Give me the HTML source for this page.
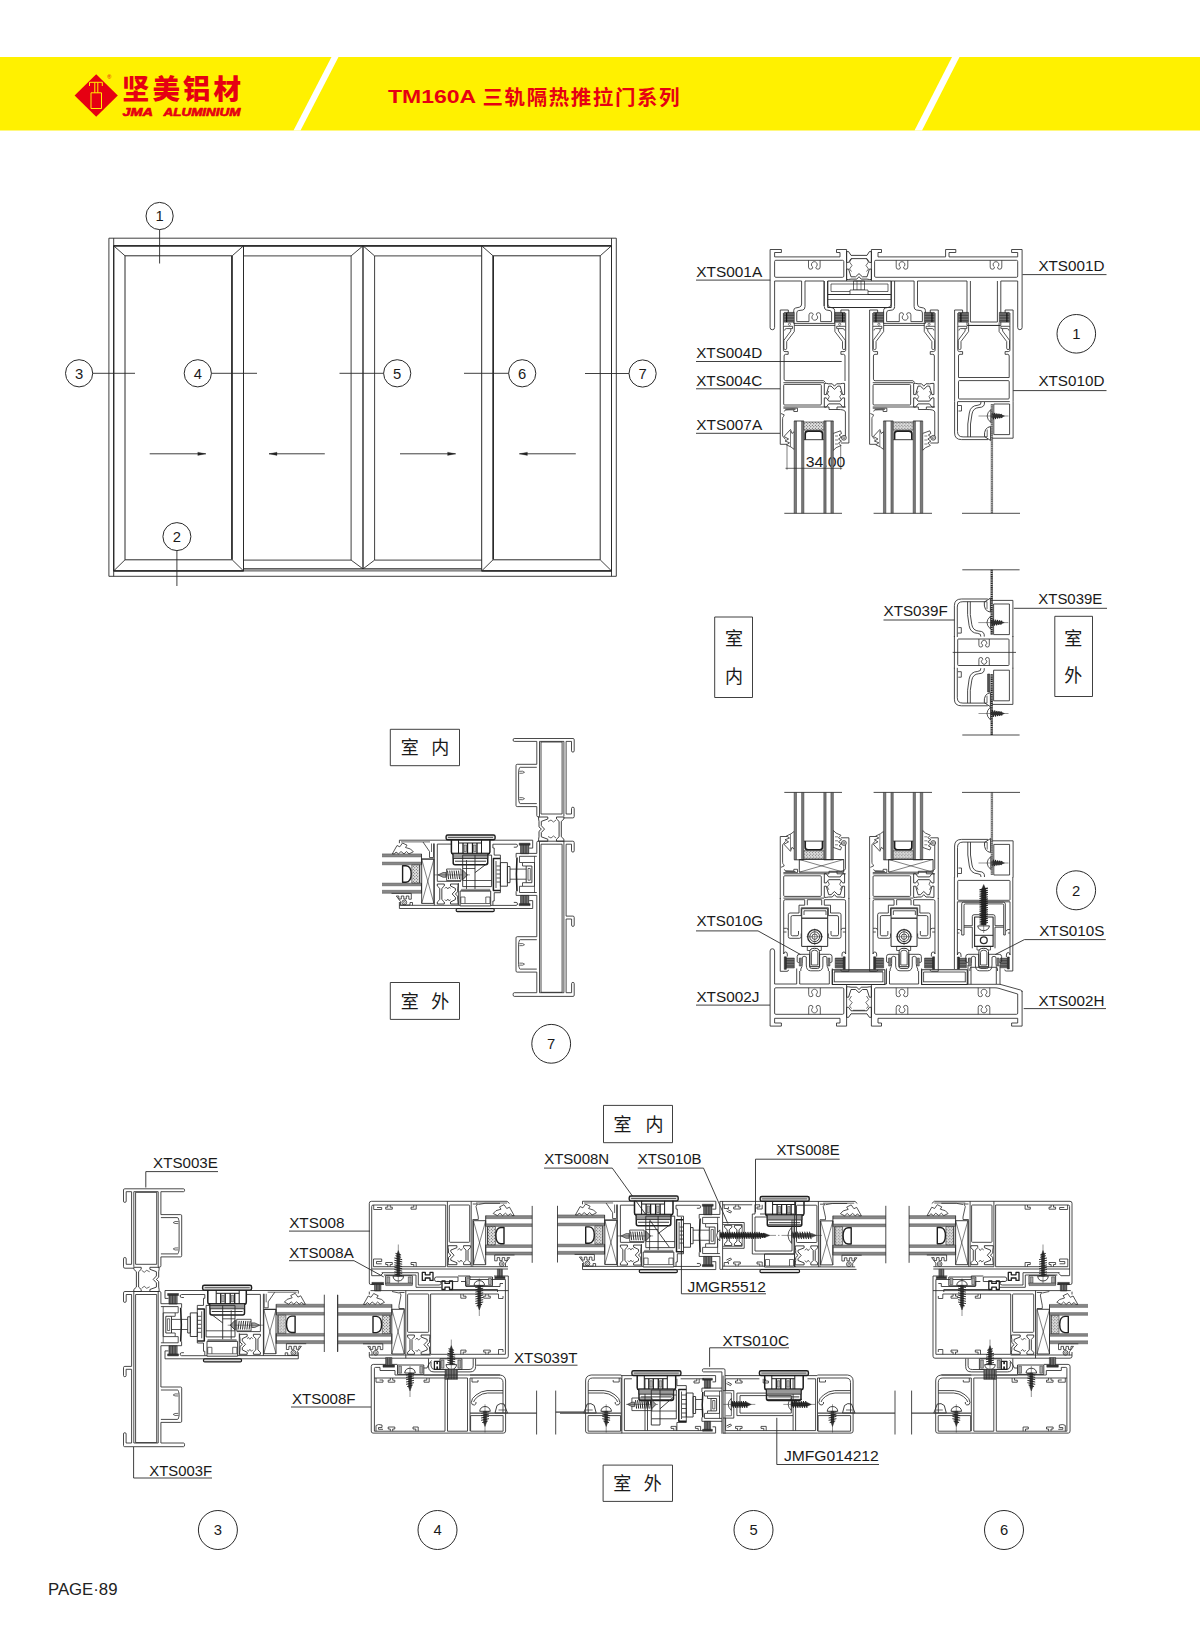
<!DOCTYPE html>
<html lang="zh"><head><meta charset="utf-8"><title>TM160A 三轨隔热推拉门系列</title>
<style>
html,body{margin:0;padding:0;background:#fff}
svg{display:block}
.lb{font-family:"Liberation Sans","Noto Sans CJK SC",sans-serif;fill:#1a1a1a;stroke:none}
.cj{font-family:"Liberation Sans","Noto Sans CJK SC",sans-serif;font-weight:400;fill:#1a1a1a;stroke:none}
</style></head><body>
<svg width="1200" height="1629" viewBox="0 0 1200 1629" fill="none" stroke="#2a2a2a" stroke-width="0.9" stroke-linecap="butt" stroke-linejoin="round">
<defs><pattern id="dots" width="3" height="3" patternUnits="userSpaceOnUse"><rect width="3" height="3" fill="#e4e4e4" stroke="none"/><circle cx="0.8" cy="0.8" r="0.55" fill="#333" stroke="none"/><circle cx="2.3" cy="2.2" r="0.5" fill="#333" stroke="none"/></pattern><pattern id="pile" width="2" height="1.6" patternUnits="userSpaceOnUse"><rect width="2" height="1.6" fill="#444" stroke="none"/><rect y="0.9" width="2" height="0.5" fill="#999" stroke="none"/></pattern><pattern id="pilev" width="1.6" height="2" patternUnits="userSpaceOnUse"><rect width="1.6" height="2" fill="#444" stroke="none"/><rect x="0.9" width="0.5" height="2" fill="#999" stroke="none"/></pattern></defs>
<g stroke="none">
<rect x="0" y="57" width="1200" height="73.5" fill="#fff100"/>
<path d="M331.5 57L338.5 57L300.5 130.5L293.5 130.5Z" fill="#fff"/>
<path d="M952 57L959.5 57L922 130.5L914.5 130.5Z" fill="#fff"/>
<path d="M96.2 74.3L117.8 95.5L96.2 116.7L74.6 95.5Z" fill="#e60012"/>
<g fill="none" stroke="#fff100" stroke-width="1">
<path d="M89.5 86V82.3H102.3V86M94.8 82.3V92.8M97.8 82.3V92.8"/>
<rect x="91" y="92.8" width="10.5" height="15.7"/>
</g>
<text x="109.3" y="78.6" font-size="5.5" fill="#e60012" text-anchor="middle" font-family="Liberation Sans,sans-serif">®</text>
<text x="122" y="99" font-size="27.5" fill="#e60012" font-weight="900" textLength="119" lengthAdjust="spacing" font-family="'Liberation Sans','Noto Sans CJK SC',sans-serif">坚美铝材</text>
<text x="122.5" y="115.6" font-size="10" fill="#e60012" font-weight="bold" font-style="italic" textLength="30.5" lengthAdjust="spacingAndGlyphs" font-family="'Liberation Sans',sans-serif" stroke="#e60012" stroke-width="0.6">JMA</text>
<text x="163.5" y="115.6" font-size="10" fill="#e60012" font-weight="bold" font-style="italic" textLength="77" lengthAdjust="spacingAndGlyphs" font-family="'Liberation Sans',sans-serif" stroke="#e60012" stroke-width="0.6">ALUMINIUM</text>
<text x="388" y="103" font-size="19.2" fill="#e60012" font-weight="bold" textLength="88" lengthAdjust="spacingAndGlyphs" font-family="'Liberation Sans',sans-serif">TM160A</text>
<text x="482.5" y="104.6" font-size="20.5" fill="#e60012" font-weight="bold" textLength="197" lengthAdjust="spacing" font-family="'Liberation Sans','Noto Sans CJK SC',sans-serif">三轨隔热推拉门系列</text>
<text x="48" y="1595" font-size="16" fill="#222" textLength="69.5" lengthAdjust="spacingAndGlyphs" font-family="'Liberation Sans',sans-serif">PAGE·89</text>
</g>
<rect x="108.9" y="238.2" width="507.4" height="338.1" stroke-width="0.9"/>
<rect x="113.7" y="245.8" width="497.8" height="325.1" stroke-width="0.9"/>
<path d="M113.7 245.8L611.5 245.8" stroke-width="1.3"/>
<path d="M113.7 238.2L113.7 576.3" stroke-width="0.9"/>
<path d="M611.5 238.2L611.5 576.3" stroke-width="0.9"/>
<rect x="113.7" y="245.8" width="129.8" height="325.1" stroke-width="1"/>
<rect x="125" y="255.8" width="107.2" height="304" stroke-width="1"/>
<path d="M113.7 245.8L125 255.8" stroke-width="0.9"/>
<path d="M243.5 245.8L232.2 255.8" stroke-width="0.9"/>
<path d="M113.7 570.9L125 559.8" stroke-width="0.9"/>
<path d="M243.5 570.9L232.2 559.8" stroke-width="0.9"/>
<rect x="481.7" y="245.8" width="129.8" height="325.1" stroke-width="1"/>
<rect x="493" y="255.8" width="107.2" height="304" stroke-width="1"/>
<path d="M481.7 245.8L493 255.8" stroke-width="0.9"/>
<path d="M611.5 245.8L600.2 255.8" stroke-width="0.9"/>
<path d="M481.7 570.9L493 559.8" stroke-width="0.9"/>
<path d="M611.5 570.9L600.2 559.8" stroke-width="0.9"/>
<path d="M243.5 245.8L481.7 245.8" stroke-width="1.3"/>
<path d="M243.5 568.9L481.7 568.9" stroke-width="1.3"/>
<path d="M243.5 255.9L351.1 255.9" stroke-width="0.9"/>
<path d="M243.5 560.1L351.1 560.1" stroke-width="0.9"/>
<path d="M351.1 255.9L351.1 560.1" stroke-width="0.9"/>
<path d="M363 245.8L363 568.9" stroke-width="1.4"/>
<path d="M363 245.8L351.1 255.9" stroke-width="0.9"/>
<path d="M363 568.9L351.1 560.1" stroke-width="0.9"/>
<path d="M374.6 255.9L374.6 560.1" stroke-width="0.9"/>
<path d="M374.6 255.9L481.7 255.9" stroke-width="0.9"/>
<path d="M374.6 560.1L481.7 560.1" stroke-width="0.9"/>
<path d="M363 245.8L374.6 255.9" stroke-width="0.9"/>
<path d="M363 568.9L374.6 560.1" stroke-width="0.9"/>
<path d="M231.8 255.9L231.8 559.3" stroke-width="1.4"/>
<path d="M243.5 245.8L243.5 570.9" stroke-width="1"/>
<path d="M493.3 255.9L493.3 559.3" stroke-width="1.4"/>
<path d="M113.7 570.9L243.5 570.9" stroke-width="1.3"/>
<path d="M481.7 570.9L611.5 570.9" stroke-width="1.3"/>
<path d="M149.7 453.8L205.8 453.8" stroke-width="0.9"/>
<path d="M205.8 453.8L197.8 452.2L197.8 455.4Z" stroke-width="0.3" fill="#222"/>
<path d="M324.8 453.8L269 453.8" stroke-width="0.9"/>
<path d="M269 453.8L277 452.2L277 455.4Z" stroke-width="0.3" fill="#222"/>
<path d="M400 453.8L455.6 453.8" stroke-width="0.9"/>
<path d="M455.6 453.8L447.6 452.2L447.6 455.4Z" stroke-width="0.3" fill="#222"/>
<path d="M575.8 453.8L519.4 453.8" stroke-width="0.9"/>
<path d="M519.4 453.8L527.4 452.2L527.4 455.4Z" stroke-width="0.3" fill="#222"/>
<circle cx="159.6" cy="216" r="13.6" stroke-width="1"/>
<text x="159.6" y="221.33" font-size="14.8" text-anchor="middle" class="lb">1</text>
<path d="M159.6 229.6L159.6 263.5" stroke-width="0.9"/>
<circle cx="176.9" cy="536.6" r="14" stroke-width="1"/>
<text x="176.9" y="541.93" font-size="14.8" text-anchor="middle" class="lb">2</text>
<path d="M176.9 550.6L176.9 586" stroke-width="0.9"/>
<circle cx="79.1" cy="373.3" r="13.6" stroke-width="1"/>
<text x="79.1" y="378.63" font-size="14.8" text-anchor="middle" class="lb">3</text>
<path d="M92.7 373.3L135 373.3" stroke-width="0.9"/>
<circle cx="197.8" cy="373.3" r="13.6" stroke-width="1"/>
<text x="197.8" y="378.63" font-size="14.8" text-anchor="middle" class="lb">4</text>
<path d="M211.4 373.3L257 373.3" stroke-width="0.9"/>
<circle cx="397.2" cy="373.3" r="13.6" stroke-width="1"/>
<text x="397.2" y="378.63" font-size="14.8" text-anchor="middle" class="lb">5</text>
<path d="M339.5 373.3L383.6 373.3" stroke-width="0.9"/>
<circle cx="522.2" cy="373.3" r="13.6" stroke-width="1"/>
<text x="522.2" y="378.63" font-size="14.8" text-anchor="middle" class="lb">6</text>
<path d="M464 373.3L508.6 373.3" stroke-width="0.9"/>
<circle cx="642.6" cy="373.5" r="13.6" stroke-width="1"/>
<text x="642.6" y="378.83" font-size="14.8" text-anchor="middle" class="lb">7</text>
<path d="M585 373.5L629 373.5" stroke-width="0.9"/>
<text x="696.2" y="277.3" font-size="14.3" textLength="66" lengthAdjust="spacingAndGlyphs" class="lb">XTS001A</text>
<path d="M696 280.1L770.3 280.1"/>
<text x="696.2" y="357.9" font-size="14.3" textLength="66" lengthAdjust="spacingAndGlyphs" class="lb">XTS004D</text>
<path d="M696 361.5L841.7 361.5"/>
<text x="696.2" y="385.5" font-size="14.3" textLength="66" lengthAdjust="spacingAndGlyphs" class="lb">XTS004C</text>
<path d="M696 388.8L780.2 388.8"/>
<text x="696.2" y="430" font-size="14.3" textLength="66" lengthAdjust="spacingAndGlyphs" class="lb">XTS007A</text>
<path d="M696 433.3L780.2 433.3"/>
<text x="1038.4" y="271" font-size="14.3" textLength="66" lengthAdjust="spacingAndGlyphs" class="lb">XTS001D</text>
<path d="M1022.5 274.6L1106.5 274.6"/>
<text x="1038.4" y="385.8" font-size="14.3" textLength="66" lengthAdjust="spacingAndGlyphs" class="lb">XTS010D</text>
<path d="M1013.2 390.6L1106.5 390.6"/>
<circle cx="1076.3" cy="333.8" r="19.3" stroke-width="1"/>
<text x="1076.3" y="339.13" font-size="14.8" text-anchor="middle" class="lb">1</text>
<text x="805.7" y="467.3" font-size="14.3" textLength="39.5" lengthAdjust="spacingAndGlyphs" class="lb">34.00</text>
<text x="883.5" y="615.8" font-size="14.3" textLength="64.2" lengthAdjust="spacingAndGlyphs" class="lb">XTS039F</text>
<path d="M883.5 620L954.4 620"/>
<text x="1038.3" y="603.8" font-size="14.3" textLength="64" lengthAdjust="spacingAndGlyphs" class="lb">XTS039E</text>
<path d="M1013.8 608.3L1107 608.3"/>
<rect x="1054.8" y="616.3" width="37.7" height="80.2" stroke-width="0.9"/>
<text font-size="18" text-anchor="middle" class="cj"><tspan x="1073.3" y="645.19">室</tspan><tspan x="1073.3" y="681.99">外</tspan></text>
<rect x="714.7" y="617" width="37.8" height="80.5" stroke-width="0.9"/>
<text font-size="18" text-anchor="middle" class="cj"><tspan x="734" y="645.19">室</tspan><tspan x="734" y="683.39">内</tspan></text>
<text x="696.4" y="926.2" font-size="14.3" textLength="66.6" lengthAdjust="spacingAndGlyphs" class="lb">XTS010G</text>
<path d="M696 930.9L758 930.9"/>
<path d="M758 930.9L800.5 954.5"/>
<text x="696.4" y="1001.7" font-size="14.3" textLength="63" lengthAdjust="spacingAndGlyphs" class="lb">XTS002J</text>
<path d="M696 1005.1L770 1005.1"/>
<text x="1039.2" y="935.6" font-size="14.3" textLength="65.2" lengthAdjust="spacingAndGlyphs" class="lb">XTS010S</text>
<path d="M1024.4 939.6L1105.8 939.6"/>
<path d="M1024.4 939.6L995.3 954.5"/>
<text x="1038.5" y="1005.7" font-size="14.3" textLength="66" lengthAdjust="spacingAndGlyphs" class="lb">XTS002H</text>
<path d="M1023.7 1008.6L1106 1008.6"/>
<circle cx="1076.1" cy="890.3" r="19.5" stroke-width="1"/>
<text x="1076.1" y="895.63" font-size="14.8" text-anchor="middle" class="lb">2</text>
<rect x="390.3" y="729.3" width="69.2" height="36.4" stroke-width="0.9"/>
<text font-size="18" text-anchor="middle" class="cj"><tspan x="409.8" y="754.39">室</tspan><tspan x="440.3" y="754.39">内</tspan></text>
<rect x="390.3" y="982.5" width="69.2" height="36.9" stroke-width="0.9"/>
<text font-size="18" text-anchor="middle" class="cj"><tspan x="409.8" y="1008.19">室</tspan><tspan x="440.3" y="1008.19">外</tspan></text>
<circle cx="551.2" cy="1043.8" r="19.4" stroke-width="1"/>
<text x="551.2" y="1049.13" font-size="14.8" text-anchor="middle" class="lb">7</text>
<text x="153.1" y="1168.3" font-size="14.3" textLength="64.7" lengthAdjust="spacingAndGlyphs" class="lb">XTS003E</text>
<path d="M145.8 1171.6L218 1171.6"/>
<path d="M145.8 1171.6L145.8 1187.5"/>
<text x="149.3" y="1475.8" font-size="14.3" textLength="62.7" lengthAdjust="spacingAndGlyphs" class="lb">XTS003F</text>
<path d="M133.6 1478L212 1478"/>
<path d="M133.6 1447L133.6 1478"/>
<text x="289.2" y="1228.1" font-size="14.3" textLength="55.2" lengthAdjust="spacingAndGlyphs" class="lb">XTS008</text>
<path d="M289 1231.1L370 1231.1"/>
<text x="289.2" y="1258.1" font-size="14.3" textLength="64.5" lengthAdjust="spacingAndGlyphs" class="lb">XTS008A</text>
<path d="M289 1260.7L354 1260.7"/>
<path d="M354 1260.7L383.7 1276.9"/>
<text x="291.9" y="1403.6" font-size="14.3" textLength="63.7" lengthAdjust="spacingAndGlyphs" class="lb">XTS008F</text>
<path d="M291 1407L371 1407"/>
<text x="514" y="1362.5" font-size="14.3" textLength="63.5" lengthAdjust="spacingAndGlyphs" class="lb">XTS039T</text>
<path d="M476.3 1365.2L577.5 1365.2"/>
<text x="544.2" y="1164.3" font-size="14.3" textLength="65" lengthAdjust="spacingAndGlyphs" class="lb">XTS008N</text>
<path d="M544 1168.1L612.3 1168.1"/>
<path d="M612.3 1168.1L669.3 1247.2"/>
<text x="637.7" y="1164.3" font-size="14.3" textLength="63.9" lengthAdjust="spacingAndGlyphs" class="lb">XTS010B</text>
<path d="M637.7 1168.1L703.5 1168.1"/>
<path d="M703.5 1168.1L727.9 1223.5"/>
<text x="776.4" y="1155.4" font-size="14.3" textLength="63.3" lengthAdjust="spacingAndGlyphs" class="lb">XTS008E</text>
<path d="M755.5 1159.2L839.7 1159.2"/>
<path d="M755.5 1159.2L755.5 1212.4"/>
<text x="687.4" y="1291.6" font-size="14.3" textLength="78.5" lengthAdjust="spacingAndGlyphs" class="lb">JMGR5512</text>
<path d="M681.4 1293.8L766 1293.8"/>
<path d="M681.4 1217L681.4 1293.8"/>
<text x="722.4" y="1345.5" font-size="14.3" textLength="66.6" lengthAdjust="spacingAndGlyphs" class="lb">XTS010C</text>
<path d="M709.6 1347.8L789 1347.8"/>
<path d="M709.6 1347.8L709.6 1366.8"/>
<text x="783.9" y="1461.1" font-size="14.3" textLength="94.9" lengthAdjust="spacingAndGlyphs" class="lb">JMFG014212</text>
<path d="M776.8 1464.5L879 1464.5"/>
<path d="M776.8 1417.8L776.8 1464.5"/>
<rect x="603.5" y="1105.4" width="69" height="37.3" stroke-width="0.9"/>
<text font-size="18" text-anchor="middle" class="cj"><tspan x="622.5" y="1131.09">室</tspan><tspan x="654.4" y="1131.09">内</tspan></text>
<rect x="603.1" y="1465.1" width="69.4" height="36.3" stroke-width="0.9"/>
<text font-size="18" text-anchor="middle" class="cj"><tspan x="622.3" y="1490.19">室</tspan><tspan x="652.7" y="1490.19">外</tspan></text>
<circle cx="217.9" cy="1530" r="19.5" stroke-width="1"/>
<text x="217.9" y="1535.33" font-size="14.8" text-anchor="middle" class="lb">3</text>
<circle cx="437.5" cy="1530" r="19.5" stroke-width="1"/>
<text x="437.5" y="1535.33" font-size="14.8" text-anchor="middle" class="lb">4</text>
<circle cx="753.5" cy="1530" r="19.5" stroke-width="1"/>
<text x="753.5" y="1535.33" font-size="14.8" text-anchor="middle" class="lb">5</text>
<circle cx="1004" cy="1530" r="19.5" stroke-width="1"/>
<text x="1004" y="1535.33" font-size="14.8" text-anchor="middle" class="lb">6</text>
<path d="M770.1 249.5L770.1 327.5" stroke-width="0.85"/>
<path d="M774.6 281L774.6 327.5" stroke-width="0.85"/>
<path d="M774.6 252.5L774.6 256.9" stroke-width="0.85"/>
<path d="M770.1 327.5A2.25 2.25 0 0 0 774.6 327.5" stroke-width="0.85"/>
<path d="M770.1 249.5L781.4 249.5" stroke-width="0.85"/>
<path d="M781.4 249.5L781.4 252.5" stroke-width="0.85"/>
<path d="M774.6 252.5L781.4 252.5" stroke-width="0.85"/>
<path d="M774.6 256.9L840 256.9" stroke-width="0.85"/>
<path d="M840 252.5L840 256.9" stroke-width="0.85"/>
<path d="M836.5 252.5L840 252.5" stroke-width="0.85"/>
<path d="M836.5 249.5L836.5 252.5" stroke-width="0.85"/>
<path d="M836.5 249.5L846.6 249.5" stroke-width="0.85"/>
<rect x="774.6" y="260.3" width="69.2" height="17" stroke-width="0.85" rx="1.2"/>
<path d="M846.6 249.5L846.6 281" stroke-width="0.85"/>
<path d="M808.5 260.3V267.08A2.15 2.15 0 0 0 812.8 267.08A2.9 2.9 0 1 1 815.8 267.08A2.15 2.15 0 0 0 820.1 267.08V260.3" stroke-width="0.75"/>
<path d="M774.6 281L801.6 281" stroke-width="0.85"/>
<path d="M805 281L824 281" stroke-width="0.85"/>
<path d="M846.6 251.6L848.6 251.6L851 255.38L867 255.38L869.4 251.6L871.4 251.6L871.4 262.4L869.4 262.4L867 258.62L851 258.62L848.6 262.4L846.6 262.4Z" stroke-width="0.9"/>
<path d="M846.6 279.5L848.6 279.5L851 279.1L856.8 279.1L859 276.7L861.2 279.1L867 279.1L869.4 279.5L871.4 279.5L871.4 269.1L869.4 269.1L867 276.8L862.4 276.8L859 273.6L855.6 276.8L851 276.8L848.6 269.1L846.6 269.1Z" stroke-width="0.9"/>
<path d="M851.5 259L849.5 262L852 265.5L849.5 269L851.5 271.5M866.5 259L868.5 262L866 265.5L868.5 269L866.5 271.5" stroke-width="0.7"/>
<path d="M871.4 249.5L871.4 281" stroke-width="0.85"/>
<path d="M871.4 249.5L881.5 249.5" stroke-width="0.85"/>
<path d="M881.5 249.5L881.5 252.5" stroke-width="0.85"/>
<path d="M878 252.5L881.5 252.5" stroke-width="0.85"/>
<path d="M878 252.5L878 256.9" stroke-width="0.85"/>
<path d="M878 256.9L945.6 256.9" stroke-width="0.85"/>
<path d="M945.6 249.5L945.6 256.9" stroke-width="0.85"/>
<path d="M945.6 249.5L955.8 249.5" stroke-width="0.85"/>
<path d="M955.8 249.5L955.8 252.5" stroke-width="0.85"/>
<path d="M949 252.5L955.8 252.5" stroke-width="0.85"/>
<path d="M949 252.5L949 256.9" stroke-width="0.85"/>
<path d="M949 256.9L1017.7 256.9" stroke-width="0.85"/>
<path d="M1017.7 252.5L1017.7 256.9" stroke-width="0.85"/>
<path d="M1011.6 252.5L1017.7 252.5" stroke-width="0.85"/>
<path d="M1011.6 249.5L1011.6 252.5" stroke-width="0.85"/>
<path d="M1011.6 249.5L1022.1 249.5" stroke-width="0.85"/>
<path d="M1022.1 249.5L1022.1 327.5" stroke-width="0.85"/>
<path d="M1017.7 281L1017.7 327.5" stroke-width="0.85"/>
<path d="M1017.7 327.5A2.2 2.2 0 0 0 1022.1 327.5" stroke-width="0.85"/>
<rect x="874.6" y="260.3" width="143.1" height="17" stroke-width="0.85" rx="1.2"/>
<path d="M896.2 260.3V267.08A2.15 2.15 0 0 0 900.5 267.08A2.9 2.9 0 1 1 903.5 267.08A2.15 2.15 0 0 0 907.8 267.08V260.3" stroke-width="0.75"/>
<path d="M990.2 260.3V267.08A2.15 2.15 0 0 0 994.5 267.08A2.9 2.9 0 1 1 997.5 267.08A2.15 2.15 0 0 0 1001.8 267.08V260.3" stroke-width="0.75"/>
<path d="M891.2 281L914.1 281" stroke-width="0.85"/>
<path d="M917.5 281L967 281" stroke-width="0.85"/>
<path d="M1000.8 281L1017.7 281" stroke-width="0.85"/>
<rect x="827.7" y="281" width="63.5" height="26.5" stroke-width="1"/>
<path d="M831 284L888 284" stroke-width="0.7"/>
<path d="M831 291.5L888 291.5" stroke-width="0.7"/>
<path d="M828 294.5L891 294.5" stroke-width="1.1"/>
<path d="M828 299.5L891 299.5" stroke-width="0.7"/>
<path d="M831 284L831 291.5" stroke-width="0.7"/>
<path d="M888 284L888 291.5" stroke-width="0.7"/>
<rect x="853.5" y="281" width="11" height="9" stroke-width="0.7"/>
<rect x="850" y="290" width="18" height="4.5" stroke-width="0.7" fill="#fff"/>
<path d="M857 281L857 290" stroke-width="0.6"/>
<path d="M861 281L861 290" stroke-width="0.6"/>
<path d="M801.6 281V304Q801.6 306.6 799.4 307.2L795.55 308Q793.75 308.4 793.75 310.5V323.4" stroke-width="0.85"/>
<path d="M805 281V306.5Q805 309.6 802.8 310L798.35 310.6Q796.75 311 796.75 313V321.6" stroke-width="0.85"/>
<path d="M827.7 281V304Q827.7 306.6 829.9 307.2L832.8 308Q834.6 308.4 834.6 310.5V323.4" stroke-width="0.85"/>
<path d="M824.3 281V306.5Q824.3 309.6 826.5 310L830 310.6Q831.6 311 831.6 313V321.6" stroke-width="0.85"/>
<path d="M793.75 323.4L834.6 323.4" stroke-width="0.85"/>
<path d="M796.75 321.6L808.98 321.6" stroke-width="0.85"/>
<path d="M820.57 321.6L831.6 321.6" stroke-width="0.85"/>
<path d="M808.98 321.6V314.82A2.15 2.15 0 0 1 813.27 314.82A2.9 2.9 0 1 0 816.27 314.82A2.15 2.15 0 0 1 820.57 314.82V321.6" stroke-width="0.75"/>
<path d="M824 281L824 306" stroke-width="0.85"/>
<path d="M891.2 281V304Q891.2 306.6 889 307.2L885.4 308Q883.6 308.4 883.6 310.5V323.4" stroke-width="0.85"/>
<path d="M894.6 281V306.5Q894.6 309.6 892.4 310L888.2 310.6Q886.6 311 886.6 313V321.6" stroke-width="0.85"/>
<path d="M917.5 281V304Q917.5 306.6 919.7 307.2L923.6 308Q925.4 308.4 925.4 310.5V323.4" stroke-width="0.85"/>
<path d="M914.1 281V306.5Q914.1 309.6 916.3 310L920.8 310.6Q922.4 311 922.4 313V321.6" stroke-width="0.85"/>
<path d="M883.6 323.4L925.4 323.4" stroke-width="0.85"/>
<path d="M886.6 321.6L899.3 321.6" stroke-width="0.85"/>
<path d="M910.9 321.6L922.4 321.6" stroke-width="0.85"/>
<path d="M899.3 321.6V314.82A2.15 2.15 0 0 1 903.6 314.82A2.9 2.9 0 1 0 906.6 314.82A2.15 2.15 0 0 1 910.9 314.82V321.6" stroke-width="0.75"/>
<path d="M894.6 307.5L894.6 308" stroke-width="0.85"/>
<path d="M967 281L967 325.5" stroke-width="0.85"/>
<path d="M970.4 281L970.4 322" stroke-width="0.85"/>
<path d="M997.4 281L997.4 322" stroke-width="0.85"/>
<path d="M1000.8 281L1000.8 325.5" stroke-width="0.85"/>
<path d="M970.4 322L997.4 322" stroke-width="0.85"/>
<path d="M967 325.5L1000.8 325.5" stroke-width="0.85"/>
<g transform="translate(0 0)">
<path d="M780.25 310L780.25 382" stroke-width="0.85"/>
<path d="M848.9 310L848.9 382" stroke-width="0.85"/>
<path d="M780.25 310L788.3 310" stroke-width="0.85"/>
<path d="M788.3 310L788.3 313" stroke-width="0.85"/>
<path d="M786.5 313L788.3 313" stroke-width="0.85"/>
<path d="M840.9 310L848.9 310" stroke-width="0.85"/>
<path d="M840.9 310L840.9 313" stroke-width="0.85"/>
<path d="M840.9 313L842.7 313" stroke-width="0.85"/>
<path d="M783.4 313L783.4 325.5" stroke-width="0.85"/>
<path d="M845.7 313L845.7 325.5" stroke-width="0.85"/>
<rect x="784.2" y="312.4" width="10" height="9.8" stroke-width="0.5" fill="url(#pile)" stroke="#222"/>
<rect x="835" y="312.4" width="10" height="9.8" stroke-width="0.5" fill="url(#pile)" stroke="#222"/>
<path d="M786.6 313L786.6 322" stroke-width="1.2" stroke="#111"/>
<path d="M842.6 313L842.6 322" stroke-width="1.2" stroke="#111"/>
<path d="M794.3 325.4L835 325.4" stroke-width="0.85"/>
<path d="M783.6 326.3H792.5V328.6H786.2Q784.6 328.8 784.6 330.5" stroke-width="0.8"/>
<path d="M794.3 322.5V331.5L786.7 341.5V348.2Q786.7 349.6 785.3 349.6Q783.9 349.6 783.9 348.2V340.3L790.8 331V329" stroke-width="0.8"/>
<circle cx="789.5" cy="324.3" r="1.1" stroke-width="0.6"/>
<path d="M845.6 326.3H836.7V328.6H843Q844.6 328.8 844.6 330.5" stroke-width="0.8"/>
<path d="M834.9 322.5V331.5L842.5 341.5V348.2Q842.5 349.6 843.9 349.6Q845.3 349.6 845.3 348.2V340.3L838.4 331V329" stroke-width="0.8"/>
<circle cx="839.7" cy="324.3" r="1.1" stroke-width="0.6"/>
<path d="M783.4 325.5V350.3Q783.6 351.6 785 351.6H788.2V354.3H785.5Q784.1 354.5 784.1 356V379.2Q784.2 380.7 785.8 380.7H823.5L825.5 382.5" stroke-width="0.85"/>
<path d="M845.7 325.5V350.3Q845.5 351.6 844.1 351.6H840.9V354.3H843.6Q845 354.5 845 356V381" stroke-width="0.85"/>
<path d="M780.25 382L780.25 444.3" stroke-width="0.85"/>
<path d="M848.9 382L848.9 443" stroke-width="0.85"/>
<path d="M783.4 382.7L824 382.7" stroke-width="0.85"/>
<rect x="783.7" y="384.4" width="37.6" height="20.6" stroke-width="0.85" rx="1"/>
<path d="M783.4 407L829 407" stroke-width="0.85"/>
<path d="M824.3 383.4L826.3 383.4L828.7 383.8L832.25 383.8L834.45 386.2L836.65 383.8L840.2 383.8L842.6 383.4L844.6 383.4L844.6 394.6L842.6 394.6L840.2 386.1L837.85 386.1L834.45 389.3L831.05 386.1L828.7 386.1L826.3 394.6L824.3 394.6Z" stroke-width="0.9"/>
<path d="M824.3 397.9L826.3 397.9L828.7 401.12L840.2 401.12L842.6 397.9L844.6 397.9L844.6 407.1L842.6 407.1L840.2 403.88L828.7 403.88L826.3 407.1L824.3 407.1Z" stroke-width="0.9"/>
<path d="M828.8 391L827.3 394L829.3 396.5L828 399.5M840.2 391L841.7 394L839.7 396.5L841 399.5" stroke-width="0.7"/>
<path d="M829 407V409.5H837V407" stroke-width="0.85"/>
<path d="M837 407L845.7 407" stroke-width="0.85"/>
<path d="M837 409.5Q845 409.3 845.4 412V436" stroke-width="0.85"/>
<path d="M783.4 408.2H797.5V411.5H793.8V409.8H786Q784.6 410 784.3 411.5" stroke-width="0.8"/>
<path d="M781 413.5L784.2 414.8L783.5 416.5Q782.6 417 782.6 418.5V436L785.5 439.5" stroke-width="0.8"/>
<path d="M785.5 409.5Q792 408.8 795.5 409.2" stroke-width="1.4" stroke="#555"/>
<path d="M780.25 444.3L787 444.3" stroke-width="0.85"/>
<path d="M841 443L848.9 443" stroke-width="0.85"/>
<path d="M784 436.5L790.5 429.5L792 433.5L794.3 431.5V449.5L791 447L786.5 444.8L789.5 442.8L785 441L788.6 439L784 436.5Z" stroke-width="0.8"/>
<path d="M790.5 431V446.5" stroke-width="0.6"/>
<path d="M833 433.5L840.5 430.8L841.5 433.5L839 435L841.5 437L838.5 439L841.5 441.2L838.5 443L841 445.5Q835 447.5 833.2 450.5Z" stroke-width="0.8"/>
<path d="M835 436H838M835 440H838M835 444H838" stroke-width="0.6"/>
<circle cx="843.9" cy="437.8" r="2.4" stroke-width="0.8"/>
<circle cx="843.9" cy="437.8" r="1.1" stroke-width="0.6"/>
<rect x="794.1" y="421" width="2.4" height="92.3" stroke-width="0.01" fill="#7a7a7a" stroke="none"/>
<path d="M794.1 421L794.1 513.3" stroke-width="0.5" stroke="#333"/>
<path d="M796.5 421L796.5 513.3" stroke-width="0.5" stroke="#333"/>
<rect x="801.6" y="421" width="2.3" height="92.3" stroke-width="0.01" fill="#7a7a7a" stroke="none"/>
<path d="M801.6 421L801.6 513.3" stroke-width="0.5" stroke="#333"/>
<path d="M803.9 421L803.9 513.3" stroke-width="0.5" stroke="#333"/>
<rect x="823.8" y="421" width="2.3" height="92.3" stroke-width="0.01" fill="#7a7a7a" stroke="none"/>
<path d="M823.8 421L823.8 513.3" stroke-width="0.5" stroke="#333"/>
<path d="M826.1 421L826.1 513.3" stroke-width="0.5" stroke="#333"/>
<rect x="830.9" y="421" width="2.5" height="92.3" stroke-width="0.01" fill="#7a7a7a" stroke="none"/>
<path d="M830.9 421L830.9 513.3" stroke-width="0.5" stroke="#333"/>
<path d="M833.4 421L833.4 513.3" stroke-width="0.5" stroke="#333"/>
<path d="M794.1 421L803.9 421" stroke-width="0.9"/>
<path d="M823.8 421L833.4 421" stroke-width="0.9"/>
<rect x="803.9" y="422" width="19.9" height="8.14" stroke-width="0.6" fill="url(#dots)"/>
<path d="M805.2 439.7V433.64Q805.2 431.04 808.1 431.04H819.6Q822.5 431.04 822.5 433.64V439.7" stroke-width="1.7" stroke="#1e1e1e"/>
<path d="M803.9 439.7L823.8 439.7" stroke-width="0.9"/>
</g>
<g transform="translate(89.35 0)">
<path d="M780.25 310L780.25 382" stroke-width="0.85"/>
<path d="M848.9 310L848.9 382" stroke-width="0.85"/>
<path d="M780.25 310L788.3 310" stroke-width="0.85"/>
<path d="M788.3 310L788.3 313" stroke-width="0.85"/>
<path d="M786.5 313L788.3 313" stroke-width="0.85"/>
<path d="M840.9 310L848.9 310" stroke-width="0.85"/>
<path d="M840.9 310L840.9 313" stroke-width="0.85"/>
<path d="M840.9 313L842.7 313" stroke-width="0.85"/>
<path d="M783.4 313L783.4 325.5" stroke-width="0.85"/>
<path d="M845.7 313L845.7 325.5" stroke-width="0.85"/>
<rect x="784.2" y="312.4" width="10" height="9.8" stroke-width="0.5" fill="url(#pile)" stroke="#222"/>
<rect x="835" y="312.4" width="10" height="9.8" stroke-width="0.5" fill="url(#pile)" stroke="#222"/>
<path d="M786.6 313L786.6 322" stroke-width="1.2" stroke="#111"/>
<path d="M842.6 313L842.6 322" stroke-width="1.2" stroke="#111"/>
<path d="M794.3 325.4L835 325.4" stroke-width="0.85"/>
<path d="M783.6 326.3H792.5V328.6H786.2Q784.6 328.8 784.6 330.5" stroke-width="0.8"/>
<path d="M794.3 322.5V331.5L786.7 341.5V348.2Q786.7 349.6 785.3 349.6Q783.9 349.6 783.9 348.2V340.3L790.8 331V329" stroke-width="0.8"/>
<circle cx="789.5" cy="324.3" r="1.1" stroke-width="0.6"/>
<path d="M845.6 326.3H836.7V328.6H843Q844.6 328.8 844.6 330.5" stroke-width="0.8"/>
<path d="M834.9 322.5V331.5L842.5 341.5V348.2Q842.5 349.6 843.9 349.6Q845.3 349.6 845.3 348.2V340.3L838.4 331V329" stroke-width="0.8"/>
<circle cx="839.7" cy="324.3" r="1.1" stroke-width="0.6"/>
<path d="M783.4 325.5V350.3Q783.6 351.6 785 351.6H788.2V354.3H785.5Q784.1 354.5 784.1 356V379.2Q784.2 380.7 785.8 380.7H823.5L825.5 382.5" stroke-width="0.85"/>
<path d="M845.7 325.5V350.3Q845.5 351.6 844.1 351.6H840.9V354.3H843.6Q845 354.5 845 356V381" stroke-width="0.85"/>
<path d="M780.25 382L780.25 444.3" stroke-width="0.85"/>
<path d="M848.9 382L848.9 443" stroke-width="0.85"/>
<path d="M783.4 382.7L824 382.7" stroke-width="0.85"/>
<rect x="783.7" y="384.4" width="37.6" height="20.6" stroke-width="0.85" rx="1"/>
<path d="M783.4 407L829 407" stroke-width="0.85"/>
<path d="M824.3 383.4L826.3 383.4L828.7 383.8L832.25 383.8L834.45 386.2L836.65 383.8L840.2 383.8L842.6 383.4L844.6 383.4L844.6 394.6L842.6 394.6L840.2 386.1L837.85 386.1L834.45 389.3L831.05 386.1L828.7 386.1L826.3 394.6L824.3 394.6Z" stroke-width="0.9"/>
<path d="M824.3 397.9L826.3 397.9L828.7 401.12L840.2 401.12L842.6 397.9L844.6 397.9L844.6 407.1L842.6 407.1L840.2 403.88L828.7 403.88L826.3 407.1L824.3 407.1Z" stroke-width="0.9"/>
<path d="M828.8 391L827.3 394L829.3 396.5L828 399.5M840.2 391L841.7 394L839.7 396.5L841 399.5" stroke-width="0.7"/>
<path d="M829 407V409.5H837V407" stroke-width="0.85"/>
<path d="M837 407L845.7 407" stroke-width="0.85"/>
<path d="M837 409.5Q845 409.3 845.4 412V436" stroke-width="0.85"/>
<path d="M783.4 408.2H797.5V411.5H793.8V409.8H786Q784.6 410 784.3 411.5" stroke-width="0.8"/>
<path d="M781 413.5L784.2 414.8L783.5 416.5Q782.6 417 782.6 418.5V436L785.5 439.5" stroke-width="0.8"/>
<path d="M785.5 409.5Q792 408.8 795.5 409.2" stroke-width="1.4" stroke="#555"/>
<path d="M780.25 444.3L787 444.3" stroke-width="0.85"/>
<path d="M841 443L848.9 443" stroke-width="0.85"/>
<path d="M784 436.5L790.5 429.5L792 433.5L794.3 431.5V449.5L791 447L786.5 444.8L789.5 442.8L785 441L788.6 439L784 436.5Z" stroke-width="0.8"/>
<path d="M790.5 431V446.5" stroke-width="0.6"/>
<path d="M833 433.5L840.5 430.8L841.5 433.5L839 435L841.5 437L838.5 439L841.5 441.2L838.5 443L841 445.5Q835 447.5 833.2 450.5Z" stroke-width="0.8"/>
<path d="M835 436H838M835 440H838M835 444H838" stroke-width="0.6"/>
<circle cx="843.9" cy="437.8" r="2.4" stroke-width="0.8"/>
<circle cx="843.9" cy="437.8" r="1.1" stroke-width="0.6"/>
<rect x="794.1" y="421" width="2.4" height="92.3" stroke-width="0.01" fill="#7a7a7a" stroke="none"/>
<path d="M794.1 421L794.1 513.3" stroke-width="0.5" stroke="#333"/>
<path d="M796.5 421L796.5 513.3" stroke-width="0.5" stroke="#333"/>
<rect x="801.6" y="421" width="2.3" height="92.3" stroke-width="0.01" fill="#7a7a7a" stroke="none"/>
<path d="M801.6 421L801.6 513.3" stroke-width="0.5" stroke="#333"/>
<path d="M803.9 421L803.9 513.3" stroke-width="0.5" stroke="#333"/>
<rect x="823.8" y="421" width="2.3" height="92.3" stroke-width="0.01" fill="#7a7a7a" stroke="none"/>
<path d="M823.8 421L823.8 513.3" stroke-width="0.5" stroke="#333"/>
<path d="M826.1 421L826.1 513.3" stroke-width="0.5" stroke="#333"/>
<rect x="830.9" y="421" width="2.5" height="92.3" stroke-width="0.01" fill="#7a7a7a" stroke="none"/>
<path d="M830.9 421L830.9 513.3" stroke-width="0.5" stroke="#333"/>
<path d="M833.4 421L833.4 513.3" stroke-width="0.5" stroke="#333"/>
<path d="M794.1 421L803.9 421" stroke-width="0.9"/>
<path d="M823.8 421L833.4 421" stroke-width="0.9"/>
<rect x="803.9" y="422" width="19.9" height="8.14" stroke-width="0.6" fill="url(#dots)"/>
<path d="M805.2 439.7V433.64Q805.2 431.04 808.1 431.04H819.6Q822.5 431.04 822.5 433.64V439.7" stroke-width="1.7" stroke="#1e1e1e"/>
<path d="M803.9 439.7L823.8 439.7" stroke-width="0.9"/>
</g>
<path d="M954.6 310L954.6 401.6" stroke-width="0.85"/>
<path d="M1013.1 310L1013.1 401.6" stroke-width="0.85"/>
<path d="M954.6 310L962.6 310" stroke-width="0.85"/>
<path d="M962.6 310L962.6 313" stroke-width="0.85"/>
<path d="M1005.1 310L1013.1 310" stroke-width="0.85"/>
<path d="M1005.1 310L1005.1 313" stroke-width="0.85"/>
<path d="M957.8 313L957.8 325.5" stroke-width="0.85"/>
<path d="M1009.9 313L1009.9 325.5" stroke-width="0.85"/>
<rect x="958.5" y="312.4" width="10" height="9.8" stroke-width="0.5" fill="url(#pile)" stroke="#222"/>
<rect x="999.3" y="312.4" width="10" height="9.8" stroke-width="0.5" fill="url(#pile)" stroke="#222"/>
<path d="M960.9 313L960.9 322" stroke-width="1.2" stroke="#111"/>
<path d="M1006.9 313L1006.9 322" stroke-width="1.2" stroke="#111"/>
<path d="M968.6 325.4L999.2 325.4" stroke-width="0.85"/>
<path d="M957.9 326.3H966.8V328.6H960.5Q958.9 328.8 958.9 330.5" stroke-width="0.8"/>
<path d="M968.6 322.5V331.5L961 341.5V348.2Q961 349.6 959.6 349.6Q958.2 349.6 958.2 348.2V340.3L965.1 331V329" stroke-width="0.8"/>
<path d="M1009.8 326.3H1000.9V328.6H1007.2Q1008.8 328.8 1008.8 330.5" stroke-width="0.8"/>
<path d="M999.1 322.5V331.5L1006.7 341.5V348.2Q1006.7 349.6 1008.1 349.6Q1009.5 349.6 1009.5 348.2V340.3L1002.6 331V329" stroke-width="0.8"/>
<path d="M957.8 325.5V350.3Q958 351.6 959.4 351.6H962.6V354.3H959.9Q958.5 354.5 958.5 356V377.5H1009.2V356Q1009.2 354.5 1007.8 354.3H1005.1V351.6H1008.3Q1009.7 351.6 1009.9 350.3V325.5" stroke-width="0.85"/>
<rect x="958.5" y="380.6" width="50.7" height="18.4" stroke-width="0.85" rx="1"/>
<path d="M957.8 401.6L1009.8 401.6" stroke-width="0.85"/>
<path d="M954.6 401.6L954.6 433" stroke-width="0.85"/>
<path d="M1013.1 401.6L1013.1 438.2" stroke-width="0.85"/>
<path d="M957.5 401.6V431.5Q957.5 436.9 963.1 436.9H987" stroke-width="0.85"/>
<path d="M954.6 433Q954.6 439.6 961.6 439.6H988" stroke-width="0.85"/>
<rect x="993.8" y="404" width="15.8" height="30.6" stroke-width="0.85"/>
<path d="M992 438.2L1013.1 438.2" stroke-width="0.85"/>
<path d="M958 405.5H961.5V411H958.5" stroke-width="0.8"/>
<path d="M984.5 402Q985 407.5 979 407.5Q973 408 972 414L970.5 424V436.9" stroke-width="0.85"/>
<path d="M981 402Q981.5 405 978 405.2Q970.5 405.5 969.3 413L967.8 424V436.9" stroke-width="0.85"/>
<path d="M990.8 409.5Q983.5 416 990.8 422.5Z" stroke-width="0.8"/>
<path d="M992.5 412.6L993.5 419.4" stroke-width="1.2" stroke="#1e1e1e"/>
<path d="M994.6 412.95L995.6 419.05" stroke-width="1.2" stroke="#1e1e1e"/>
<path d="M996.7 413.3L997.7 418.7" stroke-width="1.2" stroke="#1e1e1e"/>
<path d="M998.8 413.65L999.8 418.35" stroke-width="1.2" stroke="#1e1e1e"/>
<path d="M1000.9 414L1001.9 418" stroke-width="1.2" stroke="#1e1e1e"/>
<path d="M991.5 414.3L1001 414.6L1004.5 416L1001 417.4L991.5 417.7Z" stroke-width="0.4" fill="#333" stroke="#1e1e1e"/>
<path d="M978.5 416L1008.5 416" stroke-width="0.5"/>
<path d="M990.6 426.5Q983.8 427.5 984.5 436.5L990.6 440.5Z" stroke-width="0.9"/>
<path d="M987.2 429.5V437" stroke-width="0.7"/>
<path d="M991.2 404L991.2 513.3" stroke-width="0.6" stroke="#444"/>
<path d="M992.6 404L992.6 513.3" stroke-width="0.6" stroke="#444"/>
<path d="M991.9 404 V513.3" stroke="#555" stroke-width="1.3" stroke-dasharray="1.3 0.9"/>
<path d="M784.3 513.3L842 513.3" stroke-width="0.85"/>
<path d="M873.6 513.3L932 513.3" stroke-width="0.85"/>
<path d="M962 513.3L1020 513.3" stroke-width="0.85"/>
<path d="M787 445L787 469.7" stroke-width="0.6"/>
<path d="M840.7 445L840.7 469.7" stroke-width="0.6"/>
<path d="M785.5 468.3L842.2 468.3" stroke-width="0.7"/>
<path d="M770.1 951L770.1 1026.1" stroke-width="0.85"/>
<path d="M774.6 951L774.6 984" stroke-width="0.85"/>
<path d="M770.1 951A2.25 2.25 0 0 1 774.6 951" stroke-width="0.85"/>
<path d="M774.6 984L796.7 984" stroke-width="0.85"/>
<path d="M799.7 984L829.3 984" stroke-width="0.85"/>
<rect x="774.6" y="987.8" width="69.2" height="26.5" stroke-width="0.85" rx="1.2"/>
<path d="M774.6 1018.3L840 1018.3" stroke-width="0.85"/>
<path d="M770.1 1026.1L781.4 1026.1" stroke-width="0.85"/>
<path d="M781.4 1023L781.4 1026.1" stroke-width="0.85"/>
<path d="M774.6 1023L781.4 1023" stroke-width="0.85"/>
<path d="M774.6 1018.3L774.6 1023" stroke-width="0.85"/>
<path d="M840 1018.3L840 1023" stroke-width="0.85"/>
<path d="M836.5 1023L840 1023" stroke-width="0.85"/>
<path d="M836.5 1023L836.5 1026.1" stroke-width="0.85"/>
<path d="M836.5 1026.1L846.6 1026.1" stroke-width="0.85"/>
<path d="M846.6 984L846.6 1026.1" stroke-width="0.85"/>
<path d="M808.7 987.8V994.58A2.15 2.15 0 0 0 813 994.58A2.9 2.9 0 1 1 816 994.58A2.15 2.15 0 0 0 820.3 994.58V987.8" stroke-width="0.75"/>
<path d="M808.7 1014.3V1007.52A2.15 2.15 0 0 1 813 1007.52A2.9 2.9 0 1 0 816 1007.52A2.15 2.15 0 0 1 820.3 1007.52V1014.3" stroke-width="0.75"/>
<path d="M846.6 986.8L848.6 986.8L851 987.2L856.8 987.2L859 989.6L861.2 987.2L867 987.2L869.4 986.8L871.4 986.8L871.4 997.2L869.4 997.2L867 989.5L862.4 989.5L859 992.7L855.6 989.5L851 989.5L848.6 997.2L846.6 997.2Z" stroke-width="0.9"/>
<path d="M846.6 1007.3L848.6 1007.3L851 1010.8L867 1010.8L869.4 1007.3L871.4 1007.3L871.4 1017.3L869.4 1017.3L867 1013.8L851 1013.8L848.6 1017.3L846.6 1017.3Z" stroke-width="0.9"/>
<path d="M851.5 996L849.3 999.5L852.2 1002.5L849.5 1006L851.5 1008.5M866.5 996L868.7 999.5L865.8 1002.5L868.5 1006L866.5 1008.5" stroke-width="0.7"/>
<path d="M853 1010.3L865 1010.3" stroke-width="0.7"/>
<path d="M871.4 984L871.4 1026.1" stroke-width="0.85"/>
<path d="M871.4 1026.1L881.5 1026.1" stroke-width="0.85"/>
<path d="M881.5 1023L881.5 1026.1" stroke-width="0.85"/>
<path d="M878 1023L881.5 1023" stroke-width="0.85"/>
<path d="M878 1018.3L878 1023" stroke-width="0.85"/>
<path d="M878 1018.3L1017.7 1018.3" stroke-width="0.85"/>
<path d="M1017.7 1018.3L1017.7 1023" stroke-width="0.85"/>
<path d="M1011.6 1023L1017.7 1023" stroke-width="0.85"/>
<path d="M1011.6 1023L1011.6 1026.1" stroke-width="0.85"/>
<path d="M1011.6 1026.1L1022.1 1026.1" stroke-width="0.85"/>
<path d="M1022.1 990.8L1022.1 1026.1" stroke-width="0.85"/>
<path d="M874.6 989V1013.1Q874.6 1014.3 875.8 1014.3H1016.5Q1017.7 1014.3 1017.7 1013.1V994L999 988.4Q997 987.8 995 987.8H875.8Q874.6 987.8 874.6 989Z" stroke-width="0.85"/>
<path d="M1000 984.3L1020.5 990Q1022.1 990.4 1022.1 992" stroke-width="0.85"/>
<path d="M896.2 987.8V994.58A2.15 2.15 0 0 0 900.5 994.58A2.9 2.9 0 1 1 903.5 994.58A2.15 2.15 0 0 0 907.8 994.58V987.8" stroke-width="0.75"/>
<path d="M896.2 1014.3V1007.52A2.15 2.15 0 0 1 900.5 1007.52A2.9 2.9 0 1 0 903.5 1007.52A2.15 2.15 0 0 1 907.8 1007.52V1014.3" stroke-width="0.75"/>
<path d="M978.2 987.8V994.58A2.15 2.15 0 0 0 982.5 994.58A2.9 2.9 0 1 1 985.5 994.58A2.15 2.15 0 0 0 989.8 994.58V987.8" stroke-width="0.75"/>
<path d="M978.2 1014.3V1007.52A2.15 2.15 0 0 1 982.5 1007.52A2.9 2.9 0 1 0 985.5 1007.52A2.15 2.15 0 0 1 989.8 1007.52V1014.3" stroke-width="0.75"/>
<path d="M884.9 984L886.5 984" stroke-width="0.85"/>
<path d="M889.5 984L918.6 984" stroke-width="0.85"/>
<path d="M796.7 968.5L796.7 984" stroke-width="0.85"/>
<path d="M799.7 971L799.7 984" stroke-width="0.85"/>
<path d="M829.3 971L829.3 984" stroke-width="0.85"/>
<path d="M832.3 968.5L832.3 984" stroke-width="0.85"/>
<path d="M886.5 968.5L886.5 984" stroke-width="0.85"/>
<path d="M889.5 971L889.5 984" stroke-width="0.85"/>
<path d="M918.6 971L918.6 984" stroke-width="0.85"/>
<path d="M921.6 968.5L921.6 984" stroke-width="0.85"/>
<rect x="971" y="967.3" width="25.3" height="17" stroke-width="0.85"/>
<path d="M968 965L968 984.3" stroke-width="0.85"/>
<path d="M1000 965L1000 984.3" stroke-width="0.85"/>
<path d="M967.3 984.3L971 984.3" stroke-width="0.85"/>
<path d="M996.3 984.3L1000.3 984.3" stroke-width="0.85"/>
<rect x="832.3" y="969.8" width="52.6" height="14.7" stroke-width="1.1"/>
<path d="M834.3 972L882.9 972" stroke-width="0.8"/>
<path d="M833.8 981.8L883.4 981.8" stroke-width="0.8"/>
<path d="M834.3 972L834.3 981.8" stroke-width="0.8"/>
<path d="M882.9 972L882.9 981.8" stroke-width="0.8"/>
<rect x="921.6" y="969.8" width="45.7" height="14.7" stroke-width="1.1"/>
<path d="M923.6 972L965.3 972" stroke-width="0.8"/>
<path d="M923.1 981.8L965.8 981.8" stroke-width="0.8"/>
<path d="M923.6 972L923.6 981.8" stroke-width="0.8"/>
<path d="M965.3 972L965.3 981.8" stroke-width="0.8"/>
<path d="M834 971L883 971" stroke-width="1.6" stroke="#555"/>
<g transform="translate(0 0)">
<g transform="translate(0 1280.8) scale(1 -1)">
<path d="M780.25 382L780.25 444.3" stroke-width="0.85"/>
<path d="M848.9 382L848.9 443" stroke-width="0.85"/>
<path d="M783.4 382.7L824 382.7" stroke-width="0.85"/>
<rect x="783.7" y="384.4" width="37.6" height="20.6" stroke-width="0.85" rx="1"/>
<path d="M783.4 407L829 407" stroke-width="0.85"/>
<path d="M824.3 383.4L826.3 383.4L828.7 383.8L832.25 383.8L834.45 386.2L836.65 383.8L840.2 383.8L842.6 383.4L844.6 383.4L844.6 394.6L842.6 394.6L840.2 386.1L837.85 386.1L834.45 389.3L831.05 386.1L828.7 386.1L826.3 394.6L824.3 394.6Z" stroke-width="0.9"/>
<path d="M824.3 397.9L826.3 397.9L828.7 401.12L840.2 401.12L842.6 397.9L844.6 397.9L844.6 407.1L842.6 407.1L840.2 403.88L828.7 403.88L826.3 407.1L824.3 407.1Z" stroke-width="0.9"/>
<path d="M828.8 391L827.3 394L829.3 396.5L828 399.5M840.2 391L841.7 394L839.7 396.5L841 399.5" stroke-width="0.7"/>
<path d="M829 407V409.5H837V407" stroke-width="0.85"/>
<path d="M837 407L845.7 407" stroke-width="0.85"/>
<path d="M837 409.5Q845 409.3 845.4 412V436" stroke-width="0.85"/>
<path d="M783.4 408.2H797.5V411.5H793.8V409.8H786Q784.6 410 784.3 411.5" stroke-width="0.8"/>
<path d="M781 413.5L784.2 414.8L783.5 416.5Q782.6 417 782.6 418.5V436L785.5 439.5" stroke-width="0.8"/>
<path d="M785.5 409.5Q792 408.8 795.5 409.2" stroke-width="1.4" stroke="#555"/>
<path d="M780.25 444.3L787 444.3" stroke-width="0.85"/>
<path d="M841 443L848.9 443" stroke-width="0.85"/>
<path d="M784 436.5L790.5 429.5L792 433.5L794.3 431.5V449.5L791 447L786.5 444.8L789.5 442.8L785 441L788.6 439L784 436.5Z" stroke-width="0.8"/>
<path d="M790.5 431V446.5" stroke-width="0.6"/>
<path d="M833 433.5L840.5 430.8L841.5 433.5L839 435L841.5 437L838.5 439L841.5 441.2L838.5 443L841 445.5Q835 447.5 833.2 450.5Z" stroke-width="0.8"/>
<path d="M835 436H838M835 440H838M835 444H838" stroke-width="0.6"/>
<circle cx="843.9" cy="437.8" r="2.4" stroke-width="0.8"/>
<circle cx="843.9" cy="437.8" r="1.1" stroke-width="0.6"/>
<rect x="794.1" y="421" width="2.4" height="67.4" stroke-width="0.01" fill="#7a7a7a" stroke="none"/>
<path d="M794.1 421L794.1 488.4" stroke-width="0.5" stroke="#333"/>
<path d="M796.5 421L796.5 488.4" stroke-width="0.5" stroke="#333"/>
<rect x="801.6" y="421" width="2.3" height="67.4" stroke-width="0.01" fill="#7a7a7a" stroke="none"/>
<path d="M801.6 421L801.6 488.4" stroke-width="0.5" stroke="#333"/>
<path d="M803.9 421L803.9 488.4" stroke-width="0.5" stroke="#333"/>
<rect x="823.8" y="421" width="2.3" height="67.4" stroke-width="0.01" fill="#7a7a7a" stroke="none"/>
<path d="M823.8 421L823.8 488.4" stroke-width="0.5" stroke="#333"/>
<path d="M826.1 421L826.1 488.4" stroke-width="0.5" stroke="#333"/>
<rect x="830.9" y="421" width="2.5" height="67.4" stroke-width="0.01" fill="#7a7a7a" stroke="none"/>
<path d="M830.9 421L830.9 488.4" stroke-width="0.5" stroke="#333"/>
<path d="M833.4 421L833.4 488.4" stroke-width="0.5" stroke="#333"/>
<path d="M794.1 421L803.9 421" stroke-width="0.9"/>
<path d="M823.8 421L833.4 421" stroke-width="0.9"/>
<rect x="803.9" y="422" width="19.9" height="8.14" stroke-width="0.6" fill="url(#dots)"/>
<path d="M805.2 439.7V433.64Q805.2 431.04 808.1 431.04H819.6Q822.5 431.04 822.5 433.64V439.7" stroke-width="1.7" stroke="#1e1e1e"/>
<path d="M803.9 439.7L823.8 439.7" stroke-width="0.9"/>
</g>
<rect x="799.3" y="859.5" width="44.4" height="12.7" stroke-width="0.9"/>
<path d="M799.3 859.5L843.7 872.2" stroke-width="0.6"/>
<path d="M799.3 872.2L843.7 859.5" stroke-width="0.6"/>
<path d="M780.25 898L780.25 971.3" stroke-width="0.85"/>
<path d="M848.9 898L848.9 971.3" stroke-width="0.85"/>
<path d="M783.7 954V901.2Q783.7 899.7 785.2 899.7H804.7V905.2H799V913H790Q788.3 913 788.3 914.7V936.5Q788.3 938.3 790 938.3H799.5Q801.2 938.3 801.2 936.6V933.5" stroke-width="0.85"/>
<path d="M845.6 954V901.2Q845.6 899.7 844.1 899.7H824.3V905.2H830.5V913H839.3Q841 913 841 914.7V936.5Q841 938.3 839.3 938.3H830Q828.3 938.3 828.3 936.6V933.5" stroke-width="0.85"/>
<path d="M807.3 899.7L821.7 899.7" stroke-width="0.85"/>
<path d="M807.3 899.7L807.3 905.2" stroke-width="0.85"/>
<path d="M821.7 899.7L821.7 905.2" stroke-width="0.85"/>
<path d="M801.2 907.8L828.3 907.8" stroke-width="0.85"/>
<path d="M801.2 907.8V915.6H792.5Q791 915.6 791 917.1V934.3Q791 935.8 792.5 935.8H797Q798.5 935.8 798.5 934.3V931" stroke-width="0.85"/>
<path d="M828.3 907.8V915.6H837Q838.5 915.6 838.5 917.1V934.3Q838.5 935.8 837 935.8H832.5Q831 935.8 831 934.3V931" stroke-width="0.85"/>
<path d="M783.7 928.3H786.5Q788 928.3 788 929.8M783.7 932H786.5" stroke-width="0.8"/>
<path d="M845.6 928.3H842.8Q841.3 928.3 841.3 929.8M845.6 932H842.8" stroke-width="0.8"/>
<rect x="801.7" y="908.7" width="26" height="37.7" stroke-width="1" fill="#fff"/>
<path d="M804 915V910.8H826V915" stroke-width="0.8"/>
<path d="M801.7 918.2L827.7 918.2" stroke-width="1.3"/>
<circle cx="814.7" cy="936.7" r="7" stroke-width="1.3"/>
<circle cx="814.7" cy="936.7" r="4.9" stroke-width="0.9"/>
<circle cx="814.7" cy="936.7" r="2.7" stroke-width="0.8"/>
<path d="M806.5 936.7L823 936.7" stroke-width="0.5"/>
<path d="M814.7 928.5L814.7 945" stroke-width="0.5"/>
<rect x="807.3" y="946.4" width="14" height="4.1" stroke-width="0.8"/>
<path d="M780.25 971.3H787Q788.5 971.3 788.5 969.8" stroke-width="0.85"/>
<path d="M783.7 954Q783.7 952 785.5 952Q787.3 952 787.3 954V956.5" stroke-width="0.85"/>
<path d="M848.9 971.3H842.2Q840.7 971.3 840.7 969.8" stroke-width="0.85"/>
<path d="M845.6 954Q845.6 952 843.8 952Q842 952 842 954V956.5" stroke-width="0.85"/>
<rect x="786" y="958" width="8.3" height="10" stroke-width="0.5" fill="url(#pile)" stroke="#222"/>
<rect x="835.2" y="958" width="8.3" height="10" stroke-width="0.5" fill="url(#pile)" stroke="#222"/>
<rect x="784.3" y="956.8" width="2" height="12.5" stroke-width="0.6" fill="#333"/>
<rect x="843.2" y="956.8" width="2" height="12.5" stroke-width="0.6" fill="#333"/>
<path d="M809.8 966.7V951.5Q809.8 948.3 814.6 948.3Q819.4 948.3 819.4 951.5V966.7Z" stroke-width="1" fill="#fff"/>
<path d="M811.4 965V952.5Q811.4 950.2 814.6 950.2Q817.8 950.2 817.8 952.5V965Z" stroke-width="0.8"/>
<path d="M799.6 954.3L809.6 954.3" stroke-width="0.85"/>
<path d="M819.6 954.3L829.6 954.3" stroke-width="0.85"/>
<path d="M809.6 954.3V966.5Q809.6 968.5 811.6 968.5H817.6Q819.6 968.5 819.6 966.5V954.3" stroke-width="0.85"/>
<path d="M806.3 957V965Q806.3 970.8 810.6 970.8H818.6Q822.9 970.8 822.9 965V957" stroke-width="0.85"/>
<path d="M806.3 957Q804.1 955.5 802.3 957.2V963.5" stroke-width="0.85"/>
<path d="M799.6 954.3Q797.2 954.3 797.2 956.5V961.8Q798.6 963.3 799.9 961.8V958.5" stroke-width="0.85"/>
<path d="M802.3 963.5Q802.3 967 800.8 969V971" stroke-width="0.85"/>
<rect x="799.3" y="958" width="2" height="8" stroke-width="0.5" fill="#888"/>
<path d="M822.9 957Q825.1 955.5 826.9 957.2V963.5" stroke-width="0.85"/>
<path d="M829.6 954.3Q832 954.3 832 956.5V961.8Q830.6 963.3 829.3 961.8V958.5" stroke-width="0.85"/>
<path d="M826.9 963.5Q826.9 967 828.4 969V971" stroke-width="0.85"/>
<rect x="827.9" y="958" width="2" height="8" stroke-width="0.5" fill="#888"/>
</g>
<g transform="translate(89.35 0)">
<g transform="translate(0 1280.8) scale(1 -1)">
<path d="M780.25 382L780.25 444.3" stroke-width="0.85"/>
<path d="M848.9 382L848.9 443" stroke-width="0.85"/>
<path d="M783.4 382.7L824 382.7" stroke-width="0.85"/>
<rect x="783.7" y="384.4" width="37.6" height="20.6" stroke-width="0.85" rx="1"/>
<path d="M783.4 407L829 407" stroke-width="0.85"/>
<path d="M824.3 383.4L826.3 383.4L828.7 383.8L832.25 383.8L834.45 386.2L836.65 383.8L840.2 383.8L842.6 383.4L844.6 383.4L844.6 394.6L842.6 394.6L840.2 386.1L837.85 386.1L834.45 389.3L831.05 386.1L828.7 386.1L826.3 394.6L824.3 394.6Z" stroke-width="0.9"/>
<path d="M824.3 397.9L826.3 397.9L828.7 401.12L840.2 401.12L842.6 397.9L844.6 397.9L844.6 407.1L842.6 407.1L840.2 403.88L828.7 403.88L826.3 407.1L824.3 407.1Z" stroke-width="0.9"/>
<path d="M828.8 391L827.3 394L829.3 396.5L828 399.5M840.2 391L841.7 394L839.7 396.5L841 399.5" stroke-width="0.7"/>
<path d="M829 407V409.5H837V407" stroke-width="0.85"/>
<path d="M837 407L845.7 407" stroke-width="0.85"/>
<path d="M837 409.5Q845 409.3 845.4 412V436" stroke-width="0.85"/>
<path d="M783.4 408.2H797.5V411.5H793.8V409.8H786Q784.6 410 784.3 411.5" stroke-width="0.8"/>
<path d="M781 413.5L784.2 414.8L783.5 416.5Q782.6 417 782.6 418.5V436L785.5 439.5" stroke-width="0.8"/>
<path d="M785.5 409.5Q792 408.8 795.5 409.2" stroke-width="1.4" stroke="#555"/>
<path d="M780.25 444.3L787 444.3" stroke-width="0.85"/>
<path d="M841 443L848.9 443" stroke-width="0.85"/>
<path d="M784 436.5L790.5 429.5L792 433.5L794.3 431.5V449.5L791 447L786.5 444.8L789.5 442.8L785 441L788.6 439L784 436.5Z" stroke-width="0.8"/>
<path d="M790.5 431V446.5" stroke-width="0.6"/>
<path d="M833 433.5L840.5 430.8L841.5 433.5L839 435L841.5 437L838.5 439L841.5 441.2L838.5 443L841 445.5Q835 447.5 833.2 450.5Z" stroke-width="0.8"/>
<path d="M835 436H838M835 440H838M835 444H838" stroke-width="0.6"/>
<circle cx="843.9" cy="437.8" r="2.4" stroke-width="0.8"/>
<circle cx="843.9" cy="437.8" r="1.1" stroke-width="0.6"/>
<rect x="794.1" y="421" width="2.4" height="67.4" stroke-width="0.01" fill="#7a7a7a" stroke="none"/>
<path d="M794.1 421L794.1 488.4" stroke-width="0.5" stroke="#333"/>
<path d="M796.5 421L796.5 488.4" stroke-width="0.5" stroke="#333"/>
<rect x="801.6" y="421" width="2.3" height="67.4" stroke-width="0.01" fill="#7a7a7a" stroke="none"/>
<path d="M801.6 421L801.6 488.4" stroke-width="0.5" stroke="#333"/>
<path d="M803.9 421L803.9 488.4" stroke-width="0.5" stroke="#333"/>
<rect x="823.8" y="421" width="2.3" height="67.4" stroke-width="0.01" fill="#7a7a7a" stroke="none"/>
<path d="M823.8 421L823.8 488.4" stroke-width="0.5" stroke="#333"/>
<path d="M826.1 421L826.1 488.4" stroke-width="0.5" stroke="#333"/>
<rect x="830.9" y="421" width="2.5" height="67.4" stroke-width="0.01" fill="#7a7a7a" stroke="none"/>
<path d="M830.9 421L830.9 488.4" stroke-width="0.5" stroke="#333"/>
<path d="M833.4 421L833.4 488.4" stroke-width="0.5" stroke="#333"/>
<path d="M794.1 421L803.9 421" stroke-width="0.9"/>
<path d="M823.8 421L833.4 421" stroke-width="0.9"/>
<rect x="803.9" y="422" width="19.9" height="8.14" stroke-width="0.6" fill="url(#dots)"/>
<path d="M805.2 439.7V433.64Q805.2 431.04 808.1 431.04H819.6Q822.5 431.04 822.5 433.64V439.7" stroke-width="1.7" stroke="#1e1e1e"/>
<path d="M803.9 439.7L823.8 439.7" stroke-width="0.9"/>
</g>
<rect x="799.3" y="859.5" width="44.4" height="12.7" stroke-width="0.9"/>
<path d="M799.3 859.5L843.7 872.2" stroke-width="0.6"/>
<path d="M799.3 872.2L843.7 859.5" stroke-width="0.6"/>
<path d="M780.25 898L780.25 971.3" stroke-width="0.85"/>
<path d="M848.9 898L848.9 971.3" stroke-width="0.85"/>
<path d="M783.7 954V901.2Q783.7 899.7 785.2 899.7H804.7V905.2H799V913H790Q788.3 913 788.3 914.7V936.5Q788.3 938.3 790 938.3H799.5Q801.2 938.3 801.2 936.6V933.5" stroke-width="0.85"/>
<path d="M845.6 954V901.2Q845.6 899.7 844.1 899.7H824.3V905.2H830.5V913H839.3Q841 913 841 914.7V936.5Q841 938.3 839.3 938.3H830Q828.3 938.3 828.3 936.6V933.5" stroke-width="0.85"/>
<path d="M807.3 899.7L821.7 899.7" stroke-width="0.85"/>
<path d="M807.3 899.7L807.3 905.2" stroke-width="0.85"/>
<path d="M821.7 899.7L821.7 905.2" stroke-width="0.85"/>
<path d="M801.2 907.8L828.3 907.8" stroke-width="0.85"/>
<path d="M801.2 907.8V915.6H792.5Q791 915.6 791 917.1V934.3Q791 935.8 792.5 935.8H797Q798.5 935.8 798.5 934.3V931" stroke-width="0.85"/>
<path d="M828.3 907.8V915.6H837Q838.5 915.6 838.5 917.1V934.3Q838.5 935.8 837 935.8H832.5Q831 935.8 831 934.3V931" stroke-width="0.85"/>
<path d="M783.7 928.3H786.5Q788 928.3 788 929.8M783.7 932H786.5" stroke-width="0.8"/>
<path d="M845.6 928.3H842.8Q841.3 928.3 841.3 929.8M845.6 932H842.8" stroke-width="0.8"/>
<rect x="801.7" y="908.7" width="26" height="37.7" stroke-width="1" fill="#fff"/>
<path d="M804 915V910.8H826V915" stroke-width="0.8"/>
<path d="M801.7 918.2L827.7 918.2" stroke-width="1.3"/>
<circle cx="814.7" cy="936.7" r="7" stroke-width="1.3"/>
<circle cx="814.7" cy="936.7" r="4.9" stroke-width="0.9"/>
<circle cx="814.7" cy="936.7" r="2.7" stroke-width="0.8"/>
<path d="M806.5 936.7L823 936.7" stroke-width="0.5"/>
<path d="M814.7 928.5L814.7 945" stroke-width="0.5"/>
<rect x="807.3" y="946.4" width="14" height="4.1" stroke-width="0.8"/>
<path d="M780.25 971.3H787Q788.5 971.3 788.5 969.8" stroke-width="0.85"/>
<path d="M783.7 954Q783.7 952 785.5 952Q787.3 952 787.3 954V956.5" stroke-width="0.85"/>
<path d="M848.9 971.3H842.2Q840.7 971.3 840.7 969.8" stroke-width="0.85"/>
<path d="M845.6 954Q845.6 952 843.8 952Q842 952 842 954V956.5" stroke-width="0.85"/>
<rect x="786" y="958" width="8.3" height="10" stroke-width="0.5" fill="url(#pile)" stroke="#222"/>
<rect x="835.2" y="958" width="8.3" height="10" stroke-width="0.5" fill="url(#pile)" stroke="#222"/>
<rect x="784.3" y="956.8" width="2" height="12.5" stroke-width="0.6" fill="#333"/>
<rect x="843.2" y="956.8" width="2" height="12.5" stroke-width="0.6" fill="#333"/>
<path d="M809.8 966.7V951.5Q809.8 948.3 814.6 948.3Q819.4 948.3 819.4 951.5V966.7Z" stroke-width="1" fill="#fff"/>
<path d="M811.4 965V952.5Q811.4 950.2 814.6 950.2Q817.8 950.2 817.8 952.5V965Z" stroke-width="0.8"/>
<path d="M799.6 954.3L809.6 954.3" stroke-width="0.85"/>
<path d="M819.6 954.3L829.6 954.3" stroke-width="0.85"/>
<path d="M809.6 954.3V966.5Q809.6 968.5 811.6 968.5H817.6Q819.6 968.5 819.6 966.5V954.3" stroke-width="0.85"/>
<path d="M806.3 957V965Q806.3 970.8 810.6 970.8H818.6Q822.9 970.8 822.9 965V957" stroke-width="0.85"/>
<path d="M806.3 957Q804.1 955.5 802.3 957.2V963.5" stroke-width="0.85"/>
<path d="M799.6 954.3Q797.2 954.3 797.2 956.5V961.8Q798.6 963.3 799.9 961.8V958.5" stroke-width="0.85"/>
<path d="M802.3 963.5Q802.3 967 800.8 969V971" stroke-width="0.85"/>
<rect x="799.3" y="958" width="2" height="8" stroke-width="0.5" fill="#888"/>
<path d="M822.9 957Q825.1 955.5 826.9 957.2V963.5" stroke-width="0.85"/>
<path d="M829.6 954.3Q832 954.3 832 956.5V961.8Q830.6 963.3 829.3 961.8V958.5" stroke-width="0.85"/>
<path d="M826.9 963.5Q826.9 967 828.4 969V971" stroke-width="0.85"/>
<rect x="827.9" y="958" width="2" height="8" stroke-width="0.5" fill="#888"/>
</g>
<g transform="translate(0 1279) scale(1 -1)">
<path d="M954.6 401.6L954.6 433" stroke-width="0.85"/>
<path d="M1013.1 401.6L1013.1 438.2" stroke-width="0.85"/>
<path d="M957.5 401.6V431.5Q957.5 436.9 963.1 436.9H987" stroke-width="0.85"/>
<path d="M954.6 433Q954.6 439.6 961.6 439.6H988" stroke-width="0.85"/>
<rect x="993.8" y="404" width="15.8" height="30.6" stroke-width="0.85"/>
<path d="M992 438.2L1013.1 438.2" stroke-width="0.85"/>
<path d="M958 405.5H961.5V411H958.5" stroke-width="0.8"/>
<path d="M984.5 402Q985 407.5 979 407.5Q973 408 972 414L970.5 424V436.9" stroke-width="0.85"/>
<path d="M981 402Q981.5 405 978 405.2Q970.5 405.5 969.3 413L967.8 424V436.9" stroke-width="0.85"/>
<path d="M990.8 409.5Q983.5 416 990.8 422.5Z" stroke-width="0.8"/>
<path d="M992.5 412.6L993.5 419.4" stroke-width="1.2" stroke="#1e1e1e"/>
<path d="M994.6 412.95L995.6 419.05" stroke-width="1.2" stroke="#1e1e1e"/>
<path d="M996.7 413.3L997.7 418.7" stroke-width="1.2" stroke="#1e1e1e"/>
<path d="M998.8 413.65L999.8 418.35" stroke-width="1.2" stroke="#1e1e1e"/>
<path d="M1000.9 414L1001.9 418" stroke-width="1.2" stroke="#1e1e1e"/>
<path d="M991.5 414.3L1001 414.6L1004.5 416L1001 417.4L991.5 417.7Z" stroke-width="0.4" fill="#333" stroke="#1e1e1e"/>
<path d="M978.5 416L1008.5 416" stroke-width="0.5"/>
<path d="M990.6 426.5Q983.8 427.5 984.5 436.5L990.6 440.5Z" stroke-width="0.9"/>
<path d="M987.2 429.5V437" stroke-width="0.7"/>
<path d="M991.2 404L991.2 486.6" stroke-width="0.6" stroke="#444"/>
<path d="M992.6 404L992.6 486.6" stroke-width="0.6" stroke="#444"/>
<path d="M991.9 404 V486.6" stroke="#555" stroke-width="1.3" stroke-dasharray="1.3 0.9"/>
</g>
<path d="M954.4 877L954.4 969" stroke-width="0.85"/>
<path d="M1012.8 877L1012.8 971" stroke-width="0.85"/>
<rect x="957.7" y="880.4" width="52.3" height="19.9" stroke-width="0.85" rx="0.8"/>
<path d="M957.4 901.8L1010 901.8" stroke-width="0.85"/>
<path d="M957.4 901.8L957.4 955" stroke-width="0.85"/>
<path d="M1010 901.8L1010 955" stroke-width="0.85"/>
<path d="M961.7 935V904Q961.7 902.2 963.5 902.2H1003.5Q1005.3 902.2 1005.3 904V935" stroke-width="0.85"/>
<path d="M964 935V905.2Q964 903.9 965.3 903.9H1002.4Q1003.7 903.9 1003.7 905.2V935" stroke-width="0.85"/>
<path d="M961.7 935L964 935" stroke-width="0.85"/>
<path d="M1003.7 935L1005.3 935" stroke-width="0.85"/>
<path d="M957.4 929.5H959.5Q961 929.7 961 931.2M957.4 933H959.5" stroke-width="0.8"/>
<path d="M1010 929.5H1007.9Q1006.4 929.7 1006.4 931.2M1010 933H1007.9" stroke-width="0.8"/>
<path d="M964 925.7L972.3 925.7" stroke-width="0.85"/>
<path d="M964 927.2L972.3 927.2" stroke-width="0.85"/>
<path d="M995 925.7L1003.7 925.7" stroke-width="0.85"/>
<path d="M995 927.2L1003.7 927.2" stroke-width="0.85"/>
<path d="M972.3 925.7V916.5Q972.3 914.7 974.1 914.7H993.2Q995 914.7 995 916.5V925.7" stroke-width="0.85"/>
<path d="M972.3 927.2V948.3M995 927.2V948.3" stroke-width="0.85"/>
<rect x="974.6" y="917" width="18.5" height="29.4" stroke-width="1.1" fill="#fff"/>
<path d="M974.6 935.3L993.1 935.3" stroke-width="1"/>
<circle cx="983.8" cy="940.2" r="3.4" stroke-width="1.3"/>
<path d="M977.7 925.9H989.5Q988.5 930.6 983.6 930.6Q978.7 930.6 977.7 925.9Z" stroke-width="0.9"/>
<path d="M983.7 924L983.7 933" stroke-width="0.5"/>
<rect x="977" y="946.4" width="13.5" height="3.6" stroke-width="0.7"/>
<path d="M983.7 884.5L981.3 890L981.3 925L986.1 925L986.1 890Z" stroke-width="0.4" fill="#2a2a2a" stroke="#1e1e1e"/>
<path d="M979.5 889.9L987.9 888.1" stroke-width="1.15" stroke="#1e1e1e"/>
<path d="M979.5 892.05L987.9 890.25" stroke-width="1.15" stroke="#1e1e1e"/>
<path d="M979.5 894.2L987.9 892.4" stroke-width="1.15" stroke="#1e1e1e"/>
<path d="M979.5 896.35L987.9 894.55" stroke-width="1.15" stroke="#1e1e1e"/>
<path d="M979.5 898.5L987.9 896.7" stroke-width="1.15" stroke="#1e1e1e"/>
<path d="M979.5 900.65L987.9 898.85" stroke-width="1.15" stroke="#1e1e1e"/>
<path d="M979.5 902.8L987.9 901" stroke-width="1.15" stroke="#1e1e1e"/>
<path d="M979.5 904.95L987.9 903.15" stroke-width="1.15" stroke="#1e1e1e"/>
<path d="M979.5 907.1L987.9 905.3" stroke-width="1.15" stroke="#1e1e1e"/>
<path d="M979.5 909.25L987.9 907.45" stroke-width="1.15" stroke="#1e1e1e"/>
<path d="M979.5 911.4L987.9 909.6" stroke-width="1.15" stroke="#1e1e1e"/>
<path d="M979.5 913.55L987.9 911.75" stroke-width="1.15" stroke="#1e1e1e"/>
<path d="M979.5 915.7L987.9 913.9" stroke-width="1.15" stroke="#1e1e1e"/>
<path d="M979.5 917.85L987.9 916.05" stroke-width="1.15" stroke="#1e1e1e"/>
<path d="M979.5 920L987.9 918.2" stroke-width="1.15" stroke="#1e1e1e"/>
<path d="M979.5 922.15L987.9 920.35" stroke-width="1.15" stroke="#1e1e1e"/>
<path d="M979.5 924.3L987.9 922.5" stroke-width="1.15" stroke="#1e1e1e"/>
<path d="M1012.8 971H1006.2Q1004.7 971 1004.7 969.5" stroke-width="0.85"/>
<path d="M1010 955Q1010 952.5 1008.2 952.5Q1006.4 952.5 1006.4 955V957" stroke-width="0.85"/>
<path d="M957.4 955Q957.4 952.5 959.2 952.5Q961 952.5 961 955V957" stroke-width="0.85"/>
<rect x="959" y="958.2" width="7.4" height="9.6" stroke-width="0.5" fill="url(#pile)" stroke="#222"/>
<rect x="1000.2" y="958.2" width="7.4" height="9.6" stroke-width="0.5" fill="url(#pile)" stroke="#222"/>
<rect x="957.4" y="957" width="2" height="12" stroke-width="0.6" fill="#333"/>
<rect x="1007.3" y="957" width="2" height="12" stroke-width="0.6" fill="#333"/>
<path d="M978.9 966.7V951.5Q978.9 948.3 983.7 948.3Q988.5 948.3 988.5 951.5V966.7Z" stroke-width="1" fill="#fff"/>
<path d="M980.5 965V952.5Q980.5 950.2 983.7 950.2Q986.9 950.2 986.9 952.5V965Z" stroke-width="0.8"/>
<path d="M968.2 954.3L978.7 954.3" stroke-width="0.85"/>
<path d="M988.7 954.3L999.2 954.3" stroke-width="0.85"/>
<path d="M978.7 954.3V966.5Q978.7 968.5 980.7 968.5H986.7Q988.7 968.5 988.7 966.5V954.3" stroke-width="0.85"/>
<path d="M975.4 957V965Q975.4 970.8 979.7 970.8H987.7Q992 970.8 992 965V957" stroke-width="0.85"/>
<path d="M975.4 957Q973.2 955.5 971.4 957.2V963.5" stroke-width="0.85"/>
<path d="M968.2 954.3Q965.8 954.3 965.8 956.5V961.8Q967.2 963.3 968.5 961.8V958.5" stroke-width="0.85"/>
<path d="M971.4 963.5Q971.4 967 969.9 969V971" stroke-width="0.85"/>
<rect x="968.4" y="958" width="2" height="8" stroke-width="0.5" fill="#888"/>
<path d="M992 957Q994.2 955.5 996 957.2V963.5" stroke-width="0.85"/>
<path d="M999.2 954.3Q1001.6 954.3 1001.6 956.5V961.8Q1000.2 963.3 998.9 961.8V958.5" stroke-width="0.85"/>
<path d="M996 963.5Q996 967 997.5 969V971" stroke-width="0.85"/>
<rect x="997" y="958" width="2" height="8" stroke-width="0.5" fill="#888"/>
<path d="M784.3 792.4L842 792.4" stroke-width="0.85"/>
<path d="M873.6 792.4L932 792.4" stroke-width="0.85"/>
<path d="M962 792.4L1020 792.4" stroke-width="0.85"/>
<g transform="translate(-0.2 1038.6) scale(1 -1)">
<path d="M954.6 401.6L954.6 433" stroke-width="0.85"/>
<path d="M1013.1 401.6L1013.1 438.2" stroke-width="0.85"/>
<path d="M957.5 401.6V431.5Q957.5 436.9 963.1 436.9H987" stroke-width="0.85"/>
<path d="M954.6 433Q954.6 439.6 961.6 439.6H988" stroke-width="0.85"/>
<rect x="993.8" y="404" width="15.8" height="30.6" stroke-width="0.85"/>
<path d="M992 438.2L1013.1 438.2" stroke-width="0.85"/>
<path d="M958 405.5H961.5V411H958.5" stroke-width="0.8"/>
<path d="M984.5 402Q985 407.5 979 407.5Q973 408 972 414L970.5 424V436.9" stroke-width="0.85"/>
<path d="M981 402Q981.5 405 978 405.2Q970.5 405.5 969.3 413L967.8 424V436.9" stroke-width="0.85"/>
<path d="M990.8 409.5Q983.5 416 990.8 422.5Z" stroke-width="0.8"/>
<path d="M992.5 412.6L993.5 419.4" stroke-width="1.2" stroke="#1e1e1e"/>
<path d="M994.6 412.95L995.6 419.05" stroke-width="1.2" stroke="#1e1e1e"/>
<path d="M996.7 413.3L997.7 418.7" stroke-width="1.2" stroke="#1e1e1e"/>
<path d="M998.8 413.65L999.8 418.35" stroke-width="1.2" stroke="#1e1e1e"/>
<path d="M1000.9 414L1001.9 418" stroke-width="1.2" stroke="#1e1e1e"/>
<path d="M991.5 414.3L1001 414.6L1004.5 416L1001 417.4L991.5 417.7Z" stroke-width="0.4" fill="#333" stroke="#1e1e1e"/>
<path d="M978.5 416L1008.5 416" stroke-width="0.5"/>
<path d="M990.6 426.5Q983.8 427.5 984.5 436.5L990.6 440.5Z" stroke-width="0.9"/>
<path d="M987.2 429.5V437" stroke-width="0.7"/>
<path d="M991.2 404L991.2 468.8" stroke-width="0.6" stroke="#444"/>
<path d="M992.6 404L992.6 468.8" stroke-width="0.6" stroke="#444"/>
<path d="M991.9 404 V468.8" stroke="#222" stroke-width="1.9" stroke-dasharray="1.3 0.9"/>
</g>
<g transform="translate(-0.2 266.2)">
<path d="M954.6 401.6L954.6 433" stroke-width="0.85"/>
<path d="M1013.1 401.6L1013.1 438.2" stroke-width="0.85"/>
<path d="M957.5 401.6V431.5Q957.5 436.9 963.1 436.9H987" stroke-width="0.85"/>
<path d="M954.6 433Q954.6 439.6 961.6 439.6H988" stroke-width="0.85"/>
<rect x="993.8" y="404" width="15.8" height="30.6" stroke-width="0.85"/>
<path d="M992 438.2L1013.1 438.2" stroke-width="0.85"/>
<path d="M958 405.5H961.5V411H958.5" stroke-width="0.8"/>
<path d="M984.5 402Q985 407.5 979 407.5Q973 408 972 414L970.5 424V436.9" stroke-width="0.85"/>
<path d="M981 402Q981.5 405 978 405.2Q970.5 405.5 969.3 413L967.8 424V436.9" stroke-width="0.85"/>
<path d="M990.6 426.5Q983.8 427.5 984.5 436.5L990.6 440.5Z" stroke-width="0.9"/>
<path d="M987.2 429.5V437" stroke-width="0.7"/>
<path d="M991.2 408L991.2 468.8" stroke-width="0.6" stroke="#444"/>
<path d="M992.6 408L992.6 468.8" stroke-width="0.6" stroke="#444"/>
<path d="M991.9 408 V468.8" stroke="#222" stroke-width="1.9" stroke-dasharray="1.3 0.9"/>
</g>
<rect x="987.6" y="674" width="2.2" height="18" stroke-width="0.6" fill="#555"/>
<path d="M990.6 707Q983.3 713.5 990.6 720Z" stroke-width="0.8"/>
<path d="M992.5 710.1L993.5 716.9" stroke-width="1.2" stroke="#1e1e1e"/>
<path d="M994.6 710.45L995.6 716.55" stroke-width="1.2" stroke="#1e1e1e"/>
<path d="M996.7 710.8L997.7 716.2" stroke-width="1.2" stroke="#1e1e1e"/>
<path d="M998.8 711.15L999.8 715.85" stroke-width="1.2" stroke="#1e1e1e"/>
<path d="M1000.9 711.5L1001.9 715.5" stroke-width="1.2" stroke="#1e1e1e"/>
<path d="M991.5 711.8L1001 712.1L1004.5 713.5L1001 714.9L991.5 715.2Z" stroke-width="0.4" fill="#333" stroke="#1e1e1e"/>
<path d="M978.5 713.5L1008.5 713.5" stroke-width="0.5"/>
<path d="M954.4 636L954.4 668.5" stroke-width="0.85"/>
<path d="M1012.9 636L1012.9 668.5" stroke-width="0.85"/>
<rect x="957.7" y="639" width="51.3" height="26.5" stroke-width="0.85" rx="0.8"/>
<path d="M978.88 639V645.1A1.93 1.93 0 0 0 982.75 645.1A2.61 2.61 0 1 1 985.45 645.1A1.93 1.93 0 0 0 989.32 645.1V639" stroke-width="0.75"/>
<path d="M978.88 665.5V659.4A1.93 1.93 0 0 1 982.75 659.4A2.61 2.61 0 1 0 985.45 659.4A1.93 1.93 0 0 1 989.32 659.4V665.5" stroke-width="0.75"/>
<path d="M952.7 652.4L1016 652.4" stroke-width="0.8"/>
<path d="M962.3 569.8L1019.6 569.8" stroke-width="0.85"/>
<path d="M962.3 735L1019.6 735" stroke-width="0.85"/>
<path d="M536.8 741.4H514.2Q513.1 741.4 513.1 740Q513.1 738.5 514.2 738.5H573Q574.2 738.5 574.2 739.7V750.8Q574.2 752.1 572.9 752.1Q571.5 752.1 571.5 750.8V741.4H566.1" stroke-width="0.85"/>
<path d="M539.5 741.4L563.9 741.4" stroke-width="0.85"/>
<path d="M536.8 741.4L536.8 764.3" stroke-width="0.85"/>
<path d="M536.8 806.6L536.8 815.5" stroke-width="0.85"/>
<path d="M539.5 741.4L539.5 816.5" stroke-width="0.85"/>
<path d="M563.9 741.4L563.9 816.5" stroke-width="0.85"/>
<rect x="541" y="742" width="21.1" height="72" stroke-width="0.85"/>
<path d="M566.1 741.4L566.1 814" stroke-width="0.85"/>
<path d="M566.1 814H571.5V808.5Q571.5 807.2 572.9 807.2Q574.2 807.2 574.2 808.5V816.5Q574.2 817.9 572.8 817.9H564" stroke-width="0.85"/>
<path d="M536.8 815.5Q536.8 816.8 538 816.8H539.5" stroke-width="0.85"/>
<path d="M536.8 764.3H517.2Q516 764.3 516 765.5V805.4Q516 806.6 517.2 806.6H536.8" stroke-width="0.85"/>
<path d="M536.8 767.3H520.2Q519.4 767.3 519.2 768.8Q518.6 770.3 518.6 771.8V799.1Q518.6 800.6 519.2 802.1Q519.4 803.6 520.2 803.6H536.8" stroke-width="0.85"/>
<path d="M519.2 771.3Q523.5 770.6 524.5 772.3Q523.5 773.6 519.4 773.3" stroke-width="0.7"/>
<path d="M519.2 799.6Q523.5 800.3 524.5 798.6Q523.5 797.3 519.4 797.6" stroke-width="0.7"/>
<path d="M538.6 817L538.6 819L539 821.4L539 826.9L541.4 829.1L539 831.3L539 836.8L538.6 839.2L538.6 841.2L547.8 841.2L547.8 839.2L541.3 836.8L541.3 832.5L544.5 829.1L541.3 825.7L541.3 821.4L547.8 819L547.8 817Z" stroke-width="0.9"/>
<path d="M556.5 817L556.5 819L559.09 821.4L559.09 836.8L556.5 839.2L556.5 841.2L563.9 841.2L563.9 839.2L561.31 836.8L561.31 821.4L563.9 819L563.9 817Z" stroke-width="0.9"/>
<path d="M548 821.5L551 820L553.5 822L556 820M548 836.5L551 838L553.5 836L556 838" stroke-width="0.7"/>
<path d="M539.5 841.2H564M564 841.2H572.8Q574.2 841.2 574.2 842.6V850.8Q574.2 852.1 572.9 852.1Q571.5 852.1 571.5 850.8V844.2H566.1" stroke-width="0.85"/>
<path d="M536.8 842.5Q536.8 841.2 538 841.2H539.5" stroke-width="0.85"/>
<path d="M536.8 842.5L536.8 853.4" stroke-width="0.85"/>
<path d="M536.8 895.4L536.8 936.7" stroke-width="0.85"/>
<path d="M536.8 972.1L536.8 992.7" stroke-width="0.85"/>
<path d="M539.5 841.2L539.5 992.7" stroke-width="0.85"/>
<path d="M563.9 841.2L563.9 992.7" stroke-width="0.85"/>
<rect x="541" y="844.2" width="21.1" height="148.1" stroke-width="0.85"/>
<path d="M566.1 844.2L566.1 916.1" stroke-width="0.85"/>
<path d="M566.1 919L566.1 992.7" stroke-width="0.85"/>
<path d="M566.1 916.1H572.9Q574.2 916.1 574.2 917.4V925.2Q574.2 926.4 572.9 926.4Q571.6 926.4 571.6 925.2V919H566.1" stroke-width="0.85"/>
<path d="M536.8 936.7H517.2Q516 936.7 516 937.9V970.9Q516 972.1 517.2 972.1H536.8" stroke-width="0.85"/>
<path d="M536.8 939.7H520.2Q519.4 939.7 519.2 941.2Q518.6 942.7 518.6 944.2V964.6Q518.6 966.1 519.2 967.6Q519.4 969.1 520.2 969.1H536.8" stroke-width="0.85"/>
<path d="M519.2 943.7Q523.5 943 524.5 944.7Q523.5 946 519.4 945.7" stroke-width="0.7"/>
<path d="M519.2 965.1Q523.5 965.8 524.5 964.1Q523.5 962.8 519.4 963.1" stroke-width="0.7"/>
<path d="M536.8 992.7H514.2Q513.1 992.7 513.1 994.5Q513.1 996.4 514.2 996.4H573Q574.2 996.4 574.2 995.2V983.6Q574.2 982.4 572.9 982.4Q571.6 982.4 571.6 983.6V992.7H566.1" stroke-width="0.85"/>
<path d="M539.5 992.7L563.9 992.7" stroke-width="0.85"/>
<path d="M399.4 840.2L532.7 840.2" stroke-width="0.85"/>
<path d="M399.4 908.5L532.7 908.5" stroke-width="0.85"/>
<path d="M399.4 840.2L399.4 843.2" stroke-width="0.85"/>
<path d="M399.4 902L399.4 908.5" stroke-width="0.85"/>
<rect x="382" y="853.9" width="39.5" height="3" stroke-width="0.01" fill="#878787" stroke="none"/>
<path d="M382 853.9L421.5 853.9" stroke-width="0.45" stroke="#444"/>
<path d="M382 856.9L421.5 856.9" stroke-width="0.45" stroke="#444"/>
<rect x="382" y="862.1" width="39.5" height="2.7" stroke-width="0.01" fill="#878787" stroke="none"/>
<path d="M382 862.1L421.5 862.1" stroke-width="0.45" stroke="#444"/>
<path d="M382 864.8L421.5 864.8" stroke-width="0.45" stroke="#444"/>
<rect x="382" y="883.1" width="39.5" height="2.7" stroke-width="0.01" fill="#878787" stroke="none"/>
<path d="M382 883.1L421.5 883.1" stroke-width="0.45" stroke="#444"/>
<path d="M382 885.8L421.5 885.8" stroke-width="0.45" stroke="#444"/>
<rect x="382" y="890.3" width="39.5" height="3" stroke-width="0.01" fill="#878787" stroke="none"/>
<path d="M382 890.3L421.5 890.3" stroke-width="0.45" stroke="#444"/>
<path d="M382 893.3L421.5 893.3" stroke-width="0.45" stroke="#444"/>
<path d="M421.5 853.9L421.5 864.8" stroke-width="0.9"/>
<path d="M421.5 883.1L421.5 893.3" stroke-width="0.9"/>
<rect x="411.8" y="864.9" width="7.8" height="18.1" stroke-width="0.6" fill="url(#dots)"/>
<path d="M402.6 865.8H406Q411.2 866.2 411.2 874Q411.2 881.8 406 882.2H402.6Z" stroke-width="1.4" stroke="#1e1e1e"/>
<path d="M419.8 864.8L419.8 883.1" stroke-width="0.8"/>
<rect x="421.7" y="859.2" width="12.2" height="44.2" stroke-width="0.9"/>
<path d="M421.7 859.2L433.9 903.4" stroke-width="0.6"/>
<path d="M421.7 903.4L433.9 859.2" stroke-width="0.6"/>
<path d="M401 841.9L430 841.9" stroke-width="0.7"/>
<path d="M423 842L429.5 851.5V857.5H433.5V843.5" stroke-width="0.8"/>
<path d="M431.5 843.5V852" stroke-width="0.7"/>
<path d="M392.3 853.9L397 845.5L399.8 846.8L402.5 843L407 845.2L405.5 847.5L410.5 849L413.3 851.8L409 853.9L406.5 851.5L404 853.9L401 851.5L398.5 853.9L396 852L394.5 853.9Z" stroke-width="0.8"/>
<path d="M421.5 858.9L433.9 858.9" stroke-width="0.8"/>
<path d="M391.5 893.4H411.3V899.2H408.8V896H406.3V899H403.8V896H401.3V899H398.8V896H396.3L400.5 901.5V905" stroke-width="0.8"/>
<circle cx="404.3" cy="902.4" r="2.4" stroke-width="0.8"/>
<circle cx="404.3" cy="902.4" r="1" stroke-width="0.6"/>
<path d="M400.5 905H410V902.5H412.5V905.3" stroke-width="0.8"/>
<path d="M399.4 905.3L460 905.3" stroke-width="0.85"/>
<path d="M434.3 843.5L434.3 905.3" stroke-width="0.85"/>
<path d="M437.3 844.1L437.3 881.3" stroke-width="0.85"/>
<path d="M437.3 844.1L451.5 844.1" stroke-width="0.85"/>
<path d="M437.3 881.3L461 881.3" stroke-width="0.85"/>
<path d="M437.3 884L437.3 886L439.75 888.4L439.75 899.6L437.3 902L437.3 904L444.3 904L444.3 902L441.85 899.6L441.85 888.4L444.3 886L444.3 884Z" stroke-width="0.9"/>
<path d="M458.1 884L458.1 886L457.7 888.4L457.7 891.8L455.3 894L457.7 896.2L457.7 899.6L458.1 902L458.1 904L450.5 904L450.5 902L455.4 899.6L455.4 897.4L452.2 894L455.4 890.6L455.4 888.4L450.5 886L450.5 884Z" stroke-width="0.9"/>
<path d="M444.8 888.5L446.3 887L447.8 889L449.3 887L450.4 888.5M444.8 899.5L446.3 901L447.8 899L449.3 901L450.4 899.5" stroke-width="0.7"/>
<path d="M458.4 883L458.4 905" stroke-width="0.85"/>
<rect x="446.6" y="869" width="14.4" height="11.6" stroke-width="0.8"/>
<path d="M438 874.9L443 872.6L446 872.6L446 877.2L443 877.2Z" stroke-width="0.7" fill="#aaa"/>
<path d="M447.5 870.6L448.6 879.2" stroke-width="0.9" stroke="#1e1e1e"/>
<path d="M449.7 870.6L450.8 879.2" stroke-width="0.9" stroke="#1e1e1e"/>
<path d="M451.9 870.6L453 879.2" stroke-width="0.9" stroke="#1e1e1e"/>
<path d="M454.1 870.6L455.2 879.2" stroke-width="0.9" stroke="#1e1e1e"/>
<path d="M456.3 870.6L457.4 879.2" stroke-width="0.9" stroke="#1e1e1e"/>
<path d="M458.5 870.6L459.6 879.2" stroke-width="0.9" stroke="#1e1e1e"/>
<path d="M434 874.9L470 874.9" stroke-width="0.5"/>
<path d="M462.5 869.9L467.5 874.9L462.5 879.9Z" stroke-width="0.8" fill="#999"/>
<rect x="446.1" y="835" width="49" height="4.8" stroke-width="1.4" fill="#ddd" rx="1.6" stroke="#1e1e1e"/>
<path d="M448 837.4L493 837.4" stroke-width="1" stroke="#555"/>
<path d="M451.4 839.8V852Q451.4 853.6 453.2 854.5V863Q453.2 864.7 455 864.7H485.8Q487.7 864.7 487.7 863V854.5Q489.9 853.6 489.9 852V839.8" stroke-width="1.5" stroke="#1e1e1e"/>
<path d="M451.4 853.4L489.9 853.4" stroke-width="1.2" stroke="#1e1e1e"/>
<rect x="453.2" y="853.4" width="34.5" height="5.1" stroke-width="0.8" fill="#999" stroke="#1e1e1e"/>
<path d="M463 843L463 853.4" stroke-width="1.3" stroke="#1e1e1e"/>
<path d="M467.5 843L467.5 853.4" stroke-width="1.3" stroke="#1e1e1e"/>
<path d="M472.5 843L472.5 853.4" stroke-width="1.3" stroke="#1e1e1e"/>
<path d="M477 843L477 853.4" stroke-width="1.3" stroke="#1e1e1e"/>
<rect x="464" y="845" width="2.5" height="6.5" stroke-width="0.5" fill="#bbb"/>
<rect x="473.5" y="845" width="2.5" height="6.5" stroke-width="0.5" fill="#bbb"/>
<path d="M458.5 843L481.5 843" stroke-width="1" stroke="#1e1e1e"/>
<path d="M458.5 839.8L458.5 853.4" stroke-width="1" stroke="#1e1e1e"/>
<path d="M481.5 839.8L481.5 853.4" stroke-width="1" stroke="#1e1e1e"/>
<path d="M455 861.2L486 861.2" stroke-width="0.9" stroke="#1e1e1e"/>
<rect x="462.7" y="855.1" width="28.9" height="31.5" stroke-width="0.9"/>
<path d="M475 855.1L475 889.2" stroke-width="0.9"/>
<path d="M466.5 860L466.5 889.2" stroke-width="0.8"/>
<path d="M487.7 863L475 872.6" stroke-width="0.9"/>
<path d="M462.7 868.5L475 868.5" stroke-width="0.8"/>
<path d="M462.7 880.5L491.6 880.5" stroke-width="0.8"/>
<rect x="461.4" y="889.2" width="28.5" height="1.8" stroke-width="0.5" fill="#999" stroke="#666"/>
<rect x="460.1" y="891" width="30.6" height="14.9" stroke-width="0.9"/>
<rect x="460.8" y="897" width="4.2" height="6.5" stroke-width="0.7"/>
<rect x="485.8" y="897" width="4.2" height="6.5" stroke-width="0.7"/>
<path d="M465 903.5L485.8 903.5" stroke-width="0.7"/>
<rect x="456.2" y="908.5" width="38" height="3.1" stroke-width="1.2" fill="#ddd" rx="1.2" stroke="#1e1e1e"/>
<path d="M492.9 844.2L516.1 844.2" stroke-width="0.85"/>
<path d="M492.9 844.2V848H494.2V855.1H500.4V892.7H494.2V901H492.9V905.4H516.1" stroke-width="0.85"/>
<path d="M516.1 844.2Q517.5 844.2 517.5 845.7Q517.5 847.2 516.1 847.2H513.8" stroke-width="0.85"/>
<path d="M516.1 905.4Q517.5 905.4 517.5 903.9Q517.5 902.4 516.1 902.4H513.8" stroke-width="0.85"/>
<path d="M490.7 905.4L492.9 905.4" stroke-width="0.85"/>
<path d="M532.7 840.2V848.1H529.2" stroke-width="0.85"/>
<path d="M532.7 908.5V900.6H529.2" stroke-width="0.85"/>
<rect x="520.5" y="844.3" width="8.3" height="9.5" stroke-width="0.5" fill="url(#pilev)" stroke="#222"/>
<rect x="519.2" y="843.2" width="10.9" height="2" stroke-width="0.5" fill="#333"/>
<rect x="520.5" y="895.4" width="8.3" height="9.2" stroke-width="0.5" fill="url(#pilev)" stroke="#222"/>
<rect x="519.2" y="903.6" width="10.9" height="2" stroke-width="0.5" fill="#333"/>
<path d="M500.4 858.6H493.4V890.6H500.4" stroke-width="1.5" stroke="#1e1e1e"/>
<path d="M496 861V888" stroke-width="0.8"/>
<rect x="500.4" y="862.6" width="7" height="23.6" stroke-width="0.9"/>
<rect x="507.4" y="866.5" width="2.6" height="16.2" stroke-width="0.9"/>
<path d="M496.5 866L500.4 866" stroke-width="0.8"/>
<path d="M496.5 870L500.4 870" stroke-width="0.8"/>
<path d="M496.5 874L500.4 874" stroke-width="0.8"/>
<path d="M496.5 878L500.4 878" stroke-width="0.8"/>
<path d="M496.5 882L500.4 882" stroke-width="0.8"/>
<path d="M510 869.1L517 869.1" stroke-width="0.8"/>
<path d="M510 879.2L517 879.2" stroke-width="0.8"/>
<path d="M536.8 853.4H516.1V857.5" stroke-width="0.85"/>
<path d="M536.8 895.4H516.1V891.3" stroke-width="0.85"/>
<path d="M519.5 856.3L536.8 856.3" stroke-width="0.85"/>
<path d="M519.5 892.5L536.8 892.5" stroke-width="0.85"/>
<path d="M517 857.5Q515.8 874.4 517 891.3" stroke-width="1.6" stroke="#1e1e1e"/>
<path d="M519.5 856.3V862.5H522.5V866H526.2M519.5 892.5V886.3H522.5V882.7H526.2" stroke-width="0.8"/>
<rect x="526.2" y="866" width="5.7" height="16.7" stroke-width="0.9"/>
<rect x="528" y="868.5" width="2.3" height="11.7" stroke-width="0.7"/>
<path d="M522.5 862.5H534.5V886.3H522.5" stroke-width="0.8"/>
<path d="M517 869.1L526.2 869.1" stroke-width="0.8"/>
<path d="M517 879.2L526.2 879.2" stroke-width="0.8"/>
<path d="M534.5 856.3L534.5 892.5" stroke-width="0.7"/>
<g transform="translate(697.7 450.3) scale(-1 1)">
<path d="M536.8 741.4H514.2Q513.1 741.4 513.1 740Q513.1 738.5 514.2 738.5H573Q574.2 738.5 574.2 739.7V750.8Q574.2 752.1 572.9 752.1Q571.5 752.1 571.5 750.8V741.4H566.1" stroke-width="0.85"/>
<path d="M539.5 741.4L563.9 741.4" stroke-width="0.85"/>
<path d="M536.8 741.4L536.8 764.3" stroke-width="0.85"/>
<path d="M536.8 806.6L536.8 815.5" stroke-width="0.85"/>
<path d="M539.5 741.4L539.5 816.5" stroke-width="0.85"/>
<path d="M563.9 741.4L563.9 816.5" stroke-width="0.85"/>
<rect x="541" y="742" width="21.1" height="72" stroke-width="0.85"/>
<path d="M566.1 741.4L566.1 814" stroke-width="0.85"/>
<path d="M566.1 814H571.5V808.5Q571.5 807.2 572.9 807.2Q574.2 807.2 574.2 808.5V816.5Q574.2 817.9 572.8 817.9H564" stroke-width="0.85"/>
<path d="M536.8 815.5Q536.8 816.8 538 816.8H539.5" stroke-width="0.85"/>
<path d="M536.8 764.3H517.2Q516 764.3 516 765.5V805.4Q516 806.6 517.2 806.6H536.8" stroke-width="0.85"/>
<path d="M536.8 767.3H520.2Q519.4 767.3 519.2 768.8Q518.6 770.3 518.6 771.8V799.1Q518.6 800.6 519.2 802.1Q519.4 803.6 520.2 803.6H536.8" stroke-width="0.85"/>
<path d="M519.2 771.3Q523.5 770.6 524.5 772.3Q523.5 773.6 519.4 773.3" stroke-width="0.7"/>
<path d="M519.2 799.6Q523.5 800.3 524.5 798.6Q523.5 797.3 519.4 797.6" stroke-width="0.7"/>
<path d="M538.6 817L538.6 819L539 821.4L539 826.9L541.4 829.1L539 831.3L539 836.8L538.6 839.2L538.6 841.2L547.8 841.2L547.8 839.2L541.3 836.8L541.3 832.5L544.5 829.1L541.3 825.7L541.3 821.4L547.8 819L547.8 817Z" stroke-width="0.9"/>
<path d="M556.5 817L556.5 819L559.09 821.4L559.09 836.8L556.5 839.2L556.5 841.2L563.9 841.2L563.9 839.2L561.31 836.8L561.31 821.4L563.9 819L563.9 817Z" stroke-width="0.9"/>
<path d="M548 821.5L551 820L553.5 822L556 820M548 836.5L551 838L553.5 836L556 838" stroke-width="0.7"/>
<path d="M539.5 841.2H564M564 841.2H572.8Q574.2 841.2 574.2 842.6V850.8Q574.2 852.1 572.9 852.1Q571.5 852.1 571.5 850.8V844.2H566.1" stroke-width="0.85"/>
<path d="M536.8 842.5Q536.8 841.2 538 841.2H539.5" stroke-width="0.85"/>
<path d="M536.8 842.5L536.8 853.4" stroke-width="0.85"/>
<path d="M536.8 895.4L536.8 936.7" stroke-width="0.85"/>
<path d="M536.8 972.1L536.8 992.7" stroke-width="0.85"/>
<path d="M539.5 841.2L539.5 992.7" stroke-width="0.85"/>
<path d="M563.9 841.2L563.9 992.7" stroke-width="0.85"/>
<rect x="541" y="844.2" width="21.1" height="148.1" stroke-width="0.85"/>
<path d="M566.1 844.2L566.1 916.1" stroke-width="0.85"/>
<path d="M566.1 919L566.1 992.7" stroke-width="0.85"/>
<path d="M566.1 916.1H572.9Q574.2 916.1 574.2 917.4V925.2Q574.2 926.4 572.9 926.4Q571.6 926.4 571.6 925.2V919H566.1" stroke-width="0.85"/>
<path d="M536.8 936.7H517.2Q516 936.7 516 937.9V970.9Q516 972.1 517.2 972.1H536.8" stroke-width="0.85"/>
<path d="M536.8 939.7H520.2Q519.4 939.7 519.2 941.2Q518.6 942.7 518.6 944.2V964.6Q518.6 966.1 519.2 967.6Q519.4 969.1 520.2 969.1H536.8" stroke-width="0.85"/>
<path d="M519.2 943.7Q523.5 943 524.5 944.7Q523.5 946 519.4 945.7" stroke-width="0.7"/>
<path d="M519.2 965.1Q523.5 965.8 524.5 964.1Q523.5 962.8 519.4 963.1" stroke-width="0.7"/>
<path d="M536.8 992.7H514.2Q513.1 992.7 513.1 994.5Q513.1 996.4 514.2 996.4H573Q574.2 996.4 574.2 995.2V983.6Q574.2 982.4 572.9 982.4Q571.6 982.4 571.6 983.6V992.7H566.1" stroke-width="0.85"/>
<path d="M539.5 992.7L563.9 992.7" stroke-width="0.85"/>
<path d="M399.4 840.2L532.7 840.2" stroke-width="0.85"/>
<path d="M399.4 908.5L532.7 908.5" stroke-width="0.85"/>
<path d="M399.4 840.2L399.4 843.2" stroke-width="0.85"/>
<path d="M399.4 902L399.4 908.5" stroke-width="0.85"/>
<rect x="373.4" y="853.9" width="48.1" height="3" stroke-width="0.01" fill="#878787" stroke="none"/>
<path d="M373.4 853.9L421.5 853.9" stroke-width="0.45" stroke="#444"/>
<path d="M373.4 856.9L421.5 856.9" stroke-width="0.45" stroke="#444"/>
<rect x="373.4" y="862.1" width="48.1" height="2.7" stroke-width="0.01" fill="#878787" stroke="none"/>
<path d="M373.4 862.1L421.5 862.1" stroke-width="0.45" stroke="#444"/>
<path d="M373.4 864.8L421.5 864.8" stroke-width="0.45" stroke="#444"/>
<rect x="373.4" y="883.1" width="48.1" height="2.7" stroke-width="0.01" fill="#878787" stroke="none"/>
<path d="M373.4 883.1L421.5 883.1" stroke-width="0.45" stroke="#444"/>
<path d="M373.4 885.8L421.5 885.8" stroke-width="0.45" stroke="#444"/>
<rect x="373.4" y="890.3" width="48.1" height="3" stroke-width="0.01" fill="#878787" stroke="none"/>
<path d="M373.4 890.3L421.5 890.3" stroke-width="0.45" stroke="#444"/>
<path d="M373.4 893.3L421.5 893.3" stroke-width="0.45" stroke="#444"/>
<path d="M421.5 853.9L421.5 864.8" stroke-width="0.9"/>
<path d="M421.5 883.1L421.5 893.3" stroke-width="0.9"/>
<rect x="411.8" y="864.9" width="7.8" height="18.1" stroke-width="0.6" fill="url(#dots)"/>
<path d="M402.6 865.8H406Q411.2 866.2 411.2 874Q411.2 881.8 406 882.2H402.6Z" stroke-width="1.4" stroke="#1e1e1e"/>
<path d="M419.8 864.8L419.8 883.1" stroke-width="0.8"/>
<rect x="421.7" y="859.2" width="12.2" height="44.2" stroke-width="0.9"/>
<path d="M421.7 859.2L433.9 903.4" stroke-width="0.6"/>
<path d="M421.7 903.4L433.9 859.2" stroke-width="0.6"/>
<path d="M401 841.9L430 841.9" stroke-width="0.7"/>
<path d="M423 842L429.5 851.5V857.5H433.5V843.5" stroke-width="0.8"/>
<path d="M431.5 843.5V852" stroke-width="0.7"/>
<path d="M392.3 853.9L397 845.5L399.8 846.8L402.5 843L407 845.2L405.5 847.5L410.5 849L413.3 851.8L409 853.9L406.5 851.5L404 853.9L401 851.5L398.5 853.9L396 852L394.5 853.9Z" stroke-width="0.8"/>
<path d="M421.5 858.9L433.9 858.9" stroke-width="0.8"/>
<path d="M391.5 893.4H411.3V899.2H408.8V896H406.3V899H403.8V896H401.3V899H398.8V896H396.3L400.5 901.5V905" stroke-width="0.8"/>
<circle cx="404.3" cy="902.4" r="2.4" stroke-width="0.8"/>
<circle cx="404.3" cy="902.4" r="1" stroke-width="0.6"/>
<path d="M400.5 905H410V902.5H412.5V905.3" stroke-width="0.8"/>
<path d="M399.4 905.3L460 905.3" stroke-width="0.85"/>
<path d="M434.3 843.5L434.3 905.3" stroke-width="0.85"/>
<path d="M437.3 844.1L437.3 881.3" stroke-width="0.85"/>
<path d="M437.3 844.1L451.5 844.1" stroke-width="0.85"/>
<path d="M437.3 881.3L461 881.3" stroke-width="0.85"/>
<path d="M437.3 884L437.3 886L439.75 888.4L439.75 899.6L437.3 902L437.3 904L444.3 904L444.3 902L441.85 899.6L441.85 888.4L444.3 886L444.3 884Z" stroke-width="0.9"/>
<path d="M458.1 884L458.1 886L457.7 888.4L457.7 891.8L455.3 894L457.7 896.2L457.7 899.6L458.1 902L458.1 904L450.5 904L450.5 902L455.4 899.6L455.4 897.4L452.2 894L455.4 890.6L455.4 888.4L450.5 886L450.5 884Z" stroke-width="0.9"/>
<path d="M444.8 888.5L446.3 887L447.8 889L449.3 887L450.4 888.5M444.8 899.5L446.3 901L447.8 899L449.3 901L450.4 899.5" stroke-width="0.7"/>
<path d="M458.4 883L458.4 905" stroke-width="0.85"/>
<rect x="446.6" y="869" width="14.4" height="11.6" stroke-width="0.8"/>
<path d="M438 874.9L443 872.6L446 872.6L446 877.2L443 877.2Z" stroke-width="0.7" fill="#aaa"/>
<path d="M447.5 870.6L448.6 879.2" stroke-width="0.9" stroke="#1e1e1e"/>
<path d="M449.7 870.6L450.8 879.2" stroke-width="0.9" stroke="#1e1e1e"/>
<path d="M451.9 870.6L453 879.2" stroke-width="0.9" stroke="#1e1e1e"/>
<path d="M454.1 870.6L455.2 879.2" stroke-width="0.9" stroke="#1e1e1e"/>
<path d="M456.3 870.6L457.4 879.2" stroke-width="0.9" stroke="#1e1e1e"/>
<path d="M458.5 870.6L459.6 879.2" stroke-width="0.9" stroke="#1e1e1e"/>
<path d="M434 874.9L470 874.9" stroke-width="0.5"/>
<path d="M462.5 869.9L467.5 874.9L462.5 879.9Z" stroke-width="0.8" fill="#999"/>
<rect x="446.1" y="835" width="49" height="4.8" stroke-width="1.4" fill="#ddd" rx="1.6" stroke="#1e1e1e"/>
<path d="M448 837.4L493 837.4" stroke-width="1" stroke="#555"/>
<path d="M451.4 839.8V852Q451.4 853.6 453.2 854.5V863Q453.2 864.7 455 864.7H485.8Q487.7 864.7 487.7 863V854.5Q489.9 853.6 489.9 852V839.8" stroke-width="1.5" stroke="#1e1e1e"/>
<path d="M451.4 853.4L489.9 853.4" stroke-width="1.2" stroke="#1e1e1e"/>
<rect x="453.2" y="853.4" width="34.5" height="5.1" stroke-width="0.8" fill="#999" stroke="#1e1e1e"/>
<path d="M463 843L463 853.4" stroke-width="1.3" stroke="#1e1e1e"/>
<path d="M467.5 843L467.5 853.4" stroke-width="1.3" stroke="#1e1e1e"/>
<path d="M472.5 843L472.5 853.4" stroke-width="1.3" stroke="#1e1e1e"/>
<path d="M477 843L477 853.4" stroke-width="1.3" stroke="#1e1e1e"/>
<rect x="464" y="845" width="2.5" height="6.5" stroke-width="0.5" fill="#bbb"/>
<rect x="473.5" y="845" width="2.5" height="6.5" stroke-width="0.5" fill="#bbb"/>
<path d="M458.5 843L481.5 843" stroke-width="1" stroke="#1e1e1e"/>
<path d="M458.5 839.8L458.5 853.4" stroke-width="1" stroke="#1e1e1e"/>
<path d="M481.5 839.8L481.5 853.4" stroke-width="1" stroke="#1e1e1e"/>
<path d="M455 861.2L486 861.2" stroke-width="0.9" stroke="#1e1e1e"/>
<rect x="462.7" y="855.1" width="28.9" height="31.5" stroke-width="0.9"/>
<path d="M475 855.1L475 889.2" stroke-width="0.9"/>
<path d="M466.5 860L466.5 889.2" stroke-width="0.8"/>
<path d="M487.7 863L475 872.6" stroke-width="0.9"/>
<path d="M462.7 868.5L475 868.5" stroke-width="0.8"/>
<path d="M462.7 880.5L491.6 880.5" stroke-width="0.8"/>
<rect x="461.4" y="889.2" width="28.5" height="1.8" stroke-width="0.5" fill="#999" stroke="#666"/>
<rect x="460.1" y="891" width="30.6" height="14.9" stroke-width="0.9"/>
<rect x="460.8" y="897" width="4.2" height="6.5" stroke-width="0.7"/>
<rect x="485.8" y="897" width="4.2" height="6.5" stroke-width="0.7"/>
<path d="M465 903.5L485.8 903.5" stroke-width="0.7"/>
<rect x="456.2" y="908.5" width="38" height="3.1" stroke-width="1.2" fill="#ddd" rx="1.2" stroke="#1e1e1e"/>
<path d="M492.9 844.2L516.1 844.2" stroke-width="0.85"/>
<path d="M492.9 844.2V848H494.2V855.1H500.4V892.7H494.2V901H492.9V905.4H516.1" stroke-width="0.85"/>
<path d="M516.1 844.2Q517.5 844.2 517.5 845.7Q517.5 847.2 516.1 847.2H513.8" stroke-width="0.85"/>
<path d="M516.1 905.4Q517.5 905.4 517.5 903.9Q517.5 902.4 516.1 902.4H513.8" stroke-width="0.85"/>
<path d="M490.7 905.4L492.9 905.4" stroke-width="0.85"/>
<path d="M532.7 840.2V848.1H529.2" stroke-width="0.85"/>
<path d="M532.7 908.5V900.6H529.2" stroke-width="0.85"/>
<rect x="520.5" y="844.3" width="8.3" height="9.5" stroke-width="0.5" fill="url(#pilev)" stroke="#222"/>
<rect x="519.2" y="843.2" width="10.9" height="2" stroke-width="0.5" fill="#333"/>
<rect x="520.5" y="895.4" width="8.3" height="9.2" stroke-width="0.5" fill="url(#pilev)" stroke="#222"/>
<rect x="519.2" y="903.6" width="10.9" height="2" stroke-width="0.5" fill="#333"/>
<path d="M500.4 858.6H493.4V890.6H500.4" stroke-width="1.5" stroke="#1e1e1e"/>
<path d="M496 861V888" stroke-width="0.8"/>
<rect x="500.4" y="862.6" width="7" height="23.6" stroke-width="0.9"/>
<rect x="507.4" y="866.5" width="2.6" height="16.2" stroke-width="0.9"/>
<path d="M496.5 866L500.4 866" stroke-width="0.8"/>
<path d="M496.5 870L500.4 870" stroke-width="0.8"/>
<path d="M496.5 874L500.4 874" stroke-width="0.8"/>
<path d="M496.5 878L500.4 878" stroke-width="0.8"/>
<path d="M496.5 882L500.4 882" stroke-width="0.8"/>
<path d="M510 869.1L517 869.1" stroke-width="0.8"/>
<path d="M510 879.2L517 879.2" stroke-width="0.8"/>
<path d="M536.8 853.4H516.1V857.5" stroke-width="0.85"/>
<path d="M536.8 895.4H516.1V891.3" stroke-width="0.85"/>
<path d="M519.5 856.3L536.8 856.3" stroke-width="0.85"/>
<path d="M519.5 892.5L536.8 892.5" stroke-width="0.85"/>
<path d="M517 857.5Q515.8 874.4 517 891.3" stroke-width="1.6" stroke="#1e1e1e"/>
<path d="M519.5 856.3V862.5H522.5V866H526.2M519.5 892.5V886.3H522.5V882.7H526.2" stroke-width="0.8"/>
<rect x="526.2" y="866" width="5.7" height="16.7" stroke-width="0.9"/>
<rect x="528" y="868.5" width="2.3" height="11.7" stroke-width="0.7"/>
<path d="M522.5 862.5H534.5V886.3H522.5" stroke-width="0.8"/>
<path d="M517 869.1L526.2 869.1" stroke-width="0.8"/>
<path d="M517 879.2L526.2 879.2" stroke-width="0.8"/>
<path d="M534.5 856.3L534.5 892.5" stroke-width="0.7"/>
</g>
<path d="M324.3 1294.7L324.3 1352" stroke-width="0.85"/>
<path d="M337.6 1294.7L337.6 1352" stroke-width="0.85"/>
<path d="M369.3 1283V1203.3Q369.3 1201.3 371.3 1201.3H507L509.5 1203.5" stroke-width="0.85"/>
<path d="M371.7 1275.7V1206.5Q371.7 1205 373.2 1205H445.7V1266.7H373.5" stroke-width="0.85"/>
<path d="M373.7 1205V1209.5H381.7V1207.5H377" stroke-width="0.8"/>
<path d="M387.8 1205V1207.2H385.7V1209.2H392.3V1207.2H390.2V1205" stroke-width="0.8"/>
<path d="M413.8 1205V1207.2H411V1209.2H416.2V1205" stroke-width="0.8"/>
<path d="M373.5 1266.7V1259H381.7V1261.5H376.5V1263.8H381.7" stroke-width="0.8"/>
<path d="M387.8 1266.7V1264.5H385.7V1262.5H392.3V1264.5H390.2V1266.7" stroke-width="0.8"/>
<path d="M413.8 1266.7V1264.5H411V1262.5H416.2V1266.7" stroke-width="0.8"/>
<path d="M371.7 1269L508 1269" stroke-width="0.85"/>
<path d="M447.4 1201.3L447.4 1266.7" stroke-width="0.85"/>
<rect x="449.3" y="1205" width="20.4" height="37.3" stroke-width="0.85" rx="0.8"/>
<path d="M447.4 1266.7L508 1266.7" stroke-width="0.85"/>
<path d="M448.1 1245.7L448.1 1247.7L448.5 1250.1L448.5 1253L450.9 1255.2L448.5 1257.4L448.5 1260.3L448.1 1262.7L448.1 1264.7L456.9 1264.7L456.9 1262.7L450.8 1260.3L450.8 1258.6L454 1255.2L450.8 1251.8L450.8 1250.1L456.9 1247.7L456.9 1245.7Z" stroke-width="0.9"/>
<path d="M463.6 1245.7L463.6 1247.7L465.98 1250.1L465.98 1260.3L463.6 1262.7L463.6 1264.7L470.4 1264.7L470.4 1262.7L468.02 1260.3L468.02 1250.1L470.4 1247.7L470.4 1245.7Z" stroke-width="0.9"/>
<path d="M457.5 1250L459.5 1248.5L461 1250.5L462.5 1248.5M457.5 1260.5L459.5 1262L461 1260L462.5 1262" stroke-width="0.7"/>
<path d="M471.2 1201.3L471.2 1266.7" stroke-width="0.85"/>
<path d="M472.8 1219.5L472.8 1266.7" stroke-width="0.7"/>
<rect x="473.4" y="1220.7" width="12.3" height="44" stroke-width="0.9"/>
<path d="M473.4 1220.7L485.7 1264.7" stroke-width="0.6"/>
<path d="M473.4 1264.7L485.7 1220.7" stroke-width="0.6"/>
<rect x="485.7" y="1215.6" width="46.5" height="3" stroke-width="0.01" fill="#878787" stroke="none"/>
<path d="M532.2 1215.6L485.7 1215.6" stroke-width="0.45" stroke="#444"/>
<path d="M532.2 1218.6L485.7 1218.6" stroke-width="0.45" stroke="#444"/>
<rect x="485.7" y="1223.8" width="46.5" height="2.7" stroke-width="0.01" fill="#878787" stroke="none"/>
<path d="M532.2 1223.8L485.7 1223.8" stroke-width="0.45" stroke="#444"/>
<path d="M532.2 1226.5L485.7 1226.5" stroke-width="0.45" stroke="#444"/>
<rect x="485.7" y="1244.8" width="46.5" height="2.7" stroke-width="0.01" fill="#878787" stroke="none"/>
<path d="M532.2 1244.8L485.7 1244.8" stroke-width="0.45" stroke="#444"/>
<path d="M532.2 1247.5L485.7 1247.5" stroke-width="0.45" stroke="#444"/>
<rect x="485.7" y="1252" width="46.5" height="3" stroke-width="0.01" fill="#878787" stroke="none"/>
<path d="M532.2 1252L485.7 1252" stroke-width="0.45" stroke="#444"/>
<path d="M532.2 1255L485.7 1255" stroke-width="0.45" stroke="#444"/>
<path d="M485.7 1215.6L485.7 1226.5" stroke-width="0.9"/>
<path d="M485.7 1244.8L485.7 1255" stroke-width="0.9"/>
<rect x="487.7" y="1226.5" width="7.7" height="18.3" stroke-width="0.6" fill="url(#dots)"/>
<path d="M504 1227.5H500.8Q495.9 1227.9 495.9 1235.6Q495.9 1243.4 500.8 1243.8H504Z" stroke-width="1.4" stroke="#1e1e1e"/>
<path d="M487.5 1226.5L487.5 1244.8" stroke-width="0.8"/>
<path d="M472.8 1204H477.5L476 1206.5L478.3 1217V1219.5H472.8" stroke-width="0.8"/>
<path d="M478.3 1204.5L485 1203.3H500" stroke-width="0.8"/>
<path d="M476 1203L507 1203" stroke-width="0.7"/>
<path d="M514.2 1215.6L509.5 1207.2L506.7 1208.5L504 1204.7L499.5 1206.9L501 1209.2L496 1210.7L493.2 1213.5L497.5 1215.6L500 1213.2L502.5 1215.6L505.5 1213.2L508 1215.6L510.5 1213.7L512 1215.6Z" stroke-width="0.8"/>
<path d="M514.5 1255L494.7 1255L494.7 1260.8L497.2 1260.8L497.2 1257.6L499.7 1257.6L499.7 1260.6L502.2 1260.6L502.2 1257.6L504.7 1257.6L504.7 1260.6L507.2 1260.6L507.2 1257.6L509.7 1257.6L505.5 1263.1L505.5 1266.6" stroke-width="0.8"/>
<circle cx="501.7" cy="1264" r="2.4" stroke-width="0.8"/>
<circle cx="501.7" cy="1264" r="1" stroke-width="0.6"/>
<path d="M369.3 1283Q369.3 1284.5 370.8 1284.5H384" stroke-width="0.85"/>
<path d="M371.7 1275.7H380.3L383 1273" stroke-width="0.85"/>
<rect x="374.5" y="1283.6" width="6.5" height="7.4" stroke-width="0.5" fill="url(#pilev)" stroke="#222"/>
<rect x="371.9" y="1282.4" width="11.7" height="2.2" stroke-width="0.5" fill="#333"/>
<path d="M381.7 1272.7H418.3V1285H439Q441.2 1285 441.2 1283.2Q441.2 1281.4 439 1281.4H436.7" stroke-width="0.85"/>
<path d="M384 1275H416V1287.3H441.5" stroke-width="0.85"/>
<rect x="385.7" y="1275.7" width="26.6" height="8.7" stroke-width="0.9"/>
<rect x="386.9" y="1276.9" width="2.8" height="6.3" stroke-width="0.5" fill="#aaa"/>
<rect x="408.3" y="1276.9" width="2.8" height="6.3" stroke-width="0.5" fill="#aaa"/>
<rect x="385.7" y="1283" width="26.6" height="2.6" stroke-width="0.4" fill="#888"/>
<path d="M393 1276.2H403.6Q403.07 1280.8 398.3 1281Q393.53 1280.8 393 1276.2Z" stroke-width="0.9" fill="#fff"/>
<path d="M396.8 1276.2L396.8 1254.5L398.3 1250.5L399.8 1254.5L399.8 1276.2Z" stroke-width="0.4" fill="#3a3a3a" stroke="#1e1e1e"/>
<path d="M394.4 1274.1L402.2 1275.7" stroke-width="0.95" stroke="#1e1e1e"/>
<path d="M394.4 1271.8L402.2 1273.4" stroke-width="0.95" stroke="#1e1e1e"/>
<path d="M394.4 1269.5L402.2 1271.1" stroke-width="0.95" stroke="#1e1e1e"/>
<path d="M394.4 1267.2L402.2 1268.8" stroke-width="0.95" stroke="#1e1e1e"/>
<path d="M394.4 1264.9L402.2 1266.5" stroke-width="0.95" stroke="#1e1e1e"/>
<path d="M394.4 1262.6L402.2 1264.2" stroke-width="0.95" stroke="#1e1e1e"/>
<path d="M394.4 1260.3L402.2 1261.9" stroke-width="0.95" stroke="#1e1e1e"/>
<path d="M394.4 1258L402.2 1259.6" stroke-width="0.95" stroke="#1e1e1e"/>
<path d="M395.5 1255.7L401.1 1257.3" stroke-width="0.95" stroke="#1e1e1e"/>
<path d="M395.5 1253.4L401.1 1255" stroke-width="0.95" stroke="#1e1e1e"/>
<path d="M398.3 1283.2L398.3 1244.5" stroke-width="0.5"/>
<path d="M422.3 1272.4L425.3 1272.4L425.3 1274.8L430 1274.8L430 1272.4L433 1272.4L433 1280.4L430 1280.4L430 1278L425.3 1278L425.3 1280.4L422.3 1280.4Z" stroke-width="1.3" stroke="#1e1e1e"/>
<path d="M436.3 1277H458V1281.5H436.3Q434.5 1281.5 434.5 1279.2Q434.5 1277 436.3 1277" stroke-width="0.85"/>
<path d="M442 1281L445 1281L445 1283.4L449.5 1283.4L449.5 1281L452.5 1281L452.5 1289.5L449.5 1289.5L449.5 1287.1L445 1287.1L445 1289.5L442 1289.5Z" stroke-width="1.3" stroke="#1e1e1e"/>
<rect x="497.4" y="1269.2" width="5" height="8.4" stroke-width="0.5" fill="url(#pilev)" stroke="#222"/>
<rect x="494.8" y="1276.6" width="10.2" height="2.2" stroke-width="0.5" fill="#333"/>
<path d="M508.3 1276V1356.2Q508.3 1358.2 506.3 1358.2H371.3Q369.3 1358.2 369.3 1356.2V1352" stroke-width="0.85"/>
<path d="M370.5 1290.6L508.3 1290.6" stroke-width="0.85"/>
<path d="M369.3 1291.6L369.3 1294.5" stroke-width="0.85"/>
<path d="M508.3 1276H494" stroke-width="0.85"/>
<path d="M505.4 1279.5V1354.3H430.6V1294H498.5" stroke-width="0.85"/>
<path d="M458 1276H470V1279.5H505.4" stroke-width="0.85"/>
<path d="M461 1281.5H466V1286.5H500V1283.5H503" stroke-width="0.85"/>
<path d="M452.5 1289.5H497.5V1292" stroke-width="0.85"/>
<rect x="465.5" y="1277" width="27" height="8.8" stroke-width="0.9"/>
<rect x="466.7" y="1278.2" width="2.8" height="6.4" stroke-width="0.5" fill="#aaa"/>
<rect x="488.5" y="1278.2" width="2.8" height="6.4" stroke-width="0.5" fill="#aaa"/>
<path d="M474 1285.4H484.6Q484.07 1280.8 479.3 1280.6Q474.53 1280.8 474 1285.4Z" stroke-width="0.9" fill="#fff"/>
<path d="M477.8 1285.4L477.8 1306L479.3 1310L480.8 1306L480.8 1285.4Z" stroke-width="0.4" fill="#3a3a3a" stroke="#1e1e1e"/>
<path d="M475.4 1287.5L483.2 1285.9" stroke-width="0.95" stroke="#1e1e1e"/>
<path d="M475.4 1289.8L483.2 1288.2" stroke-width="0.95" stroke="#1e1e1e"/>
<path d="M475.4 1292.1L483.2 1290.5" stroke-width="0.95" stroke="#1e1e1e"/>
<path d="M475.4 1294.4L483.2 1292.8" stroke-width="0.95" stroke="#1e1e1e"/>
<path d="M475.4 1296.7L483.2 1295.1" stroke-width="0.95" stroke="#1e1e1e"/>
<path d="M475.4 1299L483.2 1297.4" stroke-width="0.95" stroke="#1e1e1e"/>
<path d="M475.4 1301.3L483.2 1299.7" stroke-width="0.95" stroke="#1e1e1e"/>
<path d="M475.4 1303.6L483.2 1302" stroke-width="0.95" stroke="#1e1e1e"/>
<path d="M476.5 1305.9L482.1 1304.3" stroke-width="0.95" stroke="#1e1e1e"/>
<path d="M479.3 1278.4L479.3 1316" stroke-width="0.5"/>
<path d="M463.2 1294V1296.2H466V1298.2H460.8V1294" stroke-width="0.8"/>
<path d="M485.8 1294V1296.2H483.7V1298.2H490.3V1296.2H488.2V1294" stroke-width="0.8"/>
<path d="M498.5 1294V1298.5H503V1296" stroke-width="0.8"/>
<path d="M463.2 1354.3V1352.1H466V1350.1H460.8V1354.3" stroke-width="0.8"/>
<path d="M485.8 1354.3V1352.1H483.7V1350.1H490.3V1352.1H488.2V1354.3" stroke-width="0.8"/>
<path d="M498.5 1354.3V1349.5H503V1352" stroke-width="0.8"/>
<rect x="407.6" y="1294" width="21.1" height="38.3" stroke-width="0.85" rx="0.8"/>
<path d="M405.8 1290.6L405.8 1358.2" stroke-width="0.85"/>
<path d="M407.6 1335L407.6 1337L409.98 1339.4L409.98 1349.9L407.6 1352.3L407.6 1354.3L414.4 1354.3L414.4 1352.3L412.02 1349.9L412.02 1339.4L414.4 1337L414.4 1335Z" stroke-width="0.9"/>
<path d="M429.9 1335L429.9 1337L429.5 1339.4L429.5 1342.45L427.1 1344.65L429.5 1346.85L429.5 1349.9L429.9 1352.3L429.9 1354.3L421.1 1354.3L421.1 1352.3L427.2 1349.9L427.2 1348.05L424 1344.65L427.2 1341.25L427.2 1339.4L421.1 1337L421.1 1335Z" stroke-width="0.9"/>
<path d="M415.5 1339.5L417 1338L418.5 1340L420.5 1338.5M415.5 1350L417 1351.5L418.5 1349.5L420.5 1351" stroke-width="0.7"/>
<path d="M369.3 1355L430.6 1355" stroke-width="0.85"/>
<rect x="391.8" y="1309.3" width="12.5" height="44.7" stroke-width="0.9"/>
<path d="M391.8 1309.3L404.3 1354" stroke-width="0.6"/>
<path d="M391.8 1354L404.3 1309.3" stroke-width="0.6"/>
<rect x="337.7" y="1304.4" width="54.1" height="3" stroke-width="0.01" fill="#878787" stroke="none"/>
<path d="M337.7 1304.4L391.8 1304.4" stroke-width="0.45" stroke="#444"/>
<path d="M337.7 1307.4L391.8 1307.4" stroke-width="0.45" stroke="#444"/>
<rect x="337.7" y="1312.6" width="54.1" height="2.7" stroke-width="0.01" fill="#878787" stroke="none"/>
<path d="M337.7 1312.6L391.8 1312.6" stroke-width="0.45" stroke="#444"/>
<path d="M337.7 1315.3L391.8 1315.3" stroke-width="0.45" stroke="#444"/>
<rect x="337.7" y="1333.6" width="54.1" height="2.7" stroke-width="0.01" fill="#878787" stroke="none"/>
<path d="M337.7 1333.6L391.8 1333.6" stroke-width="0.45" stroke="#444"/>
<path d="M337.7 1336.3L391.8 1336.3" stroke-width="0.45" stroke="#444"/>
<rect x="337.7" y="1340.8" width="54.1" height="3" stroke-width="0.01" fill="#878787" stroke="none"/>
<path d="M337.7 1340.8L391.8 1340.8" stroke-width="0.45" stroke="#444"/>
<path d="M337.7 1343.8L391.8 1343.8" stroke-width="0.45" stroke="#444"/>
<path d="M391.8 1304.4L391.8 1315.3" stroke-width="0.9"/>
<path d="M391.8 1333.6L391.8 1343.8" stroke-width="0.9"/>
<rect x="382.3" y="1315.4" width="7.8" height="18.2" stroke-width="0.6" fill="url(#dots)"/>
<path d="M373 1316.4H376.4Q381.6 1316.8 381.6 1324.5Q381.6 1332.2 376.4 1332.6H373Z" stroke-width="1.4" stroke="#1e1e1e"/>
<path d="M390.3 1315.3L390.3 1333.7" stroke-width="0.8"/>
<path d="M404.5 1292.5H399.5L401 1295L399 1305.5V1308.5H404.5" stroke-width="0.8"/>
<path d="M399 1293L392 1291.5" stroke-width="0.8"/>
<path d="M363.5 1304.4L368.2 1296L371 1297.3L373.7 1293.5L378.2 1295.7L376.7 1298L381.7 1299.5L384.5 1302.3L380.2 1304.4L377.7 1302L375.2 1304.4L372.2 1302L369.7 1304.4L367.2 1302.5L365.7 1304.4Z" stroke-width="0.8"/>
<path d="M363 1343.8L382.8 1343.8L382.8 1349.6L380.3 1349.6L380.3 1346.4L377.8 1346.4L377.8 1349.4L375.3 1349.4L375.3 1346.4L372.8 1346.4L372.8 1349.4L370.3 1349.4L370.3 1346.4L367.8 1346.4L372 1351.9L372 1355.4" stroke-width="0.8"/>
<circle cx="375.8" cy="1352.8" r="2.4" stroke-width="0.8"/>
<circle cx="375.8" cy="1352.8" r="1" stroke-width="0.6"/>
<path d="M337.7 1295L337.7 1351.5" stroke-width="0.85"/>
<path d="M371.25 1431V1366.4Q371.25 1364.4 373.25 1364.4H397.5" stroke-width="0.85"/>
<path d="M374.4 1431.2V1368.5Q374.4 1367.4 375.5 1367.4H380V1370.5H395V1375H445V1431.2Z" stroke-width="0.85"/>
<path d="M374.4 1378L445 1378" stroke-width="0.85"/>
<path d="M376 1378V1382.2H383V1380H379.5" stroke-width="0.8"/>
<path d="M390.3 1378V1380.2H388.2V1382.2H394.8V1380.2H392.7V1378" stroke-width="0.8"/>
<path d="M426.8 1378V1380.2H424V1382.2H429.2V1378" stroke-width="0.8"/>
<path d="M376 1431.2V1425.5Q378 1423.8 382 1425V1427.5H378.5V1429.3H383" stroke-width="0.8"/>
<path d="M390.3 1431.2V1429H388.2V1427H394.8V1429H392.7V1431.2" stroke-width="0.8"/>
<path d="M415.8 1431.2V1429H413V1427H418.2V1431.2" stroke-width="0.8"/>
<rect x="385.6" y="1357.6" width="6.3" height="8.4" stroke-width="0.5" fill="url(#pilev)" stroke="#222"/>
<rect x="383" y="1365" width="11.5" height="2.2" stroke-width="0.5" fill="#333"/>
<rect x="397.5" y="1365" width="26.3" height="9.4" stroke-width="0.9"/>
<rect x="398.7" y="1366.2" width="2.8" height="7" stroke-width="0.5" fill="#aaa"/>
<rect x="419.8" y="1366.2" width="2.8" height="7" stroke-width="0.5" fill="#aaa"/>
<path d="M404.7 1373H415.3Q414.77 1368.4 410 1368.2Q405.23 1368.4 404.7 1373Z" stroke-width="0.9" fill="#fff"/>
<path d="M408.5 1373L408.5 1387L410 1391L411.5 1387L411.5 1373Z" stroke-width="0.4" fill="#3a3a3a" stroke="#1e1e1e"/>
<path d="M406.1 1375.1L413.9 1373.5" stroke-width="0.95" stroke="#1e1e1e"/>
<path d="M406.1 1377.4L413.9 1375.8" stroke-width="0.95" stroke="#1e1e1e"/>
<path d="M406.1 1379.7L413.9 1378.1" stroke-width="0.95" stroke="#1e1e1e"/>
<path d="M406.1 1382L413.9 1380.4" stroke-width="0.95" stroke="#1e1e1e"/>
<path d="M406.1 1384.3L413.9 1382.7" stroke-width="0.95" stroke="#1e1e1e"/>
<path d="M407.2 1386.6L412.8 1385" stroke-width="0.95" stroke="#1e1e1e"/>
<path d="M410 1366L410 1397" stroke-width="0.5"/>
<path d="M423.8 1368H427Q428.5 1364 431.5 1360.5" stroke-width="0.85"/>
<path d="M423.8 1375H445" stroke-width="0.85"/>
<path d="M428.5 1358.5V1367Q428.8 1371.9 434 1371.9H470Q475.6 1371.9 475.6 1366.5V1358.5" stroke-width="0.85"/>
<path d="M431 1362V1366Q431.5 1369.5 435 1369.5H469Q473.2 1369.5 473.2 1365.5V1358.5" stroke-width="0.85"/>
<path d="M434.4 1361.3L437.4 1361.3L437.4 1363.7L437 1363.7L437 1361.3L440 1361.3L440 1369.4L437 1369.4L437 1367L437.4 1367L437.4 1369.4L434.4 1369.4Z" stroke-width="1.3" stroke="#1e1e1e"/>
<rect x="440" y="1358.8" width="21.9" height="10.6" stroke-width="0.9"/>
<rect x="441.2" y="1360" width="2.8" height="8.2" stroke-width="0.5" fill="#aaa"/>
<rect x="457.9" y="1360" width="2.8" height="8.2" stroke-width="0.5" fill="#aaa"/>
<path d="M446 1364.6H456.6Q456.07 1369.2 451.3 1369.4Q446.53 1369.2 446 1364.6Z" stroke-width="0.9" fill="#fff"/>
<path d="M449.8 1364.6L449.8 1349.6L451.3 1345.6L452.8 1349.6L452.8 1364.6Z" stroke-width="0.4" fill="#3a3a3a" stroke="#1e1e1e"/>
<path d="M447.4 1362.5L455.2 1364.1" stroke-width="0.95" stroke="#1e1e1e"/>
<path d="M447.4 1360.2L455.2 1361.8" stroke-width="0.95" stroke="#1e1e1e"/>
<path d="M447.4 1357.9L455.2 1359.5" stroke-width="0.95" stroke="#1e1e1e"/>
<path d="M447.4 1355.6L455.2 1357.2" stroke-width="0.95" stroke="#1e1e1e"/>
<path d="M447.4 1353.3L455.2 1354.9" stroke-width="0.95" stroke="#1e1e1e"/>
<path d="M448.5 1351L454.1 1352.6" stroke-width="0.95" stroke="#1e1e1e"/>
<path d="M448.5 1348.7L454.1 1350.3" stroke-width="0.95" stroke="#1e1e1e"/>
<path d="M451.3 1371.6L451.3 1339.6" stroke-width="0.5"/>
<rect x="445" y="1369.4" width="12.5" height="10" stroke-width="0.5" fill="url(#pilev)" stroke="#333"/>
<rect x="447.5" y="1378" width="20" height="53.2" stroke-width="0.85"/>
<path d="M445 1375L500 1375" stroke-width="0.85"/>
<path d="M470 1375L500 1375" stroke-width="0.85"/>
<path d="M470 1431.2V1378H498.5Q503 1378 503 1382.5V1413" stroke-width="0.85"/>
<path d="M500 1375Q505.6 1375.6 505.6 1381V1431Q505.6 1433.1 503.5 1433.1H470" stroke-width="0.85"/>
<path d="M472 1378V1382H478V1380" stroke-width="0.8"/>
<rect x="470.6" y="1415.6" width="32.5" height="15.6" stroke-width="0.85"/>
<path d="M503 1390.6H487Q481 1391 476 1395Q471.3 1398.5 471.3 1402.5Q471.8 1405.5 474.5 1405Q476.5 1404.3 476 1402" stroke-width="0.85"/>
<path d="M503 1393H487.5Q482 1393.3 478 1396.5Q474 1399.5 473.6 1402" stroke-width="0.85"/>
<path d="M479.7 1411.3H490.3Q489.77 1406.7 485 1406.5Q480.23 1406.7 479.7 1411.3Z" stroke-width="0.9" fill="#fff"/>
<path d="M483.5 1411.3L483.5 1422.5L485 1426.5L486.5 1422.5L486.5 1411.3Z" stroke-width="0.4" fill="#3a3a3a" stroke="#1e1e1e"/>
<path d="M481.1 1413.4L488.9 1411.8" stroke-width="0.95" stroke="#1e1e1e"/>
<path d="M481.1 1415.7L488.9 1414.1" stroke-width="0.95" stroke="#1e1e1e"/>
<path d="M481.1 1418L488.9 1416.4" stroke-width="0.95" stroke="#1e1e1e"/>
<path d="M481.1 1420.3L488.9 1418.7" stroke-width="0.95" stroke="#1e1e1e"/>
<path d="M482.2 1422.6L487.8 1421" stroke-width="0.95" stroke="#1e1e1e"/>
<path d="M485 1404.3L485 1432.5" stroke-width="0.5"/>
<path d="M495 1413L497 1405.5Q500 1402.5 504 1404L507.5 1413Z" stroke-width="0.9"/>
<path d="M498.5 1410H505" stroke-width="0.7"/>
<path d="M470 1413.1L536.6 1413.1" stroke-width="1.3" stroke="#444"/>
<path d="M470 1433.1H373Q371.25 1433.1 371.25 1431" stroke-width="0.85"/>
<path d="M536.6 1390.6L536.6 1434.5" stroke-width="0.85"/>
<path d="M555.7 1390.6L555.7 1434.5" stroke-width="0.85"/>
<path d="M532.2 1205.9L532.2 1262.8" stroke-width="0.85"/>
<g transform="translate(1441.3 0) scale(-1 1)">
<path d="M369.3 1283V1203.3Q369.3 1201.3 371.3 1201.3H507L509.5 1203.5" stroke-width="0.85"/>
<path d="M371.7 1275.7V1206.5Q371.7 1205 373.2 1205H445.7V1266.7H373.5" stroke-width="0.85"/>
<path d="M373.7 1205V1209.5H381.7V1207.5H377" stroke-width="0.8"/>
<path d="M387.8 1205V1207.2H385.7V1209.2H392.3V1207.2H390.2V1205" stroke-width="0.8"/>
<path d="M413.8 1205V1207.2H411V1209.2H416.2V1205" stroke-width="0.8"/>
<path d="M373.5 1266.7V1259H381.7V1261.5H376.5V1263.8H381.7" stroke-width="0.8"/>
<path d="M387.8 1266.7V1264.5H385.7V1262.5H392.3V1264.5H390.2V1266.7" stroke-width="0.8"/>
<path d="M413.8 1266.7V1264.5H411V1262.5H416.2V1266.7" stroke-width="0.8"/>
<path d="M371.7 1269L508 1269" stroke-width="0.85"/>
<path d="M447.4 1201.3L447.4 1266.7" stroke-width="0.85"/>
<rect x="449.3" y="1205" width="20.4" height="37.3" stroke-width="0.85" rx="0.8"/>
<path d="M447.4 1266.7L508 1266.7" stroke-width="0.85"/>
<path d="M448.1 1245.7L448.1 1247.7L448.5 1250.1L448.5 1253L450.9 1255.2L448.5 1257.4L448.5 1260.3L448.1 1262.7L448.1 1264.7L456.9 1264.7L456.9 1262.7L450.8 1260.3L450.8 1258.6L454 1255.2L450.8 1251.8L450.8 1250.1L456.9 1247.7L456.9 1245.7Z" stroke-width="0.9"/>
<path d="M463.6 1245.7L463.6 1247.7L465.98 1250.1L465.98 1260.3L463.6 1262.7L463.6 1264.7L470.4 1264.7L470.4 1262.7L468.02 1260.3L468.02 1250.1L470.4 1247.7L470.4 1245.7Z" stroke-width="0.9"/>
<path d="M457.5 1250L459.5 1248.5L461 1250.5L462.5 1248.5M457.5 1260.5L459.5 1262L461 1260L462.5 1262" stroke-width="0.7"/>
<path d="M471.2 1201.3L471.2 1266.7" stroke-width="0.85"/>
<path d="M472.8 1219.5L472.8 1266.7" stroke-width="0.7"/>
<rect x="473.4" y="1220.7" width="12.3" height="44" stroke-width="0.9"/>
<path d="M473.4 1220.7L485.7 1264.7" stroke-width="0.6"/>
<path d="M473.4 1264.7L485.7 1220.7" stroke-width="0.6"/>
<rect x="485.7" y="1215.6" width="46.5" height="3" stroke-width="0.01" fill="#878787" stroke="none"/>
<path d="M532.2 1215.6L485.7 1215.6" stroke-width="0.45" stroke="#444"/>
<path d="M532.2 1218.6L485.7 1218.6" stroke-width="0.45" stroke="#444"/>
<rect x="485.7" y="1223.8" width="46.5" height="2.7" stroke-width="0.01" fill="#878787" stroke="none"/>
<path d="M532.2 1223.8L485.7 1223.8" stroke-width="0.45" stroke="#444"/>
<path d="M532.2 1226.5L485.7 1226.5" stroke-width="0.45" stroke="#444"/>
<rect x="485.7" y="1244.8" width="46.5" height="2.7" stroke-width="0.01" fill="#878787" stroke="none"/>
<path d="M532.2 1244.8L485.7 1244.8" stroke-width="0.45" stroke="#444"/>
<path d="M532.2 1247.5L485.7 1247.5" stroke-width="0.45" stroke="#444"/>
<rect x="485.7" y="1252" width="46.5" height="3" stroke-width="0.01" fill="#878787" stroke="none"/>
<path d="M532.2 1252L485.7 1252" stroke-width="0.45" stroke="#444"/>
<path d="M532.2 1255L485.7 1255" stroke-width="0.45" stroke="#444"/>
<path d="M485.7 1215.6L485.7 1226.5" stroke-width="0.9"/>
<path d="M485.7 1244.8L485.7 1255" stroke-width="0.9"/>
<rect x="487.7" y="1226.5" width="7.7" height="18.3" stroke-width="0.6" fill="url(#dots)"/>
<path d="M504 1227.5H500.8Q495.9 1227.9 495.9 1235.6Q495.9 1243.4 500.8 1243.8H504Z" stroke-width="1.4" stroke="#1e1e1e"/>
<path d="M487.5 1226.5L487.5 1244.8" stroke-width="0.8"/>
<path d="M472.8 1204H477.5L476 1206.5L478.3 1217V1219.5H472.8" stroke-width="0.8"/>
<path d="M478.3 1204.5L485 1203.3H500" stroke-width="0.8"/>
<path d="M476 1203L507 1203" stroke-width="0.7"/>
<path d="M514.2 1215.6L509.5 1207.2L506.7 1208.5L504 1204.7L499.5 1206.9L501 1209.2L496 1210.7L493.2 1213.5L497.5 1215.6L500 1213.2L502.5 1215.6L505.5 1213.2L508 1215.6L510.5 1213.7L512 1215.6Z" stroke-width="0.8"/>
<path d="M514.5 1255L494.7 1255L494.7 1260.8L497.2 1260.8L497.2 1257.6L499.7 1257.6L499.7 1260.6L502.2 1260.6L502.2 1257.6L504.7 1257.6L504.7 1260.6L507.2 1260.6L507.2 1257.6L509.7 1257.6L505.5 1263.1L505.5 1266.6" stroke-width="0.8"/>
<circle cx="501.7" cy="1264" r="2.4" stroke-width="0.8"/>
<circle cx="501.7" cy="1264" r="1" stroke-width="0.6"/>
<path d="M369.3 1283Q369.3 1284.5 370.8 1284.5H384" stroke-width="0.85"/>
<path d="M371.7 1275.7H380.3L383 1273" stroke-width="0.85"/>
<rect x="374.5" y="1283.6" width="6.5" height="7.4" stroke-width="0.5" fill="url(#pilev)" stroke="#222"/>
<rect x="371.9" y="1282.4" width="11.7" height="2.2" stroke-width="0.5" fill="#333"/>
<path d="M381.7 1272.7H418.3V1285H439Q441.2 1285 441.2 1283.2Q441.2 1281.4 439 1281.4H436.7" stroke-width="0.85"/>
<path d="M384 1275H416V1287.3H441.5" stroke-width="0.85"/>
<rect x="385.7" y="1275.7" width="26.6" height="8.7" stroke-width="0.9"/>
<rect x="386.9" y="1276.9" width="2.8" height="6.3" stroke-width="0.5" fill="#aaa"/>
<rect x="408.3" y="1276.9" width="2.8" height="6.3" stroke-width="0.5" fill="#aaa"/>
<rect x="385.7" y="1283" width="26.6" height="2.6" stroke-width="0.4" fill="#888"/>
<path d="M393 1276.2H403.6Q403.07 1280.8 398.3 1281Q393.53 1280.8 393 1276.2Z" stroke-width="0.9" fill="#fff"/>
<path d="M396.8 1276.2L396.8 1254.5L398.3 1250.5L399.8 1254.5L399.8 1276.2Z" stroke-width="0.4" fill="#3a3a3a" stroke="#1e1e1e"/>
<path d="M394.4 1274.1L402.2 1275.7" stroke-width="0.95" stroke="#1e1e1e"/>
<path d="M394.4 1271.8L402.2 1273.4" stroke-width="0.95" stroke="#1e1e1e"/>
<path d="M394.4 1269.5L402.2 1271.1" stroke-width="0.95" stroke="#1e1e1e"/>
<path d="M394.4 1267.2L402.2 1268.8" stroke-width="0.95" stroke="#1e1e1e"/>
<path d="M394.4 1264.9L402.2 1266.5" stroke-width="0.95" stroke="#1e1e1e"/>
<path d="M394.4 1262.6L402.2 1264.2" stroke-width="0.95" stroke="#1e1e1e"/>
<path d="M394.4 1260.3L402.2 1261.9" stroke-width="0.95" stroke="#1e1e1e"/>
<path d="M394.4 1258L402.2 1259.6" stroke-width="0.95" stroke="#1e1e1e"/>
<path d="M395.5 1255.7L401.1 1257.3" stroke-width="0.95" stroke="#1e1e1e"/>
<path d="M395.5 1253.4L401.1 1255" stroke-width="0.95" stroke="#1e1e1e"/>
<path d="M398.3 1283.2L398.3 1244.5" stroke-width="0.5"/>
<path d="M422.3 1272.4L425.3 1272.4L425.3 1274.8L430 1274.8L430 1272.4L433 1272.4L433 1280.4L430 1280.4L430 1278L425.3 1278L425.3 1280.4L422.3 1280.4Z" stroke-width="1.3" stroke="#1e1e1e"/>
<path d="M436.3 1277H458V1281.5H436.3Q434.5 1281.5 434.5 1279.2Q434.5 1277 436.3 1277" stroke-width="0.85"/>
<path d="M442 1281L445 1281L445 1283.4L449.5 1283.4L449.5 1281L452.5 1281L452.5 1289.5L449.5 1289.5L449.5 1287.1L445 1287.1L445 1289.5L442 1289.5Z" stroke-width="1.3" stroke="#1e1e1e"/>
<rect x="497.4" y="1269.2" width="5" height="8.4" stroke-width="0.5" fill="url(#pilev)" stroke="#222"/>
<rect x="494.8" y="1276.6" width="10.2" height="2.2" stroke-width="0.5" fill="#333"/>
<path d="M508.3 1276V1356.2Q508.3 1358.2 506.3 1358.2H371.3Q369.3 1358.2 369.3 1356.2V1352" stroke-width="0.85"/>
<path d="M370.5 1290.6L508.3 1290.6" stroke-width="0.85"/>
<path d="M369.3 1291.6L369.3 1294.5" stroke-width="0.85"/>
<path d="M508.3 1276H494" stroke-width="0.85"/>
<path d="M505.4 1279.5V1354.3H430.6V1294H498.5" stroke-width="0.85"/>
<path d="M458 1276H470V1279.5H505.4" stroke-width="0.85"/>
<path d="M461 1281.5H466V1286.5H500V1283.5H503" stroke-width="0.85"/>
<path d="M452.5 1289.5H497.5V1292" stroke-width="0.85"/>
<rect x="465.5" y="1277" width="27" height="8.8" stroke-width="0.9"/>
<rect x="466.7" y="1278.2" width="2.8" height="6.4" stroke-width="0.5" fill="#aaa"/>
<rect x="488.5" y="1278.2" width="2.8" height="6.4" stroke-width="0.5" fill="#aaa"/>
<path d="M474 1285.4H484.6Q484.07 1280.8 479.3 1280.6Q474.53 1280.8 474 1285.4Z" stroke-width="0.9" fill="#fff"/>
<path d="M477.8 1285.4L477.8 1306L479.3 1310L480.8 1306L480.8 1285.4Z" stroke-width="0.4" fill="#3a3a3a" stroke="#1e1e1e"/>
<path d="M475.4 1287.5L483.2 1285.9" stroke-width="0.95" stroke="#1e1e1e"/>
<path d="M475.4 1289.8L483.2 1288.2" stroke-width="0.95" stroke="#1e1e1e"/>
<path d="M475.4 1292.1L483.2 1290.5" stroke-width="0.95" stroke="#1e1e1e"/>
<path d="M475.4 1294.4L483.2 1292.8" stroke-width="0.95" stroke="#1e1e1e"/>
<path d="M475.4 1296.7L483.2 1295.1" stroke-width="0.95" stroke="#1e1e1e"/>
<path d="M475.4 1299L483.2 1297.4" stroke-width="0.95" stroke="#1e1e1e"/>
<path d="M475.4 1301.3L483.2 1299.7" stroke-width="0.95" stroke="#1e1e1e"/>
<path d="M475.4 1303.6L483.2 1302" stroke-width="0.95" stroke="#1e1e1e"/>
<path d="M476.5 1305.9L482.1 1304.3" stroke-width="0.95" stroke="#1e1e1e"/>
<path d="M479.3 1278.4L479.3 1316" stroke-width="0.5"/>
<path d="M463.2 1294V1296.2H466V1298.2H460.8V1294" stroke-width="0.8"/>
<path d="M485.8 1294V1296.2H483.7V1298.2H490.3V1296.2H488.2V1294" stroke-width="0.8"/>
<path d="M498.5 1294V1298.5H503V1296" stroke-width="0.8"/>
<path d="M463.2 1354.3V1352.1H466V1350.1H460.8V1354.3" stroke-width="0.8"/>
<path d="M485.8 1354.3V1352.1H483.7V1350.1H490.3V1352.1H488.2V1354.3" stroke-width="0.8"/>
<path d="M498.5 1354.3V1349.5H503V1352" stroke-width="0.8"/>
<rect x="407.6" y="1294" width="21.1" height="38.3" stroke-width="0.85" rx="0.8"/>
<path d="M405.8 1290.6L405.8 1358.2" stroke-width="0.85"/>
<path d="M407.6 1335L407.6 1337L409.98 1339.4L409.98 1349.9L407.6 1352.3L407.6 1354.3L414.4 1354.3L414.4 1352.3L412.02 1349.9L412.02 1339.4L414.4 1337L414.4 1335Z" stroke-width="0.9"/>
<path d="M429.9 1335L429.9 1337L429.5 1339.4L429.5 1342.45L427.1 1344.65L429.5 1346.85L429.5 1349.9L429.9 1352.3L429.9 1354.3L421.1 1354.3L421.1 1352.3L427.2 1349.9L427.2 1348.05L424 1344.65L427.2 1341.25L427.2 1339.4L421.1 1337L421.1 1335Z" stroke-width="0.9"/>
<path d="M415.5 1339.5L417 1338L418.5 1340L420.5 1338.5M415.5 1350L417 1351.5L418.5 1349.5L420.5 1351" stroke-width="0.7"/>
<path d="M369.3 1355L430.6 1355" stroke-width="0.85"/>
<rect x="391.8" y="1309.3" width="12.5" height="44.7" stroke-width="0.9"/>
<path d="M391.8 1309.3L404.3 1354" stroke-width="0.6"/>
<path d="M391.8 1354L404.3 1309.3" stroke-width="0.6"/>
<rect x="353.3" y="1304.4" width="38.5" height="3" stroke-width="0.01" fill="#878787" stroke="none"/>
<path d="M353.3 1304.4L391.8 1304.4" stroke-width="0.45" stroke="#444"/>
<path d="M353.3 1307.4L391.8 1307.4" stroke-width="0.45" stroke="#444"/>
<rect x="353.3" y="1312.6" width="38.5" height="2.7" stroke-width="0.01" fill="#878787" stroke="none"/>
<path d="M353.3 1312.6L391.8 1312.6" stroke-width="0.45" stroke="#444"/>
<path d="M353.3 1315.3L391.8 1315.3" stroke-width="0.45" stroke="#444"/>
<rect x="353.3" y="1333.6" width="38.5" height="2.7" stroke-width="0.01" fill="#878787" stroke="none"/>
<path d="M353.3 1333.6L391.8 1333.6" stroke-width="0.45" stroke="#444"/>
<path d="M353.3 1336.3L391.8 1336.3" stroke-width="0.45" stroke="#444"/>
<rect x="353.3" y="1340.8" width="38.5" height="3" stroke-width="0.01" fill="#878787" stroke="none"/>
<path d="M353.3 1340.8L391.8 1340.8" stroke-width="0.45" stroke="#444"/>
<path d="M353.3 1343.8L391.8 1343.8" stroke-width="0.45" stroke="#444"/>
<path d="M391.8 1304.4L391.8 1315.3" stroke-width="0.9"/>
<path d="M391.8 1333.6L391.8 1343.8" stroke-width="0.9"/>
<rect x="382.3" y="1315.4" width="7.8" height="18.2" stroke-width="0.6" fill="url(#dots)"/>
<path d="M373 1316.4H376.4Q381.6 1316.8 381.6 1324.5Q381.6 1332.2 376.4 1332.6H373Z" stroke-width="1.4" stroke="#1e1e1e"/>
<path d="M390.3 1315.3L390.3 1333.7" stroke-width="0.8"/>
<path d="M404.5 1292.5H399.5L401 1295L399 1305.5V1308.5H404.5" stroke-width="0.8"/>
<path d="M399 1293L392 1291.5" stroke-width="0.8"/>
<path d="M363.5 1304.4L368.2 1296L371 1297.3L373.7 1293.5L378.2 1295.7L376.7 1298L381.7 1299.5L384.5 1302.3L380.2 1304.4L377.7 1302L375.2 1304.4L372.2 1302L369.7 1304.4L367.2 1302.5L365.7 1304.4Z" stroke-width="0.8"/>
<path d="M363 1343.8L382.8 1343.8L382.8 1349.6L380.3 1349.6L380.3 1346.4L377.8 1346.4L377.8 1349.4L375.3 1349.4L375.3 1346.4L372.8 1346.4L372.8 1349.4L370.3 1349.4L370.3 1346.4L367.8 1346.4L372 1351.9L372 1355.4" stroke-width="0.8"/>
<circle cx="375.8" cy="1352.8" r="2.4" stroke-width="0.8"/>
<circle cx="375.8" cy="1352.8" r="1" stroke-width="0.6"/>
<path d="M371.25 1431V1366.4Q371.25 1364.4 373.25 1364.4H397.5" stroke-width="0.85"/>
<path d="M374.4 1431.2V1368.5Q374.4 1367.4 375.5 1367.4H380V1370.5H395V1375H445V1431.2Z" stroke-width="0.85"/>
<path d="M374.4 1378L445 1378" stroke-width="0.85"/>
<path d="M376 1378V1382.2H383V1380H379.5" stroke-width="0.8"/>
<path d="M390.3 1378V1380.2H388.2V1382.2H394.8V1380.2H392.7V1378" stroke-width="0.8"/>
<path d="M426.8 1378V1380.2H424V1382.2H429.2V1378" stroke-width="0.8"/>
<path d="M376 1431.2V1425.5Q378 1423.8 382 1425V1427.5H378.5V1429.3H383" stroke-width="0.8"/>
<path d="M390.3 1431.2V1429H388.2V1427H394.8V1429H392.7V1431.2" stroke-width="0.8"/>
<path d="M415.8 1431.2V1429H413V1427H418.2V1431.2" stroke-width="0.8"/>
<rect x="385.6" y="1357.6" width="6.3" height="8.4" stroke-width="0.5" fill="url(#pilev)" stroke="#222"/>
<rect x="383" y="1365" width="11.5" height="2.2" stroke-width="0.5" fill="#333"/>
<rect x="397.5" y="1365" width="26.3" height="9.4" stroke-width="0.9"/>
<rect x="398.7" y="1366.2" width="2.8" height="7" stroke-width="0.5" fill="#aaa"/>
<rect x="419.8" y="1366.2" width="2.8" height="7" stroke-width="0.5" fill="#aaa"/>
<path d="M404.7 1373H415.3Q414.77 1368.4 410 1368.2Q405.23 1368.4 404.7 1373Z" stroke-width="0.9" fill="#fff"/>
<path d="M408.5 1373L408.5 1387L410 1391L411.5 1387L411.5 1373Z" stroke-width="0.4" fill="#3a3a3a" stroke="#1e1e1e"/>
<path d="M406.1 1375.1L413.9 1373.5" stroke-width="0.95" stroke="#1e1e1e"/>
<path d="M406.1 1377.4L413.9 1375.8" stroke-width="0.95" stroke="#1e1e1e"/>
<path d="M406.1 1379.7L413.9 1378.1" stroke-width="0.95" stroke="#1e1e1e"/>
<path d="M406.1 1382L413.9 1380.4" stroke-width="0.95" stroke="#1e1e1e"/>
<path d="M406.1 1384.3L413.9 1382.7" stroke-width="0.95" stroke="#1e1e1e"/>
<path d="M407.2 1386.6L412.8 1385" stroke-width="0.95" stroke="#1e1e1e"/>
<path d="M410 1366L410 1397" stroke-width="0.5"/>
<path d="M423.8 1368H427Q428.5 1364 431.5 1360.5" stroke-width="0.85"/>
<path d="M423.8 1375H445" stroke-width="0.85"/>
<path d="M428.5 1358.5V1367Q428.8 1371.9 434 1371.9H470Q475.6 1371.9 475.6 1366.5V1358.5" stroke-width="0.85"/>
<path d="M431 1362V1366Q431.5 1369.5 435 1369.5H469Q473.2 1369.5 473.2 1365.5V1358.5" stroke-width="0.85"/>
<path d="M434.4 1361.3L437.4 1361.3L437.4 1363.7L437 1363.7L437 1361.3L440 1361.3L440 1369.4L437 1369.4L437 1367L437.4 1367L437.4 1369.4L434.4 1369.4Z" stroke-width="1.3" stroke="#1e1e1e"/>
<rect x="440" y="1358.8" width="21.9" height="10.6" stroke-width="0.9"/>
<rect x="441.2" y="1360" width="2.8" height="8.2" stroke-width="0.5" fill="#aaa"/>
<rect x="457.9" y="1360" width="2.8" height="8.2" stroke-width="0.5" fill="#aaa"/>
<path d="M446 1364.6H456.6Q456.07 1369.2 451.3 1369.4Q446.53 1369.2 446 1364.6Z" stroke-width="0.9" fill="#fff"/>
<path d="M449.8 1364.6L449.8 1349.6L451.3 1345.6L452.8 1349.6L452.8 1364.6Z" stroke-width="0.4" fill="#3a3a3a" stroke="#1e1e1e"/>
<path d="M447.4 1362.5L455.2 1364.1" stroke-width="0.95" stroke="#1e1e1e"/>
<path d="M447.4 1360.2L455.2 1361.8" stroke-width="0.95" stroke="#1e1e1e"/>
<path d="M447.4 1357.9L455.2 1359.5" stroke-width="0.95" stroke="#1e1e1e"/>
<path d="M447.4 1355.6L455.2 1357.2" stroke-width="0.95" stroke="#1e1e1e"/>
<path d="M447.4 1353.3L455.2 1354.9" stroke-width="0.95" stroke="#1e1e1e"/>
<path d="M448.5 1351L454.1 1352.6" stroke-width="0.95" stroke="#1e1e1e"/>
<path d="M448.5 1348.7L454.1 1350.3" stroke-width="0.95" stroke="#1e1e1e"/>
<path d="M451.3 1371.6L451.3 1339.6" stroke-width="0.5"/>
<rect x="445" y="1369.4" width="12.5" height="10" stroke-width="0.5" fill="url(#pilev)" stroke="#333"/>
<rect x="447.5" y="1378" width="20" height="53.2" stroke-width="0.85"/>
<path d="M445 1375L500 1375" stroke-width="0.85"/>
<path d="M470 1375L500 1375" stroke-width="0.85"/>
<path d="M470 1431.2V1378H498.5Q503 1378 503 1382.5V1413" stroke-width="0.85"/>
<path d="M500 1375Q505.6 1375.6 505.6 1381V1431Q505.6 1433.1 503.5 1433.1H470" stroke-width="0.85"/>
<path d="M472 1378V1382H478V1380" stroke-width="0.8"/>
<rect x="470.6" y="1415.6" width="32.5" height="15.6" stroke-width="0.85"/>
<path d="M503 1390.6H487Q481 1391 476 1395Q471.3 1398.5 471.3 1402.5Q471.8 1405.5 474.5 1405Q476.5 1404.3 476 1402" stroke-width="0.85"/>
<path d="M503 1393H487.5Q482 1393.3 478 1396.5Q474 1399.5 473.6 1402" stroke-width="0.85"/>
<path d="M479.7 1411.3H490.3Q489.77 1406.7 485 1406.5Q480.23 1406.7 479.7 1411.3Z" stroke-width="0.9" fill="#fff"/>
<path d="M483.5 1411.3L483.5 1422.5L485 1426.5L486.5 1422.5L486.5 1411.3Z" stroke-width="0.4" fill="#3a3a3a" stroke="#1e1e1e"/>
<path d="M481.1 1413.4L488.9 1411.8" stroke-width="0.95" stroke="#1e1e1e"/>
<path d="M481.1 1415.7L488.9 1414.1" stroke-width="0.95" stroke="#1e1e1e"/>
<path d="M481.1 1418L488.9 1416.4" stroke-width="0.95" stroke="#1e1e1e"/>
<path d="M481.1 1420.3L488.9 1418.7" stroke-width="0.95" stroke="#1e1e1e"/>
<path d="M482.2 1422.6L487.8 1421" stroke-width="0.95" stroke="#1e1e1e"/>
<path d="M485 1404.3L485 1432.5" stroke-width="0.5"/>
<path d="M495 1413L497 1405.5Q500 1402.5 504 1404L507.5 1413Z" stroke-width="0.9"/>
<path d="M498.5 1410H505" stroke-width="0.7"/>
<path d="M470 1413.1L529.7 1413.1" stroke-width="1.3" stroke="#444"/>
<path d="M470 1433.1H373Q371.25 1433.1 371.25 1431" stroke-width="0.85"/>
<path d="M529.7 1390.6L529.7 1434.5" stroke-width="0.85"/>
<path d="M546.3 1390.6L546.3 1434.5" stroke-width="0.85"/>
<path d="M532.2 1205.9L532.2 1262.8" stroke-width="0.85"/>
</g>
<g transform="translate(183.1 361.05)">
<path d="M399.4 840.2L532.7 840.2" stroke-width="0.85"/>
<path d="M399.4 908.5L532.7 908.5" stroke-width="0.85"/>
<path d="M399.4 840.2L399.4 843.2" stroke-width="0.85"/>
<path d="M399.4 902L399.4 908.5" stroke-width="0.85"/>
<rect x="374.4" y="853.9" width="47.1" height="3" stroke-width="0.01" fill="#878787" stroke="none"/>
<path d="M374.4 853.9L421.5 853.9" stroke-width="0.45" stroke="#444"/>
<path d="M374.4 856.9L421.5 856.9" stroke-width="0.45" stroke="#444"/>
<rect x="374.4" y="862.1" width="47.1" height="2.7" stroke-width="0.01" fill="#878787" stroke="none"/>
<path d="M374.4 862.1L421.5 862.1" stroke-width="0.45" stroke="#444"/>
<path d="M374.4 864.8L421.5 864.8" stroke-width="0.45" stroke="#444"/>
<rect x="374.4" y="883.1" width="47.1" height="2.7" stroke-width="0.01" fill="#878787" stroke="none"/>
<path d="M374.4 883.1L421.5 883.1" stroke-width="0.45" stroke="#444"/>
<path d="M374.4 885.8L421.5 885.8" stroke-width="0.45" stroke="#444"/>
<rect x="374.4" y="890.3" width="47.1" height="3" stroke-width="0.01" fill="#878787" stroke="none"/>
<path d="M374.4 890.3L421.5 890.3" stroke-width="0.45" stroke="#444"/>
<path d="M374.4 893.3L421.5 893.3" stroke-width="0.45" stroke="#444"/>
<path d="M421.5 853.9L421.5 864.8" stroke-width="0.9"/>
<path d="M421.5 883.1L421.5 893.3" stroke-width="0.9"/>
<rect x="411.8" y="864.9" width="7.8" height="18.1" stroke-width="0.6" fill="url(#dots)"/>
<path d="M402.6 865.8H406Q411.2 866.2 411.2 874Q411.2 881.8 406 882.2H402.6Z" stroke-width="1.4" stroke="#1e1e1e"/>
<path d="M419.8 864.8L419.8 883.1" stroke-width="0.8"/>
<rect x="421.7" y="859.2" width="12.2" height="44.2" stroke-width="0.9"/>
<path d="M421.7 859.2L433.9 903.4" stroke-width="0.6"/>
<path d="M421.7 903.4L433.9 859.2" stroke-width="0.6"/>
<path d="M401 841.9L430 841.9" stroke-width="0.7"/>
<path d="M423 842L429.5 851.5V857.5H433.5V843.5" stroke-width="0.8"/>
<path d="M431.5 843.5V852" stroke-width="0.7"/>
<path d="M392.3 853.9L397 845.5L399.8 846.8L402.5 843L407 845.2L405.5 847.5L410.5 849L413.3 851.8L409 853.9L406.5 851.5L404 853.9L401 851.5L398.5 853.9L396 852L394.5 853.9Z" stroke-width="0.8"/>
<path d="M421.5 858.9L433.9 858.9" stroke-width="0.8"/>
<path d="M391.5 893.4H411.3V899.2H408.8V896H406.3V899H403.8V896H401.3V899H398.8V896H396.3L400.5 901.5V905" stroke-width="0.8"/>
<circle cx="404.3" cy="902.4" r="2.4" stroke-width="0.8"/>
<circle cx="404.3" cy="902.4" r="1" stroke-width="0.6"/>
<path d="M400.5 905H410V902.5H412.5V905.3" stroke-width="0.8"/>
<path d="M399.4 905.3L460 905.3" stroke-width="0.85"/>
<path d="M434.3 843.5L434.3 905.3" stroke-width="0.85"/>
<path d="M437.3 844.1L437.3 881.3" stroke-width="0.85"/>
<path d="M437.3 844.1L451.5 844.1" stroke-width="0.85"/>
<path d="M437.3 881.3L461 881.3" stroke-width="0.85"/>
<path d="M437.3 884L437.3 886L439.75 888.4L439.75 899.6L437.3 902L437.3 904L444.3 904L444.3 902L441.85 899.6L441.85 888.4L444.3 886L444.3 884Z" stroke-width="0.9"/>
<path d="M458.1 884L458.1 886L457.7 888.4L457.7 891.8L455.3 894L457.7 896.2L457.7 899.6L458.1 902L458.1 904L450.5 904L450.5 902L455.4 899.6L455.4 897.4L452.2 894L455.4 890.6L455.4 888.4L450.5 886L450.5 884Z" stroke-width="0.9"/>
<path d="M444.8 888.5L446.3 887L447.8 889L449.3 887L450.4 888.5M444.8 899.5L446.3 901L447.8 899L449.3 901L450.4 899.5" stroke-width="0.7"/>
<path d="M458.4 883L458.4 905" stroke-width="0.85"/>
<rect x="446.6" y="869" width="14.4" height="11.6" stroke-width="0.8"/>
<path d="M438 874.9L443 872.6L446 872.6L446 877.2L443 877.2Z" stroke-width="0.7" fill="#aaa"/>
<path d="M447.5 870.6L448.6 879.2" stroke-width="0.9" stroke="#1e1e1e"/>
<path d="M449.7 870.6L450.8 879.2" stroke-width="0.9" stroke="#1e1e1e"/>
<path d="M451.9 870.6L453 879.2" stroke-width="0.9" stroke="#1e1e1e"/>
<path d="M454.1 870.6L455.2 879.2" stroke-width="0.9" stroke="#1e1e1e"/>
<path d="M456.3 870.6L457.4 879.2" stroke-width="0.9" stroke="#1e1e1e"/>
<path d="M458.5 870.6L459.6 879.2" stroke-width="0.9" stroke="#1e1e1e"/>
<path d="M434 874.9L470 874.9" stroke-width="0.5"/>
<path d="M462.5 869.9L467.5 874.9L462.5 879.9Z" stroke-width="0.8" fill="#999"/>
<rect x="446.1" y="835" width="49" height="4.8" stroke-width="1.4" fill="#ddd" rx="1.6" stroke="#1e1e1e"/>
<path d="M448 837.4L493 837.4" stroke-width="1" stroke="#555"/>
<path d="M451.4 839.8V852Q451.4 853.6 453.2 854.5V863Q453.2 864.7 455 864.7H485.8Q487.7 864.7 487.7 863V854.5Q489.9 853.6 489.9 852V839.8" stroke-width="1.5" stroke="#1e1e1e"/>
<path d="M451.4 853.4L489.9 853.4" stroke-width="1.2" stroke="#1e1e1e"/>
<rect x="453.2" y="853.4" width="34.5" height="5.1" stroke-width="0.8" fill="#999" stroke="#1e1e1e"/>
<path d="M463 843L463 853.4" stroke-width="1.3" stroke="#1e1e1e"/>
<path d="M467.5 843L467.5 853.4" stroke-width="1.3" stroke="#1e1e1e"/>
<path d="M472.5 843L472.5 853.4" stroke-width="1.3" stroke="#1e1e1e"/>
<path d="M477 843L477 853.4" stroke-width="1.3" stroke="#1e1e1e"/>
<rect x="464" y="845" width="2.5" height="6.5" stroke-width="0.5" fill="#bbb"/>
<rect x="473.5" y="845" width="2.5" height="6.5" stroke-width="0.5" fill="#bbb"/>
<path d="M458.5 843L481.5 843" stroke-width="1" stroke="#1e1e1e"/>
<path d="M458.5 839.8L458.5 853.4" stroke-width="1" stroke="#1e1e1e"/>
<path d="M481.5 839.8L481.5 853.4" stroke-width="1" stroke="#1e1e1e"/>
<path d="M455 861.2L486 861.2" stroke-width="0.9" stroke="#1e1e1e"/>
<rect x="462.7" y="855.1" width="28.9" height="31.5" stroke-width="0.9"/>
<path d="M475 855.1L475 889.2" stroke-width="0.9"/>
<path d="M466.5 860L466.5 889.2" stroke-width="0.8"/>
<path d="M487.7 863L475 872.6" stroke-width="0.9"/>
<path d="M462.7 868.5L475 868.5" stroke-width="0.8"/>
<path d="M462.7 880.5L491.6 880.5" stroke-width="0.8"/>
<rect x="461.4" y="889.2" width="28.5" height="1.8" stroke-width="0.5" fill="#999" stroke="#666"/>
<rect x="460.1" y="891" width="30.6" height="14.9" stroke-width="0.9"/>
<rect x="460.8" y="897" width="4.2" height="6.5" stroke-width="0.7"/>
<rect x="485.8" y="897" width="4.2" height="6.5" stroke-width="0.7"/>
<path d="M465 903.5L485.8 903.5" stroke-width="0.7"/>
<rect x="456.2" y="908.5" width="38" height="3.1" stroke-width="1.2" fill="#ddd" rx="1.2" stroke="#1e1e1e"/>
<path d="M492.9 844.2L516.1 844.2" stroke-width="0.85"/>
<path d="M492.9 844.2V848H494.2V855.1H500.4V892.7H494.2V901H492.9V905.4H516.1" stroke-width="0.85"/>
<path d="M516.1 844.2Q517.5 844.2 517.5 845.7Q517.5 847.2 516.1 847.2H513.8" stroke-width="0.85"/>
<path d="M516.1 905.4Q517.5 905.4 517.5 903.9Q517.5 902.4 516.1 902.4H513.8" stroke-width="0.85"/>
<path d="M490.7 905.4L492.9 905.4" stroke-width="0.85"/>
<path d="M532.7 840.2V848.1H529.2" stroke-width="0.85"/>
<path d="M532.7 908.5V900.6H529.2" stroke-width="0.85"/>
<rect x="520.5" y="844.3" width="8.3" height="9.5" stroke-width="0.5" fill="url(#pilev)" stroke="#222"/>
<rect x="519.2" y="843.2" width="10.9" height="2" stroke-width="0.5" fill="#333"/>
<rect x="520.5" y="895.4" width="8.3" height="9.2" stroke-width="0.5" fill="url(#pilev)" stroke="#222"/>
<rect x="519.2" y="903.6" width="10.9" height="2" stroke-width="0.5" fill="#333"/>
<path d="M500.4 858.6H493.4V890.6H500.4" stroke-width="1.5" stroke="#1e1e1e"/>
<path d="M496 861V888" stroke-width="0.8"/>
<rect x="500.4" y="862.6" width="7" height="23.6" stroke-width="0.9"/>
<rect x="507.4" y="866.5" width="2.6" height="16.2" stroke-width="0.9"/>
<path d="M496.5 866L500.4 866" stroke-width="0.8"/>
<path d="M496.5 870L500.4 870" stroke-width="0.8"/>
<path d="M496.5 874L500.4 874" stroke-width="0.8"/>
<path d="M496.5 878L500.4 878" stroke-width="0.8"/>
<path d="M496.5 882L500.4 882" stroke-width="0.8"/>
<path d="M510 869.1L517 869.1" stroke-width="0.8"/>
<path d="M510 879.2L517 879.2" stroke-width="0.8"/>
<path d="M536.8 853.4H516.1V857.5" stroke-width="0.85"/>
<path d="M536.8 895.4H516.1V891.3" stroke-width="0.85"/>
<path d="M519.5 856.3L536.8 856.3" stroke-width="0.85"/>
<path d="M519.5 892.5L536.8 892.5" stroke-width="0.85"/>
<path d="M517 857.5Q515.8 874.4 517 891.3" stroke-width="1.6" stroke="#1e1e1e"/>
<path d="M519.5 856.3V862.5H522.5V866H526.2M519.5 892.5V886.3H522.5V882.7H526.2" stroke-width="0.8"/>
<rect x="526.2" y="866" width="5.7" height="16.7" stroke-width="0.9"/>
<rect x="528" y="868.5" width="2.3" height="11.7" stroke-width="0.7"/>
<path d="M522.5 862.5H534.5V886.3H522.5" stroke-width="0.8"/>
<path d="M517 869.1L526.2 869.1" stroke-width="0.8"/>
<path d="M517 879.2L526.2 879.2" stroke-width="0.8"/>
<path d="M534.5 856.3L534.5 892.5" stroke-width="0.7"/>
<path d="M536.8 840.2L536.8 853.4" stroke-width="0.85"/>
<path d="M536.8 895.4L536.8 908.3" stroke-width="0.85"/>
<path d="M539.5 840.2L539.5 908.3" stroke-width="0.85"/>
</g>
<path d="M557.5 1205.8L557.5 1262.5" stroke-width="0.85"/>
<path d="M720 1201.4L855 1201.4" stroke-width="0.85"/>
<path d="M720 1269.4L856.5 1269.4" stroke-width="0.85"/>
<path d="M855 1201.4L857.3 1203.5" stroke-width="0.85"/>
<path d="M722.8 1204.8L752.2 1204.8" stroke-width="0.85"/>
<path d="M754.6 1204.8L760 1204.8" stroke-width="0.85"/>
<path d="M722.8 1266.2L764.5 1266.2" stroke-width="0.85"/>
<path d="M724.2 1204.8V1208.5H728.5V1206.8" stroke-width="0.8"/>
<path d="M724.2 1266.2V1262.5H728.5V1264.2" stroke-width="0.8"/>
<path d="M735.8 1204.8V1207H733.7V1209H740.3V1207H738.2V1204.8" stroke-width="0.8"/>
<path d="M735.8 1266.2V1264H733.7V1262H740.3V1264H738.2V1266.2" stroke-width="0.8"/>
<path d="M759.8 1204.8V1207H757V1209H762.2V1204.8" stroke-width="0.8"/>
<path d="M759.8 1266.2V1264H757V1262H762.2V1266.2" stroke-width="0.8"/>
<path d="M727.5 1209.5L731.5 1211.5L730.5 1213L726.5 1211" stroke-width="0.8"/>
<path d="M727.5 1261.5L731.5 1259.5L730.5 1258L726.5 1260" stroke-width="0.8"/>
<path d="M722.8 1222.5H744.2V1248.3H722.8" stroke-width="0.85"/>
<path d="M722.8 1224.5H742.2V1246.3H722.8" stroke-width="0.7"/>
<path d="M724.6 1225.3L724.6 1227.3L727.12 1229.7L727.12 1241.2L724.6 1243.6L724.6 1245.6L731.8 1245.6L731.8 1243.6L729.28 1241.2L729.28 1229.7L731.8 1227.3L731.8 1225.3Z" stroke-width="0.9"/>
<path d="M734.4 1225.3L734.4 1227.3L736.92 1229.7L736.92 1241.2L734.4 1243.6L734.4 1245.6L741.6 1245.6L741.6 1243.6L739.08 1241.2L739.08 1229.7L741.6 1227.3L741.6 1225.3Z" stroke-width="0.9"/>
<path d="M719.8 1229.9Q713.5 1235.4 719.8 1240.9Z" stroke-width="0.8" fill="#fff"/>
<path d="M720 1233.5L765 1233.5L770 1235.4L765 1237.3L720 1237.3Z" stroke-width="0.4" fill="#2a2a2a" stroke="#1e1e1e"/>
<path d="M720.8 1231.9L722.2 1238.9" stroke-width="1.15" stroke="#1e1e1e"/>
<path d="M723.05 1231.9L724.45 1238.9" stroke-width="1.15" stroke="#1e1e1e"/>
<path d="M725.3 1231.9L726.7 1238.9" stroke-width="1.15" stroke="#1e1e1e"/>
<path d="M727.55 1231.9L728.95 1238.9" stroke-width="1.15" stroke="#1e1e1e"/>
<path d="M729.8 1231.9L731.2 1238.9" stroke-width="1.15" stroke="#1e1e1e"/>
<path d="M732.05 1231.9L733.45 1238.9" stroke-width="1.15" stroke="#1e1e1e"/>
<path d="M734.3 1231.9L735.7 1238.9" stroke-width="1.15" stroke="#1e1e1e"/>
<path d="M736.55 1231.9L737.95 1238.9" stroke-width="1.15" stroke="#1e1e1e"/>
<path d="M738.8 1231.9L740.2 1238.9" stroke-width="1.15" stroke="#1e1e1e"/>
<path d="M741.05 1231.9L742.45 1238.9" stroke-width="1.15" stroke="#1e1e1e"/>
<path d="M743.3 1231.9L744.7 1238.9" stroke-width="1.15" stroke="#1e1e1e"/>
<path d="M745.55 1231.9L746.95 1238.9" stroke-width="1.15" stroke="#1e1e1e"/>
<path d="M747.8 1231.9L749.2 1238.9" stroke-width="1.15" stroke="#1e1e1e"/>
<path d="M750.05 1231.9L751.45 1238.9" stroke-width="1.15" stroke="#1e1e1e"/>
<path d="M752.3 1231.9L753.7 1238.9" stroke-width="1.15" stroke="#1e1e1e"/>
<path d="M754.55 1231.9L755.95 1238.9" stroke-width="1.15" stroke="#1e1e1e"/>
<path d="M756.8 1231.9L758.2 1238.9" stroke-width="1.15" stroke="#1e1e1e"/>
<path d="M759.05 1231.9L760.45 1238.9" stroke-width="1.15" stroke="#1e1e1e"/>
<path d="M761.3 1232.9L762.7 1237.9" stroke-width="1.15" stroke="#1e1e1e"/>
<path d="M763.55 1232.9L764.95 1237.9" stroke-width="1.15" stroke="#1e1e1e"/>
<path d="M770 1235.4H786" stroke-width="0.5" stroke-dasharray="6 2 1.5 2"/>
<path d="M755 1205V1214H752.3V1254H794V1214H760" stroke-width="0.85"/>
<rect x="755" y="1217" width="37" height="34" stroke-width="0.85"/>
<path d="M791.5 1227.4Q784.5 1235.4 791.5 1243.4Z" stroke-width="0.8" fill="#fff"/>
<path d="M791.5 1233.5L812 1233.5L816.5 1235.4L812 1237.3L791.5 1237.3Z" stroke-width="0.4" fill="#555" stroke="#1e1e1e"/>
<path d="M792.7 1231.7L794.3 1239.1" stroke-width="1" stroke="#1e1e1e"/>
<path d="M795.1 1231.7L796.7 1239.1" stroke-width="1" stroke="#1e1e1e"/>
<path d="M797.5 1231.7L799.1 1239.1" stroke-width="1" stroke="#1e1e1e"/>
<path d="M799.9 1231.7L801.5 1239.1" stroke-width="1" stroke="#1e1e1e"/>
<path d="M802.3 1231.7L803.9 1239.1" stroke-width="1" stroke="#1e1e1e"/>
<path d="M804.7 1231.7L806.3 1239.1" stroke-width="1" stroke="#1e1e1e"/>
<path d="M807.1 1231.7L808.7 1239.1" stroke-width="1" stroke="#1e1e1e"/>
<path d="M809.5 1231.7L811.1 1239.1" stroke-width="1" stroke="#1e1e1e"/>
<path d="M786 1235.4L822 1235.4" stroke-width="0.5"/>
<g transform="translate(314.1 361.5)">
<rect x="446.1" y="835" width="49" height="4.8" stroke-width="1.4" fill="#ddd" rx="1.6" stroke="#1e1e1e"/>
<path d="M448 837.4L493 837.4" stroke-width="1" stroke="#555"/>
<path d="M451.4 839.8V852Q451.4 853.6 453.2 854.5V863Q453.2 864.7 455 864.7H485.8Q487.7 864.7 487.7 863V854.5Q489.9 853.6 489.9 852V839.8" stroke-width="1.5" stroke="#1e1e1e"/>
<path d="M451.4 853.4L489.9 853.4" stroke-width="1.2" stroke="#1e1e1e"/>
<rect x="453.2" y="853.4" width="34.5" height="5.1" stroke-width="0.8" fill="#999" stroke="#1e1e1e"/>
<path d="M463 843L463 853.4" stroke-width="1.3" stroke="#1e1e1e"/>
<path d="M467.5 843L467.5 853.4" stroke-width="1.3" stroke="#1e1e1e"/>
<path d="M472.5 843L472.5 853.4" stroke-width="1.3" stroke="#1e1e1e"/>
<path d="M477 843L477 853.4" stroke-width="1.3" stroke="#1e1e1e"/>
<rect x="464" y="845" width="2.5" height="6.5" stroke-width="0.5" fill="#bbb"/>
<rect x="473.5" y="845" width="2.5" height="6.5" stroke-width="0.5" fill="#bbb"/>
<path d="M458.5 843L481.5 843" stroke-width="1" stroke="#1e1e1e"/>
<path d="M458.5 839.8L458.5 853.4" stroke-width="1" stroke="#1e1e1e"/>
<path d="M481.5 839.8L481.5 853.4" stroke-width="1" stroke="#1e1e1e"/>
<path d="M455 861.2L486 861.2" stroke-width="0.9" stroke="#1e1e1e"/>
</g>
<path d="M767 1224.8L802 1224.8" stroke-width="0.9" stroke="#1e1e1e"/>
<rect x="764.5" y="1254" width="30" height="13" stroke-width="0.9"/>
<rect x="765.5" y="1259.5" width="4" height="6.5" stroke-width="0.7"/>
<rect x="789.5" y="1259.5" width="4" height="6.5" stroke-width="0.7"/>
<path d="M769.5 1266L789.5 1266" stroke-width="0.7"/>
<rect x="760" y="1269.5" width="39.5" height="3.1" stroke-width="1.2" fill="#ddd" rx="1.2" stroke="#1e1e1e"/>
<g transform="translate(347.2 0.2)">
<path d="M447.4 1201.3L447.4 1266.7" stroke-width="0.85"/>
<rect x="449.3" y="1205" width="20.4" height="37.3" stroke-width="0.85" rx="0.8"/>
<path d="M447.4 1266.7L508 1266.7" stroke-width="0.85"/>
<path d="M448.1 1245.7L448.1 1247.7L448.5 1250.1L448.5 1253L450.9 1255.2L448.5 1257.4L448.5 1260.3L448.1 1262.7L448.1 1264.7L456.9 1264.7L456.9 1262.7L450.8 1260.3L450.8 1258.6L454 1255.2L450.8 1251.8L450.8 1250.1L456.9 1247.7L456.9 1245.7Z" stroke-width="0.9"/>
<path d="M463.6 1245.7L463.6 1247.7L465.98 1250.1L465.98 1260.3L463.6 1262.7L463.6 1264.7L470.4 1264.7L470.4 1262.7L468.02 1260.3L468.02 1250.1L470.4 1247.7L470.4 1245.7Z" stroke-width="0.9"/>
<path d="M457.5 1250L459.5 1248.5L461 1250.5L462.5 1248.5M457.5 1260.5L459.5 1262L461 1260L462.5 1262" stroke-width="0.7"/>
<path d="M471.2 1201.3L471.2 1266.7" stroke-width="0.85"/>
<path d="M472.8 1219.5L472.8 1266.7" stroke-width="0.7"/>
<rect x="473.4" y="1220.7" width="12.3" height="44" stroke-width="0.9"/>
<path d="M473.4 1220.7L485.7 1264.7" stroke-width="0.6"/>
<path d="M473.4 1264.7L485.7 1220.7" stroke-width="0.6"/>
<rect x="485.7" y="1215.6" width="52.9" height="3" stroke-width="0.01" fill="#878787" stroke="none"/>
<path d="M538.6 1215.6L485.7 1215.6" stroke-width="0.45" stroke="#444"/>
<path d="M538.6 1218.6L485.7 1218.6" stroke-width="0.45" stroke="#444"/>
<rect x="485.7" y="1223.8" width="52.9" height="2.7" stroke-width="0.01" fill="#878787" stroke="none"/>
<path d="M538.6 1223.8L485.7 1223.8" stroke-width="0.45" stroke="#444"/>
<path d="M538.6 1226.5L485.7 1226.5" stroke-width="0.45" stroke="#444"/>
<rect x="485.7" y="1244.8" width="52.9" height="2.7" stroke-width="0.01" fill="#878787" stroke="none"/>
<path d="M538.6 1244.8L485.7 1244.8" stroke-width="0.45" stroke="#444"/>
<path d="M538.6 1247.5L485.7 1247.5" stroke-width="0.45" stroke="#444"/>
<rect x="485.7" y="1252" width="52.9" height="3" stroke-width="0.01" fill="#878787" stroke="none"/>
<path d="M538.6 1252L485.7 1252" stroke-width="0.45" stroke="#444"/>
<path d="M538.6 1255L485.7 1255" stroke-width="0.45" stroke="#444"/>
<path d="M485.7 1215.6L485.7 1226.5" stroke-width="0.9"/>
<path d="M485.7 1244.8L485.7 1255" stroke-width="0.9"/>
<rect x="487.7" y="1226.5" width="7.7" height="18.3" stroke-width="0.6" fill="url(#dots)"/>
<path d="M504 1227.5H500.8Q495.9 1227.9 495.9 1235.6Q495.9 1243.4 500.8 1243.8H504Z" stroke-width="1.4" stroke="#1e1e1e"/>
<path d="M487.5 1226.5L487.5 1244.8" stroke-width="0.8"/>
<path d="M472.8 1204H477.5L476 1206.5L478.3 1217V1219.5H472.8" stroke-width="0.8"/>
<path d="M478.3 1204.5L485 1203.3H500" stroke-width="0.8"/>
<path d="M476 1203L507 1203" stroke-width="0.7"/>
<path d="M514.2 1215.6L509.5 1207.2L506.7 1208.5L504 1204.7L499.5 1206.9L501 1209.2L496 1210.7L493.2 1213.5L497.5 1215.6L500 1213.2L502.5 1215.6L505.5 1213.2L508 1215.6L510.5 1213.7L512 1215.6Z" stroke-width="0.8"/>
<path d="M514.5 1255L494.7 1255L494.7 1260.8L497.2 1260.8L497.2 1257.6L499.7 1257.6L499.7 1260.6L502.2 1260.6L502.2 1257.6L504.7 1257.6L504.7 1260.6L507.2 1260.6L507.2 1257.6L509.7 1257.6L505.5 1263.1L505.5 1266.6" stroke-width="0.8"/>
<circle cx="501.7" cy="1264" r="2.4" stroke-width="0.8"/>
<circle cx="501.7" cy="1264" r="1" stroke-width="0.6"/>
</g>
<path d="M794.5 1266.2L796 1266.2" stroke-width="0.85"/>
<path d="M885.8 1205.8L885.8 1263.3" stroke-width="0.85"/>
<g transform="translate(1091.2 0) scale(-1 1)">
<path d="M470 1375L500 1375" stroke-width="0.85"/>
<path d="M470 1431.2V1378H498.5Q503 1378 503 1382.5V1413" stroke-width="0.85"/>
<path d="M500 1375Q505.6 1375.6 505.6 1381V1431Q505.6 1433.1 503.5 1433.1H470" stroke-width="0.85"/>
<path d="M472 1378V1382H478V1380" stroke-width="0.8"/>
<rect x="470.6" y="1415.6" width="32.5" height="15.6" stroke-width="0.85"/>
<path d="M503 1390.6H487Q481 1391 476 1395Q471.3 1398.5 471.3 1402.5Q471.8 1405.5 474.5 1405Q476.5 1404.3 476 1402" stroke-width="0.85"/>
<path d="M503 1393H487.5Q482 1393.3 478 1396.5Q474 1399.5 473.6 1402" stroke-width="0.85"/>
<path d="M479.7 1411.3H490.3Q489.77 1406.7 485 1406.5Q480.23 1406.7 479.7 1411.3Z" stroke-width="0.9" fill="#fff"/>
<path d="M483.5 1411.3L483.5 1422.5L485 1426.5L486.5 1422.5L486.5 1411.3Z" stroke-width="0.4" fill="#3a3a3a" stroke="#1e1e1e"/>
<path d="M481.1 1413.4L488.9 1411.8" stroke-width="0.95" stroke="#1e1e1e"/>
<path d="M481.1 1415.7L488.9 1414.1" stroke-width="0.95" stroke="#1e1e1e"/>
<path d="M481.1 1418L488.9 1416.4" stroke-width="0.95" stroke="#1e1e1e"/>
<path d="M481.1 1420.3L488.9 1418.7" stroke-width="0.95" stroke="#1e1e1e"/>
<path d="M482.2 1422.6L487.8 1421" stroke-width="0.95" stroke="#1e1e1e"/>
<path d="M485 1404.3L485 1432.5" stroke-width="0.5"/>
<path d="M495 1413L497 1405.5Q500 1402.5 504 1404L507.5 1413Z" stroke-width="0.9"/>
<path d="M498.5 1410H505" stroke-width="0.7"/>
<path d="M470 1413.1L531.2 1413.1" stroke-width="1.3" stroke="#444"/>
</g>
<path d="M621 1375.6L715.6 1375.6" stroke-width="0.85"/>
<path d="M621 1433.1L715.6 1433.1" stroke-width="0.85"/>
<path d="M624.4 1378.8L631.9 1378.8" stroke-width="0.85"/>
<path d="M680.6 1378.8L704 1378.8" stroke-width="0.85"/>
<path d="M624.4 1430.6L704 1430.6" stroke-width="0.85"/>
<path d="M621.9 1375.6L621.9 1433.1" stroke-width="0.85"/>
<path d="M624.4 1378.8L624.4 1430.6" stroke-width="0.85"/>
<path d="M645 1378.8L645 1430.6" stroke-width="0.85"/>
<path d="M647.5 1400L647.5 1430.6" stroke-width="0.85"/>
<path d="M696.8 1378.8V1381H694V1383H699.2V1378.8" stroke-width="0.8"/>
<path d="M673.8 1430.6V1428.4H671V1426.4H676.2V1430.6" stroke-width="0.8"/>
<path d="M698.2 1430.6V1428.4H695.4V1426.4H700.6V1430.6" stroke-width="0.8"/>
<g transform="translate(185.8 535.7)">
<rect x="446.1" y="835" width="49" height="4.8" stroke-width="1.4" fill="#ddd" rx="1.6" stroke="#1e1e1e"/>
<path d="M448 837.4L493 837.4" stroke-width="1" stroke="#555"/>
<path d="M451.4 839.8V852Q451.4 853.6 453.2 854.5V863Q453.2 864.7 455 864.7H485.8Q487.7 864.7 487.7 863V854.5Q489.9 853.6 489.9 852V839.8" stroke-width="1.5" stroke="#1e1e1e"/>
<path d="M451.4 853.4L489.9 853.4" stroke-width="1.2" stroke="#1e1e1e"/>
<rect x="453.2" y="853.4" width="34.5" height="5.1" stroke-width="0.8" fill="#999" stroke="#1e1e1e"/>
<path d="M463 843L463 853.4" stroke-width="1.3" stroke="#1e1e1e"/>
<path d="M467.5 843L467.5 853.4" stroke-width="1.3" stroke="#1e1e1e"/>
<path d="M472.5 843L472.5 853.4" stroke-width="1.3" stroke="#1e1e1e"/>
<path d="M477 843L477 853.4" stroke-width="1.3" stroke="#1e1e1e"/>
<rect x="464" y="845" width="2.5" height="6.5" stroke-width="0.5" fill="#bbb"/>
<rect x="473.5" y="845" width="2.5" height="6.5" stroke-width="0.5" fill="#bbb"/>
<path d="M458.5 843L481.5 843" stroke-width="1" stroke="#1e1e1e"/>
<path d="M458.5 839.8L458.5 853.4" stroke-width="1" stroke="#1e1e1e"/>
<path d="M481.5 839.8L481.5 853.4" stroke-width="1" stroke="#1e1e1e"/>
<path d="M455 861.2L486 861.2" stroke-width="0.9" stroke="#1e1e1e"/>
</g>
<path d="M638.5 1399.8L673 1399.8" stroke-width="0.9" stroke="#1e1e1e"/>
<rect x="631.9" y="1398" width="20" height="12.6" stroke-width="0.8"/>
<path d="M627.5 1404.4L632 1402.2L634.5 1402.2L634.5 1406.6L632 1406.6Z" stroke-width="0.7" fill="#999"/>
<path d="M635.5 1400.2L636.6 1408.6" stroke-width="1" stroke="#1e1e1e"/>
<path d="M637.6 1400.2L638.7 1408.6" stroke-width="1" stroke="#1e1e1e"/>
<path d="M639.7 1400.2L640.8 1408.6" stroke-width="1" stroke="#1e1e1e"/>
<path d="M641.8 1400.2L642.9 1408.6" stroke-width="1" stroke="#1e1e1e"/>
<path d="M643.9 1400.2L645 1408.6" stroke-width="1" stroke="#1e1e1e"/>
<path d="M646 1400.2L647.1 1408.6" stroke-width="1" stroke="#1e1e1e"/>
<path d="M648.1 1400.2L649.2 1408.6" stroke-width="1" stroke="#1e1e1e"/>
<path d="M650.2 1400.2L651.3 1408.6" stroke-width="1" stroke="#1e1e1e"/>
<path d="M626 1404.4L658 1404.4" stroke-width="0.5"/>
<path d="M651.5 1399.9L656 1404.4L651.5 1408.9Z" stroke-width="0.8" fill="#999"/>
<rect x="651.3" y="1390" width="25" height="28.8" stroke-width="0.9"/>
<path d="M651.3 1418.8V1425H660V1390" stroke-width="0.9"/>
<path d="M673 1397.5L660 1408.8" stroke-width="0.9"/>
<path d="M651.3 1411L676.3 1411" stroke-width="0.8"/>
<path d="M660 1395L676.3 1395" stroke-width="0.8"/>
<path d="M676.9 1378.8V1385.6H686.3V1422.5H676.9V1430.6" stroke-width="0.85"/>
<path d="M686.3 1389.4H678.8V1421.3H686.3" stroke-width="1.5" stroke="#1e1e1e"/>
<path d="M681.5 1391.5L681.5 1419" stroke-width="0.8"/>
<path d="M682 1395L686.3 1395" stroke-width="0.8"/>
<path d="M682 1399.5L686.3 1399.5" stroke-width="0.8"/>
<path d="M682 1404L686.3 1404" stroke-width="0.8"/>
<path d="M682 1408.5L686.3 1408.5" stroke-width="0.8"/>
<path d="M682 1413L686.3 1413" stroke-width="0.8"/>
<path d="M682 1417L686.3 1417" stroke-width="0.8"/>
<rect x="686.3" y="1393" width="6.8" height="24" stroke-width="0.9"/>
<rect x="693.1" y="1396.5" width="2.5" height="17" stroke-width="0.9"/>
<path d="M695.6 1399.5L703.1 1399.5" stroke-width="0.8"/>
<path d="M695.6 1409.5L703.1 1409.5" stroke-width="0.8"/>
<path d="M715.6 1375.6V1381.9H712.5" stroke-width="0.85"/>
<path d="M715.6 1433.1V1426.8H712.5" stroke-width="0.85"/>
<rect x="704.4" y="1379.5" width="6.2" height="8.6" stroke-width="0.5" fill="url(#pilev)" stroke="#222"/>
<rect x="702.6" y="1378.3" width="9.8" height="1.9" stroke-width="0.5" fill="#333"/>
<rect x="704.4" y="1421.3" width="6.2" height="8.7" stroke-width="0.5" fill="url(#pilev)" stroke="#222"/>
<rect x="702.6" y="1429.3" width="9.8" height="1.9" stroke-width="0.5" fill="#333"/>
<path d="M721.9 1388.1H701.9V1392" stroke-width="0.85"/>
<path d="M721.9 1421.3H701.9V1417.4" stroke-width="0.85"/>
<path d="M704.5 1391L721.9 1391" stroke-width="0.85"/>
<path d="M704.5 1418.4L721.9 1418.4" stroke-width="0.85"/>
<path d="M702.8 1392Q701.7 1404.7 702.8 1417.4" stroke-width="1.5" stroke="#1e1e1e"/>
<path d="M704.5 1391V1396H707.5V1398.5H711M704.5 1418.4V1413.4H707.5V1410.9H711" stroke-width="0.8"/>
<rect x="711" y="1398.5" width="5.6" height="12.4" stroke-width="0.9"/>
<rect x="712.7" y="1400.5" width="2.2" height="8.4" stroke-width="0.7"/>
<path d="M707.5 1396H719.5V1413.4H707.5" stroke-width="0.8"/>
<path d="M719.5 1391L719.5 1418.4" stroke-width="0.7"/>
<path d="M703.5 1368.8H723.8Q725 1368.8 725 1370V1433.7" stroke-width="0.85"/>
<path d="M721.9 1433.7V1371.9H703.5Q702.4 1371.9 702.4 1370.3Q702.4 1368.8 703.5 1368.8" stroke-width="0.85"/>
<g transform="translate(347.5 0)">
<path d="M470 1375L500 1375" stroke-width="0.85"/>
<path d="M470 1431.2V1378H498.5Q503 1378 503 1382.5V1413" stroke-width="0.85"/>
<path d="M500 1375Q505.6 1375.6 505.6 1381V1431Q505.6 1433.1 503.5 1433.1H470" stroke-width="0.85"/>
<path d="M472 1378V1382H478V1380" stroke-width="0.8"/>
<rect x="470.6" y="1415.6" width="32.5" height="15.6" stroke-width="0.85"/>
<path d="M503 1390.6H487Q481 1391 476 1395Q471.3 1398.5 471.3 1402.5Q471.8 1405.5 474.5 1405Q476.5 1404.3 476 1402" stroke-width="0.85"/>
<path d="M503 1393H487.5Q482 1393.3 478 1396.5Q474 1399.5 473.6 1402" stroke-width="0.85"/>
<path d="M479.7 1411.3H490.3Q489.77 1406.7 485 1406.5Q480.23 1406.7 479.7 1411.3Z" stroke-width="0.9" fill="#fff"/>
<path d="M483.5 1411.3L483.5 1422.5L485 1426.5L486.5 1422.5L486.5 1411.3Z" stroke-width="0.4" fill="#3a3a3a" stroke="#1e1e1e"/>
<path d="M481.1 1413.4L488.9 1411.8" stroke-width="0.95" stroke="#1e1e1e"/>
<path d="M481.1 1415.7L488.9 1414.1" stroke-width="0.95" stroke="#1e1e1e"/>
<path d="M481.1 1418L488.9 1416.4" stroke-width="0.95" stroke="#1e1e1e"/>
<path d="M481.1 1420.3L488.9 1418.7" stroke-width="0.95" stroke="#1e1e1e"/>
<path d="M482.2 1422.6L487.8 1421" stroke-width="0.95" stroke="#1e1e1e"/>
<path d="M485 1404.3L485 1432.5" stroke-width="0.5"/>
<path d="M495 1413L497 1405.5Q500 1402.5 504 1404L507.5 1413Z" stroke-width="0.9"/>
<path d="M498.5 1410H505" stroke-width="0.7"/>
<path d="M470 1413.1L547.5 1413.1" stroke-width="1.3" stroke="#444"/>
</g>
<path d="M817.5 1375.6H725" stroke-width="0.85"/>
<path d="M723.1 1433.1L817.5 1433.1" stroke-width="0.85"/>
<path d="M723.1 1375.6L723.1 1433.7" stroke-width="0.85"/>
<path d="M725.6 1390.6V1378.8H759.4" stroke-width="0.85"/>
<path d="M807.5 1378.8L815.6 1378.8" stroke-width="0.85"/>
<path d="M725.6 1418.1V1430.6H815.6" stroke-width="0.85"/>
<path d="M793.1 1415.6L793.1 1430.6" stroke-width="0.85"/>
<path d="M795.6 1399.4L795.6 1430.6" stroke-width="0.85"/>
<path d="M793.1 1378.8L793.1 1393.1" stroke-width="0.85"/>
<path d="M815.6 1378.8L815.6 1430.6" stroke-width="0.85"/>
<path d="M723.1 1390.6H733.8V1418.1H723.1" stroke-width="0.85"/>
<path d="M725.6 1393H731.4V1415.8H725.6" stroke-width="0.7"/>
<path d="M727.5 1382L731.5 1384L730.5 1385.6L726.5 1383.6" stroke-width="0.8"/>
<path d="M727.5 1427.5L731.5 1425.5L730.5 1424L726.5 1426" stroke-width="0.8"/>
<path d="M737.6 1378.8V1381H735.5V1383H742.1V1381H740V1378.8" stroke-width="0.8"/>
<path d="M737.6 1430.6V1428.4H735.5V1426.4H742.1V1428.4H740V1430.6" stroke-width="0.8"/>
<path d="M763.8 1430.6V1428.4H761V1426.4H766.2V1430.6" stroke-width="0.8"/>
<path d="M765.6 1378.8V1381H768.4V1383H763.2V1378.8" stroke-width="0.8"/>
<rect x="736.9" y="1393.1" width="56.2" height="22.5" stroke-width="0.85"/>
<rect x="740" y="1395.6" width="51.3" height="17.5" stroke-width="0.85"/>
<path d="M731.3 1398.4Q725.1 1404.4 731.3 1410.4Z" stroke-width="0.8" fill="#fff"/>
<path d="M731.3 1402.6L747.3 1402.6L751.3 1404.4L747.3 1406.2L731.3 1406.2Z" stroke-width="0.4" fill="#2a2a2a" stroke="#1e1e1e"/>
<path d="M732.1 1401L733.5 1407.8" stroke-width="1.15" stroke="#1e1e1e"/>
<path d="M734.35 1401L735.75 1407.8" stroke-width="1.15" stroke="#1e1e1e"/>
<path d="M736.6 1401L738 1407.8" stroke-width="1.15" stroke="#1e1e1e"/>
<path d="M738.85 1401L740.25 1407.8" stroke-width="1.15" stroke="#1e1e1e"/>
<path d="M741.1 1401L742.5 1407.8" stroke-width="1.15" stroke="#1e1e1e"/>
<path d="M743.35 1401L744.75 1407.8" stroke-width="1.15" stroke="#1e1e1e"/>
<path d="M745.6 1401L747 1407.8" stroke-width="1.15" stroke="#1e1e1e"/>
<path d="M723.3 1404.4L755.3 1404.4" stroke-width="0.5"/>
<path d="M791.3 1398.4Q785.1 1404.4 791.3 1410.4Z" stroke-width="0.8" fill="#fff"/>
<path d="M791.3 1402.6L807.3 1402.6L811.3 1404.4L807.3 1406.2L791.3 1406.2Z" stroke-width="0.4" fill="#2a2a2a" stroke="#1e1e1e"/>
<path d="M792.1 1401L793.5 1407.8" stroke-width="1.15" stroke="#1e1e1e"/>
<path d="M794.35 1401L795.75 1407.8" stroke-width="1.15" stroke="#1e1e1e"/>
<path d="M796.6 1401L798 1407.8" stroke-width="1.15" stroke="#1e1e1e"/>
<path d="M798.85 1401L800.25 1407.8" stroke-width="1.15" stroke="#1e1e1e"/>
<path d="M801.1 1401L802.5 1407.8" stroke-width="1.15" stroke="#1e1e1e"/>
<path d="M803.35 1401L804.75 1407.8" stroke-width="1.15" stroke="#1e1e1e"/>
<path d="M805.6 1401L807 1407.8" stroke-width="1.15" stroke="#1e1e1e"/>
<path d="M783.3 1404.4L815.3 1404.4" stroke-width="0.5"/>
<g transform="translate(313.3 535.7)">
<rect x="446.1" y="835" width="49" height="4.8" stroke-width="1.4" fill="#ddd" rx="1.6" stroke="#1e1e1e"/>
<path d="M448 837.4L493 837.4" stroke-width="1" stroke="#555"/>
<path d="M451.4 839.8V852Q451.4 853.6 453.2 854.5V863Q453.2 864.7 455 864.7H485.8Q487.7 864.7 487.7 863V854.5Q489.9 853.6 489.9 852V839.8" stroke-width="1.5" stroke="#1e1e1e"/>
<path d="M451.4 853.4L489.9 853.4" stroke-width="1.2" stroke="#1e1e1e"/>
<rect x="453.2" y="853.4" width="34.5" height="5.1" stroke-width="0.8" fill="#999" stroke="#1e1e1e"/>
<path d="M463 843L463 853.4" stroke-width="1.3" stroke="#1e1e1e"/>
<path d="M467.5 843L467.5 853.4" stroke-width="1.3" stroke="#1e1e1e"/>
<path d="M472.5 843L472.5 853.4" stroke-width="1.3" stroke="#1e1e1e"/>
<path d="M477 843L477 853.4" stroke-width="1.3" stroke="#1e1e1e"/>
<rect x="464" y="845" width="2.5" height="6.5" stroke-width="0.5" fill="#bbb"/>
<rect x="473.5" y="845" width="2.5" height="6.5" stroke-width="0.5" fill="#bbb"/>
<path d="M458.5 843L481.5 843" stroke-width="1" stroke="#1e1e1e"/>
<path d="M458.5 839.8L458.5 853.4" stroke-width="1" stroke="#1e1e1e"/>
<path d="M481.5 839.8L481.5 853.4" stroke-width="1" stroke="#1e1e1e"/>
<path d="M455 861.2L486 861.2" stroke-width="0.9" stroke="#1e1e1e"/>
</g>
<path d="M766 1399.4L802 1399.4" stroke-width="0.9" stroke="#1e1e1e"/>
<path d="M555.7 1412.1L585 1412.1" stroke-width="1.3" stroke="#444"/>
</svg></body></html>
